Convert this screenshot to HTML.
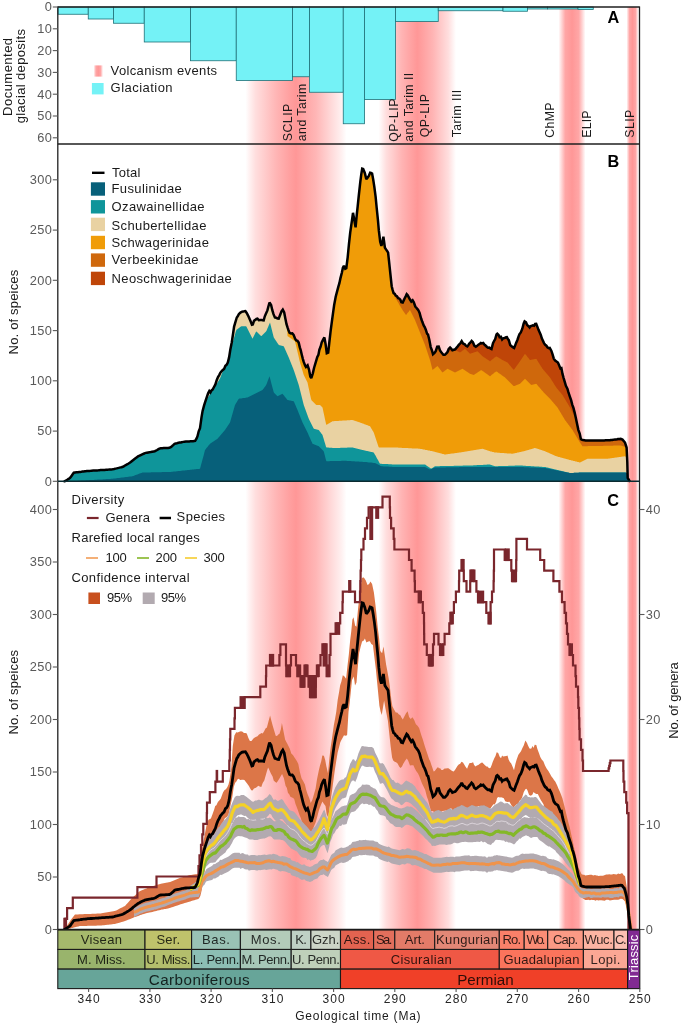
<!DOCTYPE html>
<html lang="en"><head><meta charset="utf-8"><title>Fusuline diversity, glaciation and volcanism</title>
<style>html,body{margin:0;padding:0;background:#fff}svg{display:block}</style></head>
<body>
<svg width="681" height="1024" viewBox="0 0 681 1024" font-family="'Liberation Sans', sans-serif">
<defs>
<linearGradient id="pk" x1="0" x2="1" y1="0" y2="0"><stop offset="0" stop-color="#ff9797" stop-opacity="0"/><stop offset="0.1" stop-color="#ff9797" stop-opacity="0.32"/><stop offset="0.3" stop-color="#ff9797" stop-opacity="0.72"/><stop offset="0.44" stop-color="#ff9797" stop-opacity="0.92"/><stop offset="0.5" stop-color="#ff9797" stop-opacity="1"/><stop offset="0.56" stop-color="#ff9797" stop-opacity="0.92"/><stop offset="0.7" stop-color="#ff9797" stop-opacity="0.72"/><stop offset="0.9" stop-color="#ff9797" stop-opacity="0.32"/><stop offset="1" stop-color="#ff9797" stop-opacity="0"/></linearGradient>
<linearGradient id="pk1" x1="0" x2="1" y1="0" y2="0"><stop offset="0" stop-color="#ff9797" stop-opacity="0"/><stop offset="0.03" stop-color="#ff9797" stop-opacity="0.1"/><stop offset="0.1" stop-color="#ff9797" stop-opacity="0.32"/><stop offset="0.3" stop-color="#ff9797" stop-opacity="0.7"/><stop offset="0.44" stop-color="#ff9797" stop-opacity="0.92"/><stop offset="0.5" stop-color="#ff9797" stop-opacity="1"/><stop offset="0.56" stop-color="#ff9797" stop-opacity="0.9"/><stop offset="0.7" stop-color="#ff9797" stop-opacity="0.7"/><stop offset="0.85" stop-color="#ff9797" stop-opacity="0.36"/><stop offset="0.95" stop-color="#ff9797" stop-opacity="0.14"/><stop offset="1" stop-color="#ff9797" stop-opacity="0"/></linearGradient>
<linearGradient id="pk2" x1="0" x2="1" y1="0" y2="0"><stop offset="0" stop-color="#ff9797" stop-opacity="0"/><stop offset="0.25" stop-color="#ff9797" stop-opacity="0.85"/><stop offset="0.5" stop-color="#ff9797" stop-opacity="1"/><stop offset="0.75" stop-color="#ff9797" stop-opacity="0.85"/><stop offset="1" stop-color="#ff9797" stop-opacity="0"/></linearGradient>
</defs>
<rect width="681" height="1024" fill="#fff"/>
<rect x="245.5" y="7.0" width="101.0" height="922.5" fill="url(#pk1)"/>
<rect x="378.5" y="7.0" width="77.5" height="922.5" fill="url(#pk)"/>
<rect x="558.5" y="7.0" width="27.0" height="922.5" fill="url(#pk2)"/>
<rect x="626.5" y="7.0" width="12.0" height="922.5" fill="url(#pk2)"/>
<rect x="58.00" y="7.0" width="30.25" height="7.25" fill="#74f2f6" stroke="#1f7078" stroke-width="0.8"/>
<rect x="88.25" y="7.0" width="25.25" height="12.00" fill="#74f2f6" stroke="#1f7078" stroke-width="0.8"/>
<rect x="113.50" y="7.0" width="30.75" height="16.25" fill="#74f2f6" stroke="#1f7078" stroke-width="0.8"/>
<rect x="144.25" y="7.0" width="46.25" height="35.00" fill="#74f2f6" stroke="#1f7078" stroke-width="0.8"/>
<rect x="190.50" y="7.0" width="45.75" height="53.75" fill="#74f2f6" stroke="#1f7078" stroke-width="0.8"/>
<rect x="236.25" y="7.0" width="56.25" height="73.50" fill="#74f2f6" stroke="#1f7078" stroke-width="0.8"/>
<rect x="292.50" y="7.0" width="17.00" height="69.75" fill="#74f2f6" stroke="#1f7078" stroke-width="0.8"/>
<rect x="309.50" y="7.0" width="33.75" height="85.25" fill="#74f2f6" stroke="#1f7078" stroke-width="0.8"/>
<rect x="343.25" y="7.0" width="21.25" height="116.75" fill="#74f2f6" stroke="#1f7078" stroke-width="0.8"/>
<rect x="364.50" y="7.0" width="31.00" height="92.50" fill="#74f2f6" stroke="#1f7078" stroke-width="0.8"/>
<rect x="395.50" y="7.0" width="42.75" height="14.50" fill="#74f2f6" stroke="#1f7078" stroke-width="0.8"/>
<rect x="438.25" y="7.0" width="64.75" height="3.75" fill="#74f2f6" stroke="#1f7078" stroke-width="0.8"/>
<rect x="503.00" y="7.0" width="24.50" height="4.25" fill="#74f2f6" stroke="#1f7078" stroke-width="0.8"/>
<rect x="527.50" y="7.0" width="20.00" height="2.00" fill="#74f2f6" stroke="#1f7078" stroke-width="0.8"/>
<rect x="547.50" y="7.0" width="30.50" height="2.00" fill="#74f2f6" stroke="#1f7078" stroke-width="0.8"/>
<rect x="578.00" y="7.0" width="15.25" height="2.50" fill="#74f2f6" stroke="#1f7078" stroke-width="0.8"/>
<polygon points="64.0,481.3 64.0,481.3 64.5,481.3 65.0,481.0 65.5,480.8 66.0,480.5 66.5,480.2 67.0,479.9 67.5,479.5 68.0,479.2 68.5,478.9 69.0,478.6 69.5,478.2 70.0,477.9 70.5,477.2 71.0,476.5 71.5,475.8 72.0,475.1 72.5,474.4 73.0,473.7 73.5,473.1 74.0,472.7 74.5,472.6 75.0,472.5 75.5,472.5 76.0,472.4 76.5,472.4 77.0,472.3 77.5,472.2 78.0,472.2 78.5,472.1 79.0,472.0 79.5,472.0 80.0,471.9 80.5,471.9 81.0,471.8 81.5,471.7 82.0,471.7 82.5,471.6 83.0,471.6 83.5,471.5 84.0,471.4 84.5,471.4 85.0,471.3 85.5,471.3 86.0,471.2 86.5,471.1 87.0,471.1 87.5,471.0 88.0,471.0 88.5,470.9 89.0,470.9 89.5,470.9 90.0,470.8 90.5,470.8 91.0,470.8 91.5,470.7 92.0,470.7 92.5,470.7 93.0,470.6 93.5,470.6 94.0,470.6 94.5,470.5 95.0,470.5 95.5,470.5 96.0,470.4 96.5,470.4 97.0,470.4 97.5,470.3 98.0,470.3 98.5,470.3 99.0,470.2 99.5,470.2 100.0,470.2 100.5,470.1 101.0,470.1 101.5,470.1 102.0,470.0 102.5,470.0 103.0,470.0 103.5,469.9 104.0,469.9 104.5,469.9 105.0,469.8 105.5,469.8 106.0,469.8 106.5,469.7 107.0,469.7 107.5,469.7 108.0,469.6 108.5,469.6 109.0,469.6 109.5,469.5 110.0,469.5 110.5,469.5 111.0,469.4 111.5,469.4 112.0,469.4 112.5,469.3 113.0,469.2 113.5,469.1 114.0,469.0 114.5,468.9 115.0,468.7 115.5,468.6 116.0,468.5 116.5,468.4 117.0,468.3 117.5,468.1 118.0,468.0 118.5,467.9 119.0,467.8 119.5,467.7 120.0,467.5 120.5,467.4 121.0,467.3 121.5,467.2 122.0,467.0 122.5,466.9 123.0,466.7 123.5,466.4 124.0,466.1 124.5,465.8 125.0,465.5 125.5,465.2 126.0,464.9 126.5,464.6 127.0,464.4 127.5,464.1 128.0,463.8 128.5,463.5 129.0,463.2 129.5,462.9 130.0,462.6 130.5,462.2 131.0,461.8 131.5,461.4 132.0,461.0 132.5,460.6 133.0,460.2 133.5,459.8 134.0,459.4 134.5,459.0 135.0,458.6 135.5,458.2 136.0,457.9 136.5,457.5 137.0,457.1 137.5,456.8 138.0,456.4 138.5,456.2 139.0,455.9 139.5,455.7 140.0,455.5 140.5,455.2 141.0,455.0 141.5,454.7 142.0,454.5 142.5,454.3 143.0,454.0 143.5,453.8 144.0,453.5 144.5,453.3 145.0,453.1 145.5,453.0 146.0,452.9 146.5,452.8 147.0,452.7 147.5,452.6 148.0,452.5 148.5,452.4 149.0,452.3 149.5,452.2 150.0,452.1 150.5,452.0 151.0,451.9 151.5,451.8 152.0,451.7 152.5,451.6 153.0,451.5 153.5,451.4 154.0,451.3 154.5,451.2 155.0,451.1 155.5,450.8 156.0,450.6 156.5,450.3 157.0,450.0 157.5,449.7 158.0,449.4 158.5,449.1 159.0,448.9 159.5,448.6 160.0,448.5 160.5,448.3 161.0,448.2 161.5,448.2 162.0,448.2 162.5,448.2 163.0,448.1 163.5,448.1 164.0,448.1 164.5,448.1 165.0,448.0 165.5,448.0 166.0,448.0 166.5,448.0 167.0,447.9 167.5,447.9 168.0,447.9 168.5,447.9 169.0,447.8 169.5,447.7 170.0,447.5 170.5,447.3 171.0,446.9 171.5,446.5 172.0,446.1 172.5,445.6 173.0,445.2 173.5,444.8 174.0,444.4 174.5,443.9 175.0,443.7 175.5,443.4 176.0,443.3 176.5,443.2 177.0,443.1 177.5,443.0 178.0,442.9 178.5,442.8 179.0,442.7 179.5,442.6 180.0,442.5 180.5,442.4 181.0,442.3 181.5,442.2 182.0,442.2 182.5,442.1 183.0,442.0 183.5,441.9 184.0,441.8 184.5,441.7 185.0,441.6 185.5,441.6 186.0,441.5 186.5,441.5 187.0,441.5 187.5,441.5 188.0,441.4 188.5,441.4 189.0,441.4 189.5,441.4 190.0,441.3 190.5,441.3 191.0,441.3 191.5,441.3 192.0,441.2 192.5,441.2 193.0,441.2 193.5,441.2 194.0,441.1 194.5,441.1 195.0,440.9 195.5,440.3 196.0,439.4 196.5,438.6 197.0,437.4 197.5,436.1 198.0,434.1 198.5,432.1 199.0,430.6 199.5,429.5 200.0,428.3 200.5,424.7 201.0,420.9 201.5,417.2 202.0,414.3 202.5,411.5 203.0,409.4 203.5,407.5 204.0,405.6 204.5,404.0 205.0,402.5 205.5,401.0 206.0,399.5 206.5,397.9 207.0,396.5 207.5,395.1 208.0,393.7 208.5,392.6 209.0,391.6 209.5,391.4 210.0,392.0 210.5,392.2 211.0,391.3 211.5,390.4 212.0,389.9 212.5,389.7 213.0,388.8 213.5,387.9 214.0,387.0 214.5,386.0 215.0,385.1 215.5,384.0 216.0,382.4 216.5,380.8 217.0,379.5 217.5,378.3 218.0,377.1 218.5,376.2 219.0,375.4 219.5,374.5 220.0,373.4 220.5,372.5 221.0,371.9 221.5,371.4 222.0,370.8 222.5,370.2 223.0,369.7 223.5,369.3 224.0,368.9 224.5,367.9 225.0,366.7 225.5,365.6 226.0,365.2 226.5,364.8 227.0,364.1 227.5,363.2 228.0,361.8 228.5,359.9 229.0,357.9 229.5,355.1 230.0,351.9 230.5,348.9 231.0,346.3 231.5,343.7 232.0,340.8 232.5,337.6 233.0,334.3 233.5,330.9 234.0,327.3 234.5,325.2 235.0,323.5 235.5,321.8 236.0,320.2 236.5,318.5 237.0,317.3 237.5,316.6 238.0,315.8 238.5,314.8 239.0,314.0 239.5,313.5 240.0,313.0 240.5,312.6 241.0,312.3 241.5,312.0 242.0,311.7 242.5,311.6 243.0,311.5 243.5,311.4 244.0,311.3 244.5,311.3 245.0,311.2 245.5,311.2 246.0,311.9 246.5,312.7 247.0,313.5 247.5,314.5 248.0,315.4 248.5,316.5 249.0,317.5 249.5,318.6 250.0,319.9 250.5,321.2 251.0,322.4 251.5,323.7 252.0,324.7 252.5,324.5 253.0,323.8 253.5,322.3 254.0,320.8 254.5,320.5 255.0,320.1 255.5,319.7 256.0,319.3 256.5,319.0 257.0,318.8 257.5,318.7 258.0,319.2 258.5,319.8 259.0,320.1 259.5,320.1 260.0,320.0 260.5,319.9 261.0,320.0 261.5,320.0 262.0,320.1 262.5,320.2 263.0,320.3 263.5,320.4 264.0,319.2 264.5,317.3 265.0,315.8 265.5,314.8 266.0,313.6 266.5,312.5 267.0,311.3 267.5,309.9 268.0,308.0 268.5,306.1 269.0,304.4 269.5,302.6 270.0,303.3 270.5,304.1 271.0,304.9 271.5,306.8 272.0,309.0 272.5,310.9 273.0,312.5 273.5,314.0 274.0,315.3 274.5,316.5 275.0,317.5 275.5,317.6 276.0,317.7 276.5,318.0 277.0,318.2 277.5,318.5 278.0,318.6 278.5,318.7 279.0,317.9 279.5,316.6 280.0,315.2 280.5,313.9 281.0,312.7 281.5,311.5 282.0,310.8 282.5,310.0 283.0,309.9 283.5,310.9 284.0,312.0 284.5,313.9 285.0,316.5 285.5,319.2 286.0,321.7 286.5,324.2 287.0,325.8 287.5,327.4 288.0,328.9 288.5,330.3 289.0,331.5 289.5,332.6 290.0,333.1 290.5,333.3 291.0,333.5 291.5,333.4 292.0,333.3 292.5,333.6 293.0,334.2 293.5,334.8 294.0,335.9 294.5,337.2 295.0,338.5 295.5,339.3 296.0,340.0 296.5,340.4 297.0,340.6 297.5,341.0 298.0,341.6 298.5,342.3 299.0,343.9 299.5,346.1 300.0,348.1 300.5,349.6 301.0,351.4 301.5,353.5 302.0,355.6 302.5,357.6 303.0,359.5 303.5,361.1 304.0,362.6 304.5,363.8 305.0,365.1 305.5,366.1 306.0,367.0 306.5,366.5 307.0,366.0 307.5,365.5 308.0,366.6 308.5,368.0 309.0,369.5 309.5,372.0 310.0,374.7 310.5,376.8 311.0,377.6 311.5,377.4 312.0,375.8 312.5,374.2 313.0,372.4 313.5,370.2 314.0,367.9 314.5,366.2 315.0,364.5 315.5,362.8 316.0,361.2 316.5,359.5 317.0,357.8 317.5,356.6 318.0,355.7 318.5,354.5 319.0,351.7 319.5,349.4 320.0,348.2 320.5,347.0 321.0,345.2 321.5,343.3 322.0,341.9 322.5,340.8 323.0,339.8 323.5,339.0 324.0,338.1 324.5,338.2 325.0,341.0 325.5,343.7 326.0,347.1 326.5,350.7 327.0,353.1 327.5,352.9 328.0,352.7 328.5,350.1 329.0,345.6 329.5,341.1 330.0,336.6 330.5,332.1 331.0,328.1 331.5,324.2 332.0,320.3 332.5,316.7 333.0,313.1 333.5,309.6 334.0,306.3 334.5,303.3 335.0,300.5 335.5,297.8 336.0,295.6 336.5,293.7 337.0,291.8 337.5,289.8 338.0,287.9 338.5,286.0 339.0,284.5 339.5,282.7 340.0,280.3 340.5,278.0 341.0,276.1 341.5,274.2 342.0,272.2 342.5,269.7 343.0,267.5 343.5,266.5 344.0,266.0 344.5,267.2 345.0,268.4 345.5,268.7 346.0,268.4 346.5,266.7 347.0,262.8 347.5,259.0 348.0,254.3 348.5,248.9 349.0,243.6 349.5,238.8 350.0,234.1 350.5,230.3 351.0,226.9 351.5,223.6 352.0,220.2 352.5,216.6 353.0,212.9 353.5,215.5 354.0,218.3 354.5,221.1 355.0,224.0 355.5,226.9 356.0,222.9 356.5,217.6 357.0,212.6 357.5,207.8 358.0,203.1 358.5,198.3 359.0,193.6 359.5,188.9 360.0,184.3 360.5,180.1 361.0,176.3 361.5,172.9 362.0,170.1 362.5,168.8 363.0,168.9 363.5,169.7 364.0,171.0 364.5,172.3 365.0,174.0 365.5,176.0 366.0,178.0 366.5,178.9 367.0,178.4 367.5,177.9 368.0,177.2 368.5,176.4 369.0,175.4 369.5,174.2 370.0,172.9 370.5,172.8 371.0,173.0 371.5,173.2 372.0,173.4 372.5,175.7 373.0,178.4 373.5,181.4 374.0,184.7 374.5,188.2 375.0,191.9 375.5,195.6 376.0,200.6 376.5,206.2 377.0,211.2 377.5,216.1 378.0,221.0 378.5,226.7 379.0,231.8 379.5,235.9 380.0,240.0 380.5,242.7 381.0,244.5 381.5,245.8 382.0,243.7 382.5,241.6 383.0,239.0 383.5,237.2 384.0,240.8 384.5,244.5 385.0,247.8 385.5,248.7 386.0,249.5 386.5,250.1 387.0,250.8 387.5,251.6 388.0,252.4 388.5,256.3 389.0,261.1 389.5,265.7 390.0,270.3 390.5,274.9 391.0,279.5 391.5,284.1 392.0,287.3 392.5,289.4 393.0,291.2 393.5,292.9 394.0,293.4 394.5,293.7 395.0,294.2 395.5,295.2 396.0,295.7 396.5,296.0 397.0,296.3 397.5,297.1 398.0,297.8 398.5,298.3 399.0,298.4 399.5,298.8 400.0,299.3 400.5,300.1 401.0,301.3 401.5,302.2 402.0,302.3 402.5,302.4 403.0,301.9 403.5,300.8 404.0,299.7 404.5,298.6 405.0,297.6 405.5,296.7 406.0,295.7 406.5,294.7 407.0,294.5 407.5,295.0 408.0,295.8 408.5,296.7 409.0,297.7 409.5,298.6 410.0,299.6 410.5,300.3 411.0,301.1 411.5,301.4 412.0,300.9 412.5,300.4 413.0,300.9 413.5,301.9 414.0,302.9 414.5,304.3 415.0,305.6 415.5,306.7 416.0,307.3 416.5,307.9 417.0,308.5 417.5,309.2 418.0,309.8 418.5,310.6 419.0,311.7 419.5,312.8 420.0,314.5 420.5,316.4 421.0,318.0 421.5,319.5 422.0,321.0 422.5,322.4 423.0,323.6 423.5,324.9 424.0,325.9 424.5,326.7 425.0,327.8 425.5,329.0 426.0,330.3 426.5,331.9 427.0,333.5 427.5,334.0 428.0,334.4 428.5,336.4 429.0,338.4 429.5,340.7 430.0,343.2 430.5,345.8 431.0,347.8 431.5,349.1 432.0,350.7 432.5,352.5 433.0,354.2 433.5,353.7 434.0,353.3 434.5,352.9 435.0,352.2 435.5,351.5 436.0,350.4 436.5,348.8 437.0,347.2 437.5,346.6 438.0,346.5 438.5,346.5 439.0,347.3 439.5,348.9 440.0,350.5 440.5,351.1 441.0,351.7 441.5,352.4 442.0,353.0 442.5,353.7 443.0,354.3 443.5,354.8 444.0,354.8 444.5,354.8 445.0,354.6 445.5,354.1 446.0,353.7 446.5,353.1 447.0,352.6 447.5,352.0 448.0,350.7 448.5,349.4 449.0,348.7 449.5,348.2 450.0,347.7 450.5,347.9 451.0,348.4 451.5,349.0 452.0,349.6 452.5,350.2 453.0,350.0 453.5,349.8 454.0,349.7 454.5,349.5 455.0,349.4 455.5,349.0 456.0,348.4 456.5,347.8 457.0,347.1 457.5,346.5 458.0,345.9 458.5,345.4 459.0,344.8 459.5,344.2 460.0,343.6 460.5,343.1 461.0,342.3 461.5,341.5 462.0,341.5 462.5,342.4 463.0,343.3 463.5,343.8 464.0,344.0 464.5,344.2 465.0,344.6 465.5,345.2 466.0,345.8 466.5,346.1 467.0,346.3 467.5,346.2 468.0,345.5 468.5,344.7 469.0,344.0 469.5,343.4 470.0,342.9 470.5,342.4 471.0,341.8 471.5,341.1 472.0,341.4 472.5,341.9 473.0,342.4 473.5,343.6 474.0,344.8 474.5,345.7 475.0,346.1 475.5,346.4 476.0,346.5 476.5,346.2 477.0,345.9 477.5,345.5 478.0,345.1 478.5,344.7 479.0,344.3 479.5,344.0 480.0,343.6 480.5,343.2 481.0,343.0 481.5,343.3 482.0,343.3 482.5,343.2 483.0,343.0 483.5,343.3 484.0,344.0 484.5,344.6 485.0,345.1 485.5,345.5 486.0,346.0 486.5,346.5 487.0,347.0 487.5,347.3 488.0,347.7 488.5,347.7 489.0,347.6 489.5,347.7 490.0,348.1 490.5,348.5 491.0,348.8 491.5,349.0 492.0,347.1 492.5,345.1 493.0,343.1 493.5,342.2 494.0,341.3 494.5,340.3 495.0,339.4 495.5,337.9 496.0,336.2 496.5,334.5 497.0,334.1 497.5,334.0 498.0,334.4 498.5,334.9 499.0,336.0 499.5,337.1 500.0,337.1 500.5,337.0 501.0,337.1 501.5,338.1 502.0,339.2 502.5,338.9 503.0,338.4 503.5,338.2 504.0,338.1 504.5,338.1 505.0,337.9 505.5,337.6 506.0,337.3 506.5,337.3 507.0,337.4 507.5,338.4 508.0,339.3 508.5,339.8 509.0,340.8 509.5,342.6 510.0,344.3 510.5,345.3 511.0,345.8 511.5,346.2 512.0,346.6 512.5,347.0 513.0,347.4 513.5,347.7 514.0,348.0 514.5,347.1 515.0,346.0 515.5,344.5 516.0,343.1 516.5,342.0 517.0,340.9 517.5,339.7 518.0,338.2 518.5,336.6 519.0,335.3 519.5,334.0 520.0,333.4 520.5,332.8 521.0,331.9 521.5,330.7 522.0,329.5 522.5,328.1 523.0,326.2 523.5,324.3 524.0,322.8 524.5,321.7 525.0,321.6 525.5,322.0 526.0,322.3 526.5,323.6 527.0,324.8 527.5,325.4 528.0,325.8 528.5,326.2 529.0,326.8 529.5,327.4 530.0,326.9 530.5,326.3 531.0,326.1 531.5,325.9 532.0,325.7 532.5,325.5 533.0,325.4 533.5,325.6 534.0,325.7 534.5,324.9 535.0,324.2 535.5,324.0 536.0,323.9 536.5,324.7 537.0,325.9 537.5,327.2 538.0,328.5 538.5,329.8 539.0,330.9 539.5,332.1 540.0,333.2 540.5,334.3 541.0,335.6 541.5,337.3 542.0,338.8 542.5,339.8 543.0,340.9 543.5,342.0 544.0,343.0 544.5,343.8 545.0,344.5 545.5,345.0 546.0,345.4 546.5,345.9 547.0,346.6 547.5,347.4 548.0,347.7 548.5,348.0 549.0,348.1 549.5,348.0 550.0,348.3 550.5,349.3 551.0,350.3 551.5,351.4 552.0,352.8 552.5,354.3 553.0,355.9 553.5,357.5 554.0,358.8 554.5,359.5 555.0,360.2 555.5,360.7 556.0,361.1 556.5,361.5 557.0,361.8 557.5,362.2 558.0,362.6 558.5,363.8 559.0,364.9 559.5,366.1 560.0,367.3 560.5,368.4 561.0,368.2 561.5,368.6 562.0,371.2 562.5,373.7 563.0,375.7 563.5,377.6 564.0,379.2 564.5,380.9 565.0,382.5 565.5,384.4 566.0,386.1 566.5,387.0 567.0,388.0 567.5,389.1 568.0,390.9 568.5,392.6 569.0,394.0 569.5,395.4 570.0,396.9 570.5,398.3 571.0,399.8 571.5,401.6 572.0,403.5 572.5,405.3 573.0,406.7 573.5,408.4 574.0,410.2 574.5,412.1 575.0,414.3 575.5,416.5 576.0,418.8 576.5,421.2 577.0,423.6 577.5,425.9 578.0,428.1 578.5,430.3 579.0,431.7 579.5,433.1 580.0,435.1 580.5,437.4 581.0,439.2 581.5,439.5 582.0,439.8 582.5,440.0 583.0,440.0 583.5,440.1 584.0,440.2 584.5,440.3 585.0,440.4 585.5,440.5 586.0,440.6 586.5,440.6 587.0,440.6 587.5,440.6 588.0,440.6 588.5,440.6 589.0,440.6 589.5,440.6 590.0,440.6 590.5,440.6 591.0,440.6 591.5,440.6 592.0,440.6 592.5,440.6 593.0,440.6 593.5,440.6 594.0,440.6 594.5,440.6 595.0,440.6 595.5,440.6 596.0,440.6 596.5,440.6 597.0,440.6 597.5,440.6 598.0,440.6 598.5,440.6 599.0,440.6 599.5,440.6 600.0,440.6 600.5,440.6 601.0,440.6 601.5,440.6 602.0,440.5 602.5,440.5 603.0,440.5 603.5,440.5 604.0,440.4 604.5,440.4 605.0,440.4 605.5,440.4 606.0,440.3 606.5,440.3 607.0,440.3 607.5,440.3 608.0,440.2 608.5,440.2 609.0,440.2 609.5,440.2 610.0,440.1 610.5,440.1 611.0,440.0 611.5,440.0 612.0,439.9 612.5,439.8 613.0,439.8 613.5,439.7 614.0,439.7 614.5,439.6 615.0,439.5 615.5,439.5 616.0,439.4 616.5,439.3 617.0,439.3 617.5,439.2 618.0,439.2 618.5,439.1 619.0,439.0 619.5,439.0 620.0,438.9 620.5,438.9 621.0,439.0 621.5,439.2 622.0,439.4 622.5,439.6 623.0,440.2 623.5,440.8 624.0,441.3 624.5,441.9 625.0,442.5 625.5,444.1 626.0,445.6 626.5,447.2 627.0,455.8 627.5,470.0 628.0,478.5 628.5,479.3 629.0,480.2 629.5,481.0 630.0,481.0 630.5,481.0 631.0,481.0 631.0,481.3" fill="#bf4508"/>
<polygon points="64.0,481.3 64.0,481.3 64.5,481.3 65.0,481.0 65.5,480.8 66.0,480.5 66.5,480.2 67.0,479.9 67.5,479.5 68.0,479.2 68.5,478.9 69.0,478.6 69.5,478.2 70.0,477.9 70.5,477.2 71.0,476.5 71.5,475.8 72.0,475.1 72.5,474.4 73.0,473.7 73.5,473.1 74.0,472.7 74.5,472.6 75.0,472.5 75.5,472.5 76.0,472.4 76.5,472.4 77.0,472.3 77.5,472.2 78.0,472.2 78.5,472.1 79.0,472.0 79.5,472.0 80.0,471.9 80.5,471.9 81.0,471.8 81.5,471.7 82.0,471.7 82.5,471.6 83.0,471.6 83.5,471.5 84.0,471.4 84.5,471.4 85.0,471.3 85.5,471.3 86.0,471.2 86.5,471.1 87.0,471.1 87.5,471.0 88.0,471.0 88.5,470.9 89.0,470.9 89.5,470.9 90.0,470.8 90.5,470.8 91.0,470.8 91.5,470.7 92.0,470.7 92.5,470.7 93.0,470.6 93.5,470.6 94.0,470.6 94.5,470.5 95.0,470.5 95.5,470.5 96.0,470.4 96.5,470.4 97.0,470.4 97.5,470.3 98.0,470.3 98.5,470.3 99.0,470.2 99.5,470.2 100.0,470.2 100.5,470.1 101.0,470.1 101.5,470.1 102.0,470.0 102.5,470.0 103.0,470.0 103.5,469.9 104.0,469.9 104.5,469.9 105.0,469.8 105.5,469.8 106.0,469.8 106.5,469.7 107.0,469.7 107.5,469.7 108.0,469.6 108.5,469.6 109.0,469.6 109.5,469.5 110.0,469.5 110.5,469.5 111.0,469.4 111.5,469.4 112.0,469.4 112.5,469.3 113.0,469.2 113.5,469.1 114.0,469.0 114.5,468.9 115.0,468.7 115.5,468.6 116.0,468.5 116.5,468.4 117.0,468.3 117.5,468.1 118.0,468.0 118.5,467.9 119.0,467.8 119.5,467.7 120.0,467.5 120.5,467.4 121.0,467.3 121.5,467.2 122.0,467.0 122.5,466.9 123.0,466.7 123.5,466.4 124.0,466.1 124.5,465.8 125.0,465.5 125.5,465.2 126.0,464.9 126.5,464.6 127.0,464.4 127.5,464.1 128.0,463.8 128.5,463.5 129.0,463.2 129.5,462.9 130.0,462.6 130.5,462.2 131.0,461.8 131.5,461.4 132.0,461.0 132.5,460.6 133.0,460.2 133.5,459.8 134.0,459.4 134.5,459.0 135.0,458.6 135.5,458.2 136.0,457.9 136.5,457.5 137.0,457.1 137.5,456.8 138.0,456.4 138.5,456.2 139.0,455.9 139.5,455.7 140.0,455.5 140.5,455.2 141.0,455.0 141.5,454.7 142.0,454.5 142.5,454.3 143.0,454.0 143.5,453.8 144.0,453.5 144.5,453.3 145.0,453.1 145.5,453.0 146.0,452.9 146.5,452.8 147.0,452.7 147.5,452.6 148.0,452.5 148.5,452.4 149.0,452.3 149.5,452.2 150.0,452.1 150.5,452.0 151.0,451.9 151.5,451.8 152.0,451.7 152.5,451.6 153.0,451.5 153.5,451.4 154.0,451.3 154.5,451.2 155.0,451.1 155.5,450.8 156.0,450.6 156.5,450.3 157.0,450.0 157.5,449.7 158.0,449.4 158.5,449.1 159.0,448.9 159.5,448.6 160.0,448.5 160.5,448.3 161.0,448.2 161.5,448.2 162.0,448.2 162.5,448.2 163.0,448.1 163.5,448.1 164.0,448.1 164.5,448.1 165.0,448.0 165.5,448.0 166.0,448.0 166.5,448.0 167.0,447.9 167.5,447.9 168.0,447.9 168.5,447.9 169.0,447.8 169.5,447.7 170.0,447.5 170.5,447.3 171.0,446.9 171.5,446.5 172.0,446.1 172.5,445.6 173.0,445.2 173.5,444.8 174.0,444.4 174.5,443.9 175.0,443.7 175.5,443.4 176.0,443.3 176.5,443.2 177.0,443.1 177.5,443.0 178.0,442.9 178.5,442.8 179.0,442.7 179.5,442.6 180.0,442.5 180.5,442.4 181.0,442.3 181.5,442.2 182.0,442.2 182.5,442.1 183.0,442.0 183.5,441.9 184.0,441.8 184.5,441.7 185.0,441.6 185.5,441.6 186.0,441.5 186.5,441.5 187.0,441.5 187.5,441.5 188.0,441.4 188.5,441.4 189.0,441.4 189.5,441.4 190.0,441.3 190.5,441.3 191.0,441.3 191.5,441.3 192.0,441.2 192.5,441.2 193.0,441.2 193.5,441.2 194.0,441.1 194.5,441.1 195.0,440.9 195.5,440.3 196.0,439.4 196.5,438.6 197.0,437.4 197.5,436.1 198.0,434.1 198.5,432.1 199.0,430.6 199.5,429.5 200.0,428.3 200.5,424.7 201.0,420.9 201.5,417.2 202.0,414.3 202.5,411.5 203.0,409.4 203.5,407.5 204.0,405.6 204.5,404.0 205.0,402.5 205.5,401.0 206.0,399.5 206.5,397.9 207.0,396.5 207.5,395.1 208.0,393.7 208.5,392.6 209.0,391.6 209.5,391.4 210.0,392.0 210.5,392.2 211.0,391.3 211.5,390.4 212.0,389.9 212.5,389.7 213.0,388.8 213.5,387.9 214.0,387.0 214.5,386.0 215.0,385.1 215.5,384.0 216.0,382.4 216.5,380.8 217.0,379.5 217.5,378.3 218.0,377.1 218.5,376.2 219.0,375.4 219.5,374.5 220.0,373.4 220.5,372.5 221.0,371.9 221.5,371.4 222.0,370.8 222.5,370.2 223.0,369.7 223.5,369.3 224.0,368.9 224.5,367.9 225.0,366.7 225.5,365.6 226.0,365.2 226.5,364.8 227.0,364.1 227.5,363.2 228.0,361.8 228.5,359.9 229.0,357.9 229.5,355.1 230.0,351.9 230.5,348.9 231.0,346.3 231.5,343.7 232.0,340.8 232.5,337.6 233.0,334.3 233.5,330.9 234.0,327.3 234.5,325.2 235.0,323.5 235.5,321.8 236.0,320.2 236.5,318.5 237.0,317.3 237.5,316.6 238.0,315.8 238.5,314.8 239.0,314.0 239.5,313.5 240.0,313.0 240.5,312.6 241.0,312.3 241.5,312.0 242.0,311.7 242.5,311.6 243.0,311.5 243.5,311.4 244.0,311.3 244.5,311.3 245.0,311.2 245.5,311.2 246.0,311.9 246.5,312.7 247.0,313.5 247.5,314.5 248.0,315.4 248.5,316.5 249.0,317.5 249.5,318.6 250.0,319.9 250.5,321.2 251.0,322.4 251.5,323.7 252.0,324.7 252.5,324.5 253.0,323.8 253.5,322.3 254.0,320.8 254.5,320.5 255.0,320.1 255.5,319.7 256.0,319.3 256.5,319.0 257.0,318.8 257.5,318.7 258.0,319.2 258.5,319.8 259.0,320.1 259.5,320.1 260.0,320.0 260.5,319.9 261.0,320.0 261.5,320.0 262.0,320.1 262.5,320.2 263.0,320.3 263.5,320.4 264.0,319.2 264.5,317.3 265.0,315.8 265.5,314.8 266.0,313.6 266.5,312.5 267.0,311.3 267.5,309.9 268.0,308.0 268.5,306.1 269.0,304.4 269.5,302.6 270.0,303.3 270.5,304.1 271.0,304.9 271.5,306.8 272.0,309.0 272.5,310.9 273.0,312.5 273.5,314.0 274.0,315.3 274.5,316.5 275.0,317.5 275.5,317.6 276.0,317.7 276.5,318.0 277.0,318.2 277.5,318.5 278.0,318.6 278.5,318.7 279.0,317.9 279.5,316.6 280.0,315.2 280.5,313.9 281.0,312.7 281.5,311.5 282.0,310.8 282.5,310.0 283.0,309.9 283.5,310.9 284.0,312.0 284.5,313.9 285.0,316.5 285.5,319.2 286.0,321.7 286.5,324.2 287.0,325.8 287.5,327.4 288.0,328.9 288.5,330.3 289.0,331.5 289.5,332.6 290.0,333.1 290.5,333.3 291.0,333.5 291.5,333.4 292.0,333.3 292.5,333.6 293.0,334.2 293.5,334.8 294.0,335.9 294.5,337.2 295.0,338.5 295.5,339.3 296.0,340.0 296.5,340.4 297.0,340.6 297.5,341.0 298.0,341.6 298.5,342.3 299.0,343.9 299.5,346.1 300.0,348.1 300.5,349.6 301.0,351.4 301.5,353.5 302.0,355.6 302.5,357.6 303.0,359.5 303.5,361.1 304.0,362.6 304.5,363.8 305.0,365.1 305.5,366.1 306.0,367.0 306.5,366.5 307.0,366.0 307.5,365.5 308.0,366.6 308.5,368.0 309.0,369.5 309.5,372.0 310.0,374.7 310.5,376.8 311.0,377.6 311.5,377.4 312.0,375.8 312.5,374.2 313.0,372.4 313.5,370.2 314.0,367.9 314.5,366.2 315.0,364.5 315.5,362.8 316.0,361.2 316.5,359.5 317.0,357.8 317.5,356.6 318.0,355.7 318.5,354.5 319.0,351.7 319.5,349.4 320.0,348.2 320.5,347.0 321.0,345.2 321.5,343.3 322.0,341.9 322.5,340.8 323.0,339.8 323.5,339.0 324.0,338.1 324.5,338.2 325.0,341.0 325.5,343.7 326.0,347.1 326.5,350.7 327.0,353.1 327.5,352.9 328.0,352.7 328.5,350.1 329.0,345.6 329.5,341.1 330.0,336.6 330.5,332.1 331.0,328.1 331.5,324.2 332.0,320.3 332.5,316.7 333.0,313.1 333.5,309.6 334.0,306.3 334.5,303.3 335.0,300.5 335.5,297.8 336.0,295.6 336.5,293.7 337.0,291.8 337.5,289.8 338.0,287.9 338.5,286.0 339.0,284.5 339.5,282.7 340.0,280.3 340.5,278.0 341.0,276.1 341.5,274.2 342.0,272.2 342.5,269.7 343.0,267.5 343.5,266.5 344.0,266.0 344.5,267.2 345.0,268.4 345.5,268.7 346.0,268.4 346.5,266.7 347.0,262.8 347.5,259.0 348.0,254.3 348.5,248.9 349.0,243.6 349.5,238.8 350.0,234.1 350.5,230.3 351.0,226.9 351.5,223.6 352.0,220.2 352.5,216.6 353.0,212.9 353.5,215.5 354.0,218.3 354.5,221.1 355.0,224.0 355.5,226.9 356.0,222.9 356.5,217.6 357.0,212.6 357.5,207.8 358.0,203.1 358.5,198.3 359.0,193.6 359.5,188.9 360.0,184.3 360.5,180.1 361.0,176.3 361.5,172.9 362.0,170.1 362.5,168.8 363.0,168.9 363.5,169.7 364.0,171.0 364.5,172.3 365.0,174.0 365.5,176.0 366.0,178.0 366.5,178.9 367.0,178.4 367.5,177.9 368.0,177.2 368.5,176.4 369.0,175.4 369.5,174.2 370.0,172.9 370.5,172.8 371.0,173.0 371.5,173.2 372.0,173.4 372.5,175.7 373.0,178.4 373.5,181.4 374.0,184.7 374.5,188.2 375.0,191.9 375.5,195.6 376.0,200.6 376.5,206.2 377.0,211.2 377.5,216.1 378.0,221.0 378.5,226.7 379.0,231.8 379.5,235.9 380.0,240.0 380.5,242.7 381.0,244.5 381.5,245.8 382.0,243.7 382.5,241.6 383.0,239.0 383.5,237.2 384.0,240.8 384.5,244.5 385.0,247.8 385.5,248.7 386.0,249.5 386.5,250.1 387.0,250.8 387.5,251.6 388.0,252.4 388.5,256.3 389.0,261.1 389.5,265.7 390.0,270.3 390.5,274.9 391.0,279.5 391.5,284.1 392.0,287.3 392.5,289.4 393.0,291.2 393.5,292.9 394.0,293.4 394.5,293.7 395.0,294.2 395.5,295.2 396.0,295.7 396.5,296.0 397.0,296.3 397.5,297.1 398.0,297.8 398.5,298.3 399.0,298.4 399.5,298.8 400.0,299.3 400.5,300.1 401.0,301.3 401.5,302.2 402.0,302.3 402.5,302.4 403.0,301.9 403.5,300.8 404.0,299.7 404.5,298.6 405.0,297.6 405.5,296.7 406.0,295.7 406.5,294.7 407.0,294.5 407.5,295.0 408.0,295.8 408.5,296.7 409.0,297.7 409.5,298.6 410.0,299.6 410.5,300.3 411.0,301.1 411.5,301.4 412.0,300.9 412.5,300.4 413.0,300.9 413.5,301.9 414.0,302.9 414.5,304.3 415.0,305.6 415.5,306.7 416.0,307.3 416.5,307.9 417.0,308.5 417.5,309.2 418.0,309.8 418.5,310.6 419.0,311.7 419.5,312.8 420.0,314.5 420.5,316.4 421.0,318.0 421.5,319.5 422.0,321.0 422.5,322.4 423.0,323.6 423.5,324.9 424.0,325.9 424.5,326.7 425.0,327.8 425.5,329.0 426.0,330.3 426.5,331.9 427.0,333.5 427.5,334.0 428.0,334.4 428.5,336.4 429.0,338.4 429.5,340.7 430.0,343.2 430.5,345.8 431.0,347.8 431.5,349.1 432.0,350.7 432.5,352.5 433.0,354.2 433.5,353.7 434.0,353.3 434.5,352.9 435.0,352.2 435.5,351.5 436.0,350.4 436.5,348.8 437.0,347.2 437.5,346.6 438.0,346.5 438.5,346.5 439.0,347.3 439.5,348.9 440.0,350.5 440.5,351.1 441.0,351.7 441.5,352.4 442.0,353.0 442.5,353.7 443.0,354.3 443.5,354.8 444.0,354.8 444.5,354.8 445.0,354.6 445.5,354.1 446.0,353.7 446.5,353.1 447.0,352.6 447.5,352.2 448.0,352.1 448.5,351.9 449.0,351.8 449.5,351.6 450.0,351.5 450.5,351.4 451.0,351.2 451.5,351.1 452.0,350.9 452.5,350.8 453.0,350.6 453.5,350.4 454.0,350.3 454.5,350.1 455.0,350.0 455.5,350.2 456.0,350.5 456.5,350.8 457.0,351.0 457.5,351.2 458.0,351.5 458.5,351.8 459.0,352.0 459.5,352.2 460.0,352.5 460.5,352.1 461.0,351.8 461.5,351.4 462.0,351.0 462.5,350.6 463.0,350.2 463.5,349.9 464.0,349.5 464.5,349.1 465.0,348.8 465.5,349.2 466.0,349.8 466.5,350.2 467.0,350.8 467.5,351.2 468.0,351.8 468.5,352.2 469.0,352.8 469.5,353.2 470.0,353.8 470.5,353.6 471.0,353.4 471.5,353.2 472.0,353.1 472.5,352.9 473.0,352.8 473.5,352.6 474.0,352.4 474.5,352.2 475.0,352.1 475.5,351.9 476.0,351.8 476.5,351.6 477.0,351.4 477.5,351.2 478.0,351.8 478.5,352.2 479.0,352.8 479.5,353.2 480.0,353.8 480.5,354.2 481.0,354.8 481.5,355.2 482.0,355.8 482.5,356.2 483.0,356.6 483.5,356.9 484.0,357.2 484.5,357.6 485.0,357.9 485.5,358.2 486.0,358.6 486.5,358.9 487.0,359.2 487.5,359.6 488.0,359.9 488.5,360.2 489.0,360.6 489.5,360.9 490.0,361.2 490.5,360.9 491.0,360.4 491.5,360.1 492.0,359.6 492.5,359.2 493.0,358.9 493.5,358.4 494.0,358.1 494.5,357.6 495.0,357.2 495.5,356.9 496.0,356.4 496.5,356.4 497.0,356.7 497.5,357.0 498.0,357.3 498.5,357.6 499.0,357.9 499.5,358.2 500.0,358.5 500.5,358.8 501.0,359.1 501.5,359.4 502.0,359.7 502.5,360.0 503.0,360.2 503.5,360.5 504.0,360.8 504.5,361.0 505.0,361.2 505.5,361.5 506.0,361.8 506.5,362.0 507.0,362.2 507.5,362.5 508.0,363.1 508.5,363.7 509.0,364.3 509.5,364.9 510.0,365.5 510.5,366.1 511.0,366.7 511.5,367.3 512.0,367.9 512.5,368.5 513.0,369.1 513.5,369.7 514.0,369.6 514.5,368.9 515.0,368.2 515.5,367.6 516.0,366.9 516.5,366.1 517.0,365.4 517.5,364.8 518.0,364.1 518.5,363.4 519.0,362.6 519.5,361.9 520.0,361.2 520.5,360.5 521.0,359.8 521.5,359.0 522.0,358.2 522.5,357.5 523.0,356.8 523.5,356.0 524.0,355.2 524.5,354.5 525.0,353.8 525.5,354.4 526.0,355.0 526.5,355.6 527.0,356.2 527.5,356.9 528.0,357.5 528.5,358.1 529.0,358.8 529.5,359.4 530.0,360.0 530.5,359.9 531.0,359.8 531.5,359.7 532.0,359.6 532.5,359.5 533.0,359.4 533.5,359.3 534.0,359.2 534.5,359.1 535.0,359.0 535.5,358.9 536.0,358.8 536.5,359.1 537.0,359.9 537.5,360.8 538.0,361.6 538.5,362.4 539.0,363.1 539.5,363.9 540.0,364.8 540.5,365.6 541.0,366.4 541.5,367.1 542.0,367.9 542.5,368.8 543.0,369.3 543.5,369.9 544.0,370.5 544.5,371.1 545.0,371.7 545.5,372.2 546.0,372.8 546.5,373.4 547.0,374.0 547.5,374.6 548.0,375.2 548.5,375.8 549.0,376.3 549.5,376.9 550.0,377.5 550.5,378.3 551.0,379.1 551.5,379.9 552.0,380.7 552.5,381.5 553.0,382.3 553.5,383.1 554.0,383.9 554.5,384.7 555.0,385.5 555.5,386.3 556.0,387.1 556.5,387.8 557.0,388.4 557.5,389.0 558.0,389.6 558.5,390.2 559.0,390.8 559.5,391.4 560.0,392.0 560.5,392.6 561.0,393.2 561.5,393.8 562.0,394.4 562.5,395.0 563.0,395.8 563.5,396.7 564.0,397.5 564.5,398.3 565.0,399.2 565.5,400.0 566.0,400.8 566.5,401.7 567.0,402.5 567.5,403.3 568.0,404.2 568.5,405.0 569.0,405.8 569.5,406.7 570.0,407.5 570.5,408.5 571.0,409.5 571.5,410.5 572.0,411.5 572.5,412.5 573.0,413.5 573.5,414.5 574.0,415.5 574.5,416.5 575.0,417.5 575.5,419.6 576.0,421.8 576.5,423.9 577.0,426.0 577.5,428.1 578.0,430.2 578.5,432.4 579.0,434.5 579.5,436.6 580.0,438.8 580.5,439.2 581.0,439.8 581.5,440.2 582.0,440.8 582.5,441.2 583.0,441.2 583.5,441.2 584.0,441.2 584.5,441.2 585.0,441.2 585.5,441.2 586.0,441.2 586.5,441.2 587.0,441.2 587.5,441.2 588.0,441.2 588.5,441.2 589.0,441.2 589.5,441.2 590.0,441.2 590.5,441.2 591.0,441.2 591.5,441.2 592.0,441.2 592.5,441.2 593.0,441.2 593.5,441.2 594.0,441.2 594.5,441.2 595.0,441.2 595.5,441.2 596.0,441.2 596.5,441.2 597.0,441.2 597.5,441.2 598.0,441.2 598.5,441.2 599.0,441.2 599.5,441.2 600.0,441.2 600.5,441.2 601.0,441.2 601.5,441.1 602.0,441.1 602.5,441.1 603.0,441.1 603.5,441.1 604.0,441.1 604.5,441.1 605.0,441.1 605.5,441.1 606.0,441.1 606.5,441.1 607.0,441.1 607.5,441.1 608.0,441.1 608.5,441.1 609.0,441.1 609.5,441.1 610.0,441.1 610.5,441.1 611.0,441.1 611.5,441.1 612.0,441.1 612.5,441.1 613.0,441.1 613.5,441.1 614.0,441.1 614.5,441.1 615.0,441.1 615.5,441.1 616.0,441.1 616.5,441.1 617.0,441.1 617.5,441.1 618.0,441.1 618.5,441.1 619.0,441.1 619.5,441.1 620.0,441.1 620.5,441.1 621.0,441.0 621.5,441.0 622.0,441.0 622.5,441.0 623.0,441.0 623.5,441.0 624.0,441.3 624.5,441.9 625.0,442.5 625.5,444.1 626.0,445.6 626.5,447.2 627.0,455.8 627.5,470.0 628.0,478.5 628.5,479.3 629.0,480.2 629.5,481.0 630.0,481.0 630.5,481.0 631.0,481.0 631.0,481.3" fill="#cf680c"/>
<polygon points="64.0,481.3 64.0,481.3 64.5,481.3 65.0,481.0 65.5,480.8 66.0,480.5 66.5,480.2 67.0,479.9 67.5,479.5 68.0,479.2 68.5,478.9 69.0,478.6 69.5,478.2 70.0,477.9 70.5,477.2 71.0,476.5 71.5,475.8 72.0,475.1 72.5,474.4 73.0,473.7 73.5,473.1 74.0,472.7 74.5,472.6 75.0,472.5 75.5,472.5 76.0,472.4 76.5,472.4 77.0,472.3 77.5,472.2 78.0,472.2 78.5,472.1 79.0,472.0 79.5,472.0 80.0,471.9 80.5,471.9 81.0,471.8 81.5,471.7 82.0,471.7 82.5,471.6 83.0,471.6 83.5,471.5 84.0,471.4 84.5,471.4 85.0,471.3 85.5,471.3 86.0,471.2 86.5,471.1 87.0,471.1 87.5,471.0 88.0,471.0 88.5,470.9 89.0,470.9 89.5,470.9 90.0,470.8 90.5,470.8 91.0,470.8 91.5,470.7 92.0,470.7 92.5,470.7 93.0,470.6 93.5,470.6 94.0,470.6 94.5,470.5 95.0,470.5 95.5,470.5 96.0,470.4 96.5,470.4 97.0,470.4 97.5,470.3 98.0,470.3 98.5,470.3 99.0,470.2 99.5,470.2 100.0,470.2 100.5,470.1 101.0,470.1 101.5,470.1 102.0,470.0 102.5,470.0 103.0,470.0 103.5,469.9 104.0,469.9 104.5,469.9 105.0,469.8 105.5,469.8 106.0,469.8 106.5,469.7 107.0,469.7 107.5,469.7 108.0,469.6 108.5,469.6 109.0,469.6 109.5,469.5 110.0,469.5 110.5,469.5 111.0,469.4 111.5,469.4 112.0,469.4 112.5,469.3 113.0,469.2 113.5,469.1 114.0,469.0 114.5,468.9 115.0,468.7 115.5,468.6 116.0,468.5 116.5,468.4 117.0,468.3 117.5,468.1 118.0,468.0 118.5,467.9 119.0,467.8 119.5,467.7 120.0,467.5 120.5,467.4 121.0,467.3 121.5,467.2 122.0,467.0 122.5,466.9 123.0,466.7 123.5,466.4 124.0,466.1 124.5,465.8 125.0,465.5 125.5,465.2 126.0,464.9 126.5,464.6 127.0,464.4 127.5,464.1 128.0,463.8 128.5,463.5 129.0,463.2 129.5,462.9 130.0,462.6 130.5,462.2 131.0,461.8 131.5,461.4 132.0,461.0 132.5,460.6 133.0,460.2 133.5,459.8 134.0,459.4 134.5,459.0 135.0,458.6 135.5,458.2 136.0,457.9 136.5,457.5 137.0,457.1 137.5,456.8 138.0,456.4 138.5,456.2 139.0,455.9 139.5,455.7 140.0,455.5 140.5,455.2 141.0,455.0 141.5,454.7 142.0,454.5 142.5,454.3 143.0,454.0 143.5,453.8 144.0,453.5 144.5,453.3 145.0,453.1 145.5,453.0 146.0,452.9 146.5,452.8 147.0,452.7 147.5,452.6 148.0,452.5 148.5,452.4 149.0,452.3 149.5,452.2 150.0,452.1 150.5,452.0 151.0,451.9 151.5,451.8 152.0,451.7 152.5,451.6 153.0,451.5 153.5,451.4 154.0,451.3 154.5,451.2 155.0,451.1 155.5,450.8 156.0,450.6 156.5,450.3 157.0,450.0 157.5,449.7 158.0,449.4 158.5,449.1 159.0,448.9 159.5,448.6 160.0,448.5 160.5,448.3 161.0,448.2 161.5,448.2 162.0,448.2 162.5,448.2 163.0,448.1 163.5,448.1 164.0,448.1 164.5,448.1 165.0,448.0 165.5,448.0 166.0,448.0 166.5,448.0 167.0,447.9 167.5,447.9 168.0,447.9 168.5,447.9 169.0,447.8 169.5,447.7 170.0,447.5 170.5,447.3 171.0,446.9 171.5,446.5 172.0,446.1 172.5,445.6 173.0,445.2 173.5,444.8 174.0,444.4 174.5,443.9 175.0,443.7 175.5,443.4 176.0,443.3 176.5,443.2 177.0,443.1 177.5,443.0 178.0,442.9 178.5,442.8 179.0,442.7 179.5,442.6 180.0,442.5 180.5,442.4 181.0,442.3 181.5,442.2 182.0,442.2 182.5,442.1 183.0,442.0 183.5,441.9 184.0,441.8 184.5,441.7 185.0,441.6 185.5,441.6 186.0,441.5 186.5,441.5 187.0,441.5 187.5,441.5 188.0,441.4 188.5,441.4 189.0,441.4 189.5,441.4 190.0,441.3 190.5,441.3 191.0,441.3 191.5,441.3 192.0,441.2 192.5,441.2 193.0,441.2 193.5,441.2 194.0,441.1 194.5,441.1 195.0,440.9 195.5,440.3 196.0,439.4 196.5,438.6 197.0,437.4 197.5,436.1 198.0,434.1 198.5,432.1 199.0,430.6 199.5,429.5 200.0,428.3 200.5,424.7 201.0,420.9 201.5,417.2 202.0,414.3 202.5,411.5 203.0,409.4 203.5,407.5 204.0,405.6 204.5,404.0 205.0,402.5 205.5,401.0 206.0,399.5 206.5,397.9 207.0,396.5 207.5,395.1 208.0,393.7 208.5,392.6 209.0,391.6 209.5,391.4 210.0,392.0 210.5,392.2 211.0,391.3 211.5,390.4 212.0,389.9 212.5,389.7 213.0,388.8 213.5,387.9 214.0,387.0 214.5,386.0 215.0,385.1 215.5,384.0 216.0,382.4 216.5,380.8 217.0,379.5 217.5,378.3 218.0,377.1 218.5,376.2 219.0,375.4 219.5,374.5 220.0,373.4 220.5,372.5 221.0,371.9 221.5,371.4 222.0,370.8 222.5,370.2 223.0,369.7 223.5,369.3 224.0,368.9 224.5,367.9 225.0,366.7 225.5,365.6 226.0,365.2 226.5,364.8 227.0,364.1 227.5,363.2 228.0,361.8 228.5,359.9 229.0,357.9 229.5,355.1 230.0,351.9 230.5,348.9 231.0,346.3 231.5,343.7 232.0,340.8 232.5,337.6 233.0,334.3 233.5,330.9 234.0,327.3 234.5,325.2 235.0,323.5 235.5,321.8 236.0,320.2 236.5,318.5 237.0,317.3 237.5,316.6 238.0,315.8 238.5,314.8 239.0,314.0 239.5,313.5 240.0,313.0 240.5,312.6 241.0,312.3 241.5,312.0 242.0,311.7 242.5,311.6 243.0,311.5 243.5,311.4 244.0,311.3 244.5,311.3 245.0,311.2 245.5,311.2 246.0,311.9 246.5,312.7 247.0,313.5 247.5,314.5 248.0,315.4 248.5,316.5 249.0,317.5 249.5,318.6 250.0,319.9 250.5,321.2 251.0,322.4 251.5,323.7 252.0,324.7 252.5,324.5 253.0,323.8 253.5,322.3 254.0,320.8 254.5,320.5 255.0,320.1 255.5,319.7 256.0,319.3 256.5,319.0 257.0,318.8 257.5,318.7 258.0,319.2 258.5,319.8 259.0,320.1 259.5,320.1 260.0,320.0 260.5,319.9 261.0,320.0 261.5,320.0 262.0,320.1 262.5,320.2 263.0,320.3 263.5,320.4 264.0,319.2 264.5,317.3 265.0,315.8 265.5,314.8 266.0,313.6 266.5,312.5 267.0,311.3 267.5,309.9 268.0,308.0 268.5,306.1 269.0,304.4 269.5,302.6 270.0,303.3 270.5,304.1 271.0,304.9 271.5,306.8 272.0,309.0 272.5,310.9 273.0,312.5 273.5,314.0 274.0,315.3 274.5,316.5 275.0,317.5 275.5,317.6 276.0,317.7 276.5,318.0 277.0,318.2 277.5,318.5 278.0,318.6 278.5,318.7 279.0,317.9 279.5,316.6 280.0,315.2 280.5,313.9 281.0,312.7 281.5,311.5 282.0,310.8 282.5,310.0 283.0,309.9 283.5,310.9 284.0,312.0 284.5,313.9 285.0,316.5 285.5,319.2 286.0,321.7 286.5,324.2 287.0,325.8 287.5,327.4 288.0,328.9 288.5,330.3 289.0,331.5 289.5,332.6 290.0,333.1 290.5,333.3 291.0,333.5 291.5,333.4 292.0,333.3 292.5,333.6 293.0,334.2 293.5,334.8 294.0,335.9 294.5,337.2 295.0,338.5 295.5,339.3 296.0,340.0 296.5,340.4 297.0,340.6 297.5,341.0 298.0,341.6 298.5,342.3 299.0,343.9 299.5,346.1 300.0,348.1 300.5,349.6 301.0,351.4 301.5,353.5 302.0,355.6 302.5,357.6 303.0,359.5 303.5,361.1 304.0,362.6 304.5,363.8 305.0,365.1 305.5,366.1 306.0,367.0 306.5,366.5 307.0,366.0 307.5,365.5 308.0,366.6 308.5,368.0 309.0,369.5 309.5,372.0 310.0,374.7 310.5,376.8 311.0,377.6 311.5,377.4 312.0,375.8 312.5,374.2 313.0,372.4 313.5,370.2 314.0,367.9 314.5,366.2 315.0,364.5 315.5,362.8 316.0,361.2 316.5,359.5 317.0,357.8 317.5,356.6 318.0,355.7 318.5,354.5 319.0,351.7 319.5,349.4 320.0,348.2 320.5,347.0 321.0,345.2 321.5,343.3 322.0,341.9 322.5,340.8 323.0,339.8 323.5,339.0 324.0,338.1 324.5,338.2 325.0,341.0 325.5,343.7 326.0,347.1 326.5,350.7 327.0,353.1 327.5,352.9 328.0,352.7 328.5,350.1 329.0,345.6 329.5,341.1 330.0,336.6 330.5,332.1 331.0,328.1 331.5,324.2 332.0,320.3 332.5,316.7 333.0,313.1 333.5,309.6 334.0,306.3 334.5,303.3 335.0,300.5 335.5,297.8 336.0,295.6 336.5,293.7 337.0,291.8 337.5,289.8 338.0,287.9 338.5,286.0 339.0,284.5 339.5,282.7 340.0,280.3 340.5,278.0 341.0,276.1 341.5,274.2 342.0,272.2 342.5,269.7 343.0,267.5 343.5,266.5 344.0,266.0 344.5,267.2 345.0,268.4 345.5,268.7 346.0,268.4 346.5,266.7 347.0,262.8 347.5,259.0 348.0,254.3 348.5,248.9 349.0,243.6 349.5,238.8 350.0,234.1 350.5,230.3 351.0,226.9 351.5,223.6 352.0,220.2 352.5,216.6 353.0,212.9 353.5,215.5 354.0,218.3 354.5,221.1 355.0,224.0 355.5,226.9 356.0,222.9 356.5,217.6 357.0,212.6 357.5,207.8 358.0,203.1 358.5,198.3 359.0,193.6 359.5,188.9 360.0,184.3 360.5,180.1 361.0,176.3 361.5,172.9 362.0,170.1 362.5,168.8 363.0,168.9 363.5,169.7 364.0,171.0 364.5,172.3 365.0,174.0 365.5,176.0 366.0,178.0 366.5,178.9 367.0,178.4 367.5,177.9 368.0,177.2 368.5,176.4 369.0,175.4 369.5,174.2 370.0,172.9 370.5,172.8 371.0,173.0 371.5,173.2 372.0,173.4 372.5,175.7 373.0,178.4 373.5,181.4 374.0,184.7 374.5,188.2 375.0,191.9 375.5,195.6 376.0,200.6 376.5,206.2 377.0,211.2 377.5,216.1 378.0,221.0 378.5,226.7 379.0,231.8 379.5,235.9 380.0,240.0 380.5,242.7 381.0,244.5 381.5,245.8 382.0,243.7 382.5,241.6 383.0,239.0 383.5,237.2 384.0,240.8 384.5,244.5 385.0,247.8 385.5,248.7 386.0,249.5 386.5,250.1 387.0,250.8 387.5,251.6 388.0,252.4 388.5,256.3 389.0,261.1 389.5,265.7 390.0,270.3 390.5,274.9 391.0,279.5 391.5,284.1 392.0,287.3 392.5,289.4 393.0,291.2 393.5,292.9 394.0,295.4 394.5,296.3 395.0,297.1 395.5,298.0 396.0,298.9 396.5,299.7 397.0,300.6 397.5,301.4 398.0,302.3 398.5,303.1 399.0,304.0 399.5,304.9 400.0,305.7 400.5,306.6 401.0,307.4 401.5,308.3 402.0,309.1 402.5,310.0 403.0,310.7 403.5,311.4 404.0,312.1 404.5,312.9 405.0,313.6 405.5,314.3 406.0,315.0 406.5,314.4 407.0,313.8 407.5,313.1 408.0,312.5 408.5,311.9 409.0,311.2 409.5,310.6 410.0,310.0 410.5,311.0 411.0,312.0 411.5,313.0 412.0,314.0 412.5,315.0 413.0,316.0 413.5,317.0 414.0,318.0 414.5,319.0 415.0,320.0 415.5,321.2 416.0,322.5 416.5,323.8 417.0,325.0 417.5,326.2 418.0,327.5 418.5,328.8 419.0,330.0 419.5,331.2 420.0,332.5 420.5,333.8 421.0,335.0 421.5,336.2 422.0,337.5 422.5,338.8 423.0,340.0 423.5,341.2 424.0,342.5 424.5,343.8 425.0,345.0 425.5,346.5 426.0,348.0 426.5,349.5 427.0,351.0 427.5,352.5 428.0,354.0 428.5,355.5 429.0,357.0 429.5,358.5 430.0,360.0 430.5,362.0 431.0,364.0 431.5,366.0 432.0,368.0 432.5,370.0 433.0,369.6 433.5,369.2 434.0,368.8 434.5,368.4 435.0,368.0 435.5,367.6 436.0,367.2 436.5,366.8 437.0,366.4 437.5,366.0 438.0,366.6 438.5,367.3 439.0,367.9 439.5,368.6 440.0,369.2 440.5,369.9 441.0,370.6 441.5,371.2 442.0,371.9 442.5,372.5 443.0,372.1 443.5,371.8 444.0,371.4 444.5,371.0 445.0,370.6 445.5,370.2 446.0,369.9 446.5,369.5 447.0,369.1 447.5,368.8 448.0,369.0 448.5,369.2 449.0,369.5 449.5,369.8 450.0,370.0 450.5,370.2 451.0,370.5 451.5,370.8 452.0,371.0 452.5,371.2 453.0,371.5 453.5,371.8 454.0,372.0 454.5,372.2 455.0,372.5 455.5,372.2 456.0,372.0 456.5,371.8 457.0,371.5 457.5,371.2 458.0,371.0 458.5,370.8 459.0,370.5 459.5,370.2 460.0,370.0 460.5,369.8 461.0,369.5 461.5,369.2 462.0,369.0 462.5,368.8 463.0,369.1 463.5,369.4 464.0,369.8 464.5,370.1 465.0,370.4 465.5,370.8 466.0,371.1 466.5,371.4 467.0,371.8 467.5,372.1 468.0,372.4 468.5,372.8 469.0,373.1 469.5,373.4 470.0,373.8 470.5,373.9 471.0,374.1 471.5,374.2 472.0,374.4 472.5,374.6 473.0,374.8 473.5,374.9 474.0,374.8 474.5,374.5 475.0,374.2 475.5,373.8 476.0,373.5 476.5,373.2 477.0,372.8 477.5,372.5 478.0,372.2 478.5,371.8 479.0,371.5 479.5,371.2 480.0,370.8 480.5,370.5 481.0,370.2 481.5,370.2 482.0,370.5 482.5,370.9 483.0,371.2 483.5,371.6 484.0,372.0 484.5,372.3 485.0,372.7 485.5,373.0 486.0,373.4 486.5,373.8 487.0,374.1 487.5,374.5 488.0,374.8 488.5,375.2 489.0,375.5 489.5,375.9 490.0,376.2 490.5,375.9 491.0,375.4 491.5,375.1 492.0,374.6 492.5,374.2 493.0,373.9 493.5,373.4 494.0,373.1 494.5,372.6 495.0,372.2 495.5,371.9 496.0,371.4 496.5,371.4 497.0,371.8 497.5,372.1 498.0,372.5 498.5,372.9 499.0,373.2 499.5,373.6 500.0,373.9 500.5,374.3 501.0,374.6 501.5,375.0 502.0,375.4 502.5,375.7 503.0,376.1 503.5,376.4 504.0,376.8 504.5,377.1 505.0,377.5 505.5,378.0 506.0,378.5 506.5,379.0 507.0,379.5 507.5,380.0 508.0,380.5 508.5,381.0 509.0,381.5 509.5,382.0 510.0,382.5 510.5,383.0 511.0,383.5 511.5,384.0 512.0,384.5 512.5,385.0 513.0,385.5 513.5,386.0 514.0,386.1 514.5,385.9 515.0,385.8 515.5,385.6 516.0,385.4 516.5,385.1 517.0,384.9 517.5,384.8 518.0,384.6 518.5,384.4 519.0,384.1 519.5,383.9 520.0,383.8 520.5,383.2 521.0,382.8 521.5,382.2 522.0,381.8 522.5,381.2 523.0,380.8 523.5,380.2 524.0,379.8 524.5,379.2 525.0,378.8 525.5,379.2 526.0,379.8 526.5,380.2 527.0,380.8 527.5,381.2 528.0,381.8 528.5,382.2 529.0,382.8 529.5,383.2 530.0,383.8 530.5,384.2 531.0,384.8 531.5,384.9 532.0,384.8 532.5,384.7 533.0,384.6 533.5,384.4 534.0,384.3 534.5,384.2 535.0,384.1 535.5,383.9 536.0,383.8 536.5,384.0 537.0,384.6 537.5,385.2 538.0,385.8 538.5,386.4 539.0,387.0 539.5,387.5 540.0,388.1 540.5,388.7 541.0,389.3 541.5,389.9 542.0,390.5 542.5,391.0 543.0,391.6 543.5,392.2 544.0,392.8 544.5,393.2 545.0,393.8 545.5,394.2 546.0,394.8 546.5,395.2 547.0,395.8 547.5,396.2 548.0,396.8 548.5,397.2 549.0,397.8 549.5,398.2 550.0,398.8 550.5,399.3 551.0,399.9 551.5,400.5 552.0,401.1 552.5,401.7 553.0,402.2 553.5,402.8 554.0,403.4 554.5,404.0 555.0,404.6 555.5,405.2 556.0,405.8 556.5,406.3 557.0,406.9 557.5,407.5 558.0,408.3 558.5,409.2 559.0,410.0 559.5,410.8 560.0,411.7 560.5,412.5 561.0,413.3 561.5,414.2 562.0,415.0 562.5,415.8 563.0,416.7 563.5,417.5 564.0,418.3 564.5,419.2 565.0,420.0 565.5,420.7 566.0,421.3 566.5,422.0 567.0,422.7 567.5,423.3 568.0,424.0 568.5,424.7 569.0,425.3 569.5,426.0 570.0,426.7 570.5,427.3 571.0,428.0 571.5,428.7 572.0,429.3 572.5,430.0 573.0,430.8 573.5,431.7 574.0,432.5 574.5,433.3 575.0,434.2 575.5,435.0 576.0,435.8 576.5,436.7 577.0,437.5 577.5,438.3 578.0,439.2 578.5,440.0 579.0,440.8 579.5,441.7 580.0,442.5 580.5,443.2 581.0,444.0 581.5,444.8 582.0,445.5 582.5,446.2 583.0,446.2 583.5,446.2 584.0,446.2 584.5,446.2 585.0,446.2 585.5,446.2 586.0,446.2 586.5,446.2 587.0,446.2 587.5,446.2 588.0,446.1 588.5,446.1 589.0,446.1 589.5,446.1 590.0,446.1 590.5,446.1 591.0,446.1 591.5,446.1 592.0,446.1 592.5,446.1 593.0,446.0 593.5,446.0 594.0,446.0 594.5,446.0 595.0,446.0 595.5,446.0 596.0,446.0 596.5,446.0 597.0,446.0 597.5,446.0 598.0,445.9 598.5,445.9 599.0,445.9 599.5,445.9 600.0,445.9 600.5,445.9 601.0,445.9 601.5,445.9 602.0,445.9 602.5,445.9 603.0,445.9 603.5,445.8 604.0,445.8 604.5,445.8 605.0,445.8 605.5,445.8 606.0,445.8 606.5,445.8 607.0,445.8 607.5,445.8 608.0,445.8 608.5,445.7 609.0,445.7 609.5,445.7 610.0,445.7 610.5,445.7 611.0,445.7 611.5,445.7 612.0,445.7 612.5,445.7 613.0,445.7 613.5,445.6 614.0,445.6 614.5,445.6 615.0,445.6 615.5,445.6 616.0,445.6 616.5,445.6 617.0,445.6 617.5,445.6 618.0,445.6 618.5,445.5 619.0,445.5 619.5,445.5 620.0,445.5 620.5,445.5 621.0,445.5 621.5,445.7 622.0,445.9 622.5,446.1 623.0,446.2 623.5,446.4 624.0,446.6 624.5,446.8 625.0,447.0 625.5,447.7 626.0,448.3 626.5,449.0 627.0,455.8 627.5,470.0 628.0,481.0 628.5,481.0 629.0,481.0 629.5,481.0 630.0,481.0 630.5,481.0 631.0,481.0 631.0,481.3" fill="#f09c08"/>
<polygon points="64.0,481.3 64.0,481.3 64.5,481.3 65.0,481.0 65.5,480.8 66.0,480.5 66.5,480.2 67.0,479.9 67.5,479.5 68.0,479.2 68.5,478.9 69.0,478.6 69.5,478.2 70.0,477.9 70.5,477.2 71.0,476.5 71.5,475.8 72.0,475.1 72.5,474.4 73.0,473.7 73.5,473.1 74.0,472.7 74.5,472.6 75.0,472.5 75.5,472.5 76.0,472.4 76.5,472.4 77.0,472.3 77.5,472.2 78.0,472.2 78.5,472.1 79.0,472.0 79.5,472.0 80.0,471.9 80.5,471.9 81.0,471.8 81.5,471.7 82.0,471.7 82.5,471.6 83.0,471.6 83.5,471.5 84.0,471.4 84.5,471.4 85.0,471.3 85.5,471.3 86.0,471.2 86.5,471.1 87.0,471.1 87.5,471.0 88.0,471.0 88.5,470.9 89.0,470.9 89.5,470.9 90.0,470.8 90.5,470.8 91.0,470.8 91.5,470.7 92.0,470.7 92.5,470.7 93.0,470.6 93.5,470.6 94.0,470.6 94.5,470.5 95.0,470.5 95.5,470.5 96.0,470.4 96.5,470.4 97.0,470.4 97.5,470.3 98.0,470.3 98.5,470.3 99.0,470.2 99.5,470.2 100.0,470.2 100.5,470.1 101.0,470.1 101.5,470.1 102.0,470.0 102.5,470.0 103.0,470.0 103.5,469.9 104.0,469.9 104.5,469.9 105.0,469.8 105.5,469.8 106.0,469.8 106.5,469.7 107.0,469.7 107.5,469.7 108.0,469.6 108.5,469.6 109.0,469.6 109.5,469.5 110.0,469.5 110.5,469.5 111.0,469.4 111.5,469.4 112.0,469.4 112.5,469.3 113.0,469.2 113.5,469.1 114.0,469.0 114.5,468.9 115.0,468.7 115.5,468.6 116.0,468.5 116.5,468.4 117.0,468.3 117.5,468.1 118.0,468.0 118.5,467.9 119.0,467.8 119.5,467.7 120.0,467.5 120.5,467.4 121.0,467.3 121.5,467.2 122.0,467.0 122.5,466.9 123.0,466.7 123.5,466.4 124.0,466.1 124.5,465.8 125.0,465.5 125.5,465.2 126.0,464.9 126.5,464.6 127.0,464.4 127.5,464.1 128.0,463.8 128.5,463.5 129.0,463.2 129.5,462.9 130.0,462.6 130.5,462.2 131.0,461.8 131.5,461.4 132.0,461.0 132.5,460.6 133.0,460.2 133.5,459.8 134.0,459.4 134.5,459.0 135.0,458.6 135.5,458.2 136.0,457.9 136.5,457.5 137.0,457.1 137.5,456.8 138.0,456.4 138.5,456.2 139.0,455.9 139.5,455.7 140.0,455.5 140.5,455.2 141.0,455.0 141.5,454.7 142.0,454.5 142.5,454.3 143.0,454.0 143.5,453.8 144.0,453.5 144.5,453.3 145.0,453.1 145.5,453.0 146.0,452.9 146.5,452.8 147.0,452.7 147.5,452.6 148.0,452.5 148.5,452.4 149.0,452.3 149.5,452.2 150.0,452.1 150.5,452.0 151.0,451.9 151.5,451.8 152.0,451.7 152.5,451.6 153.0,451.5 153.5,451.4 154.0,451.3 154.5,451.2 155.0,451.1 155.5,450.8 156.0,450.6 156.5,450.3 157.0,450.0 157.5,449.7 158.0,449.4 158.5,449.1 159.0,448.9 159.5,448.6 160.0,448.5 160.5,448.3 161.0,448.2 161.5,448.2 162.0,448.2 162.5,448.2 163.0,448.1 163.5,448.1 164.0,448.1 164.5,448.1 165.0,448.0 165.5,448.0 166.0,448.0 166.5,448.0 167.0,447.9 167.5,447.9 168.0,447.9 168.5,447.9 169.0,447.8 169.5,447.7 170.0,447.5 170.5,447.3 171.0,446.9 171.5,446.5 172.0,446.1 172.5,445.6 173.0,445.2 173.5,444.8 174.0,444.4 174.5,443.9 175.0,443.7 175.5,443.4 176.0,443.3 176.5,443.2 177.0,443.1 177.5,443.0 178.0,442.9 178.5,442.8 179.0,442.7 179.5,442.6 180.0,442.5 180.5,442.4 181.0,442.3 181.5,442.2 182.0,442.2 182.5,442.1 183.0,442.0 183.5,441.9 184.0,441.8 184.5,441.7 185.0,441.6 185.5,441.6 186.0,441.5 186.5,441.5 187.0,441.5 187.5,441.5 188.0,441.4 188.5,441.4 189.0,441.4 189.5,441.4 190.0,441.3 190.5,441.3 191.0,441.3 191.5,441.3 192.0,441.2 192.5,441.2 193.0,441.2 193.5,441.2 194.0,441.1 194.5,441.1 195.0,440.9 195.5,440.3 196.0,439.4 196.5,438.6 197.0,437.4 197.5,436.1 198.0,434.1 198.5,432.1 199.0,430.6 199.5,429.5 200.0,428.3 200.5,424.7 201.0,420.9 201.5,417.2 202.0,414.3 202.5,411.5 203.0,409.4 203.5,407.5 204.0,405.6 204.5,404.0 205.0,402.5 205.5,401.0 206.0,399.5 206.5,397.9 207.0,396.5 207.5,395.1 208.0,393.7 208.5,392.6 209.0,391.6 209.5,391.4 210.0,392.0 210.5,392.2 211.0,391.3 211.5,390.4 212.0,389.9 212.5,389.7 213.0,388.8 213.5,387.9 214.0,387.0 214.5,386.0 215.0,385.1 215.5,384.0 216.0,382.4 216.5,380.8 217.0,379.5 217.5,378.3 218.0,377.1 218.5,376.2 219.0,375.4 219.5,374.5 220.0,373.4 220.5,372.5 221.0,371.9 221.5,371.4 222.0,370.8 222.5,370.2 223.0,369.7 223.5,369.3 224.0,368.9 224.5,367.9 225.0,366.7 225.5,365.6 226.0,365.2 226.5,364.8 227.0,364.1 227.5,363.2 228.0,361.8 228.5,359.9 229.0,357.9 229.5,355.1 230.0,351.9 230.5,348.9 231.0,346.3 231.5,343.7 232.0,340.8 232.5,337.6 233.0,334.3 233.5,330.9 234.0,327.3 234.5,325.2 235.0,323.5 235.5,321.8 236.0,320.2 236.5,318.5 237.0,317.3 237.5,316.6 238.0,315.8 238.5,314.8 239.0,314.0 239.5,313.5 240.0,313.0 240.5,312.6 241.0,312.3 241.5,312.0 242.0,311.7 242.5,311.6 243.0,311.5 243.5,311.4 244.0,311.3 244.5,311.3 245.0,311.2 245.5,311.2 246.0,311.9 246.5,312.7 247.0,313.5 247.5,314.5 248.0,315.4 248.5,316.5 249.0,317.5 249.5,318.6 250.0,319.9 250.5,321.2 251.0,322.4 251.5,323.7 252.0,324.7 252.5,324.5 253.0,323.8 253.5,322.3 254.0,320.8 254.5,320.5 255.0,320.1 255.5,319.7 256.0,319.3 256.5,319.0 257.0,318.8 257.5,318.7 258.0,319.2 258.5,319.8 259.0,320.1 259.5,320.1 260.0,320.0 260.5,319.9 261.0,320.0 261.5,320.0 262.0,320.1 262.5,320.2 263.0,320.3 263.5,320.4 264.0,319.2 264.5,317.3 265.0,315.8 265.5,314.8 266.0,313.6 266.5,312.5 267.0,311.3 267.5,309.9 268.0,308.0 268.5,306.1 269.0,304.4 269.5,302.6 270.0,303.3 270.5,304.1 271.0,304.9 271.5,306.8 272.0,309.0 272.5,310.9 273.0,312.5 273.5,314.0 274.0,315.3 274.5,316.5 275.0,317.5 275.5,317.6 276.0,317.7 276.5,318.0 277.0,318.2 277.5,318.5 278.0,318.6 278.5,318.7 279.0,317.9 279.5,316.6 280.0,315.2 280.5,313.9 281.0,312.7 281.5,311.5 282.0,310.8 282.5,310.0 283.0,309.9 283.5,310.9 284.0,312.0 284.5,313.9 285.0,316.5 285.5,319.2 286.0,321.7 286.5,324.2 287.0,325.8 287.5,336.0 288.0,336.4 288.5,336.7 289.0,337.1 289.5,337.4 290.0,337.8 290.5,338.1 291.0,338.4 291.5,338.8 292.0,339.1 292.5,339.5 293.0,339.9 293.5,340.2 294.0,340.6 294.5,340.9 295.0,341.2 295.5,343.4 296.0,345.5 296.5,347.6 297.0,349.8 297.5,351.9 298.0,354.0 298.5,356.1 299.0,358.2 299.5,360.4 300.0,362.5 300.5,364.2 301.0,365.8 301.5,367.5 302.0,369.2 302.5,370.8 303.0,372.5 303.5,374.2 304.0,375.5 304.5,376.5 305.0,377.5 305.5,378.5 306.0,379.5 306.5,380.5 307.0,381.5 307.5,382.5 308.0,384.8 308.5,387.2 309.0,389.5 309.5,391.8 310.0,394.2 310.5,396.5 311.0,398.8 311.5,400.2 312.0,400.8 312.5,401.2 313.0,401.8 313.5,402.2 314.0,402.8 314.5,403.2 315.0,403.8 315.5,404.2 316.0,404.8 316.5,405.0 317.0,405.0 317.5,405.0 318.0,405.0 318.5,405.0 319.0,405.0 319.5,405.0 320.0,405.0 320.5,405.5 321.0,406.0 321.5,406.5 322.0,407.0 322.5,407.5 323.0,409.8 323.5,412.2 324.0,414.5 324.5,416.8 325.0,419.2 325.5,421.5 326.0,423.8 326.5,424.9 327.0,424.6 327.5,424.2 328.0,423.9 328.5,423.6 329.0,423.4 329.5,423.1 330.0,422.8 330.5,422.4 331.0,422.1 331.5,421.9 332.0,421.6 332.5,421.2 333.0,421.2 333.5,421.2 334.0,421.2 334.5,421.1 335.0,421.1 335.5,421.1 336.0,421.0 336.5,421.0 337.0,421.0 337.5,420.9 338.0,420.9 338.5,420.9 339.0,420.8 339.5,420.8 340.0,420.8 340.5,420.8 341.0,420.7 341.5,420.7 342.0,420.7 342.5,420.6 343.0,420.6 343.5,420.6 344.0,420.5 344.5,420.5 345.0,420.5 345.5,420.4 346.0,420.4 346.5,420.4 347.0,420.3 347.5,420.3 348.0,420.3 348.5,420.2 349.0,420.2 349.5,420.2 350.0,420.2 350.5,420.1 351.0,420.1 351.5,420.1 352.0,420.0 352.5,420.0 353.0,420.2 353.5,420.3 354.0,420.5 354.5,420.7 355.0,420.8 355.5,421.0 356.0,421.2 356.5,421.3 357.0,421.5 357.5,421.7 358.0,421.8 358.5,422.0 359.0,422.2 359.5,422.3 360.0,422.5 360.5,422.7 361.0,422.9 361.5,423.1 362.0,423.2 362.5,423.4 363.0,423.6 363.5,423.8 364.0,424.0 364.5,424.2 365.0,424.4 365.5,424.6 366.0,424.8 366.5,424.9 367.0,425.1 367.5,425.3 368.0,425.5 368.5,425.7 369.0,425.9 369.5,426.1 370.0,426.2 370.5,427.1 371.0,427.9 371.5,428.8 372.0,429.6 372.5,430.4 373.0,431.2 373.5,432.1 374.0,433.2 374.5,434.8 375.0,436.2 375.5,437.8 376.0,439.2 376.5,440.8 377.0,442.2 377.5,443.8 378.0,445.2 378.5,446.8 379.0,447.5 379.5,447.5 380.0,447.5 380.5,447.5 381.0,447.5 381.5,447.5 382.0,447.5 382.5,447.5 383.0,447.5 383.5,447.5 384.0,447.5 384.5,447.5 385.0,447.5 385.5,447.5 386.0,447.5 386.5,447.5 387.0,447.5 387.5,447.5 388.0,447.5 388.5,447.5 389.0,447.5 389.5,447.5 390.0,447.5 390.5,447.5 391.0,447.5 391.5,447.5 392.0,447.5 392.5,447.5 393.0,447.5 393.5,447.5 394.0,447.5 394.5,447.5 395.0,447.5 395.5,447.5 396.0,447.6 396.5,447.6 397.0,447.6 397.5,447.6 398.0,447.6 398.5,447.7 399.0,447.7 399.5,447.7 400.0,447.8 400.5,447.8 401.0,447.8 401.5,447.8 402.0,447.9 402.5,447.9 403.0,447.9 403.5,447.9 404.0,447.9 404.5,448.0 405.0,448.0 405.5,448.0 406.0,448.1 406.5,448.1 407.0,448.1 407.5,448.1 408.0,448.1 408.5,448.2 409.0,448.2 409.5,448.2 410.0,448.2 410.5,448.3 411.0,448.3 411.5,448.3 412.0,448.4 412.5,448.4 413.0,448.4 413.5,448.4 414.0,448.4 414.5,448.5 415.0,448.5 415.5,448.5 416.0,448.6 416.5,448.6 417.0,448.6 417.5,448.6 418.0,448.6 418.5,448.7 419.0,448.7 419.5,448.7 420.0,448.8 420.5,448.9 421.0,448.9 421.5,449.1 422.0,449.1 422.5,449.2 423.0,449.4 423.5,449.4 424.0,449.6 424.5,449.6 425.0,449.8 425.5,449.9 426.0,449.9 426.5,450.1 427.0,450.1 427.5,450.2 428.0,450.4 428.5,450.4 429.0,450.6 429.5,450.6 430.0,450.8 430.5,450.9 431.0,450.9 431.5,451.1 432.0,451.1 432.5,451.2 433.0,451.4 433.5,451.5 434.0,451.6 434.5,451.8 435.0,451.9 435.5,452.0 436.0,452.2 436.5,452.3 437.0,452.4 437.5,452.6 438.0,452.7 438.5,452.8 439.0,452.9 439.5,453.1 440.0,453.2 440.5,453.3 441.0,453.5 441.5,453.6 442.0,453.7 442.5,453.9 443.0,454.0 443.5,454.1 444.0,454.2 444.5,454.4 445.0,454.5 445.5,454.4 446.0,454.4 446.5,454.3 447.0,454.2 447.5,454.2 448.0,454.1 448.5,454.0 449.0,454.0 449.5,453.9 450.0,453.8 450.5,453.8 451.0,453.7 451.5,453.6 452.0,453.6 452.5,453.5 453.0,453.4 453.5,453.4 454.0,453.3 454.5,453.2 455.0,453.2 455.5,453.1 456.0,453.0 456.5,453.0 457.0,452.9 457.5,452.8 458.0,452.8 458.5,452.7 459.0,452.6 459.5,452.6 460.0,452.5 460.5,452.4 461.0,452.3 461.5,452.2 462.0,452.2 462.5,452.1 463.0,452.0 463.5,451.9 464.0,451.8 464.5,451.8 465.0,451.7 465.5,451.6 466.0,451.5 466.5,451.4 467.0,451.3 467.5,451.2 468.0,451.2 468.5,451.1 469.0,451.0 469.5,450.9 470.0,450.8 470.5,450.8 471.0,450.7 471.5,450.6 472.0,450.5 472.5,450.4 473.0,450.3 473.5,450.2 474.0,450.2 474.5,450.1 475.0,450.0 475.5,449.9 476.0,449.8 476.5,449.8 477.0,449.7 477.5,449.6 478.0,449.5 478.5,449.4 479.0,449.3 479.5,449.2 480.0,449.2 480.5,449.1 481.0,449.0 481.5,448.9 482.0,448.8 482.5,448.8 483.0,448.9 483.5,449.1 484.0,449.2 484.5,449.4 485.0,449.6 485.5,449.8 486.0,449.9 486.5,450.1 487.0,450.2 487.5,450.4 488.0,450.6 488.5,450.8 489.0,450.9 489.5,451.1 490.0,451.2 490.5,451.4 491.0,451.5 491.5,451.6 492.0,451.8 492.5,451.9 493.0,452.0 493.5,452.1 494.0,452.2 494.5,452.4 495.0,452.5 495.5,452.5 496.0,452.6 496.5,452.6 497.0,452.6 497.5,452.7 498.0,452.7 498.5,452.8 499.0,452.8 499.5,452.8 500.0,452.9 500.5,452.9 501.0,452.9 501.5,453.0 502.0,453.0 502.5,453.0 503.0,453.1 503.5,453.1 504.0,453.1 504.5,453.2 505.0,453.2 505.5,453.2 506.0,453.3 506.5,453.3 507.0,453.4 507.5,453.4 508.0,453.4 508.5,453.5 509.0,453.5 509.5,453.5 510.0,453.6 510.5,453.6 511.0,453.6 511.5,453.7 512.0,453.7 512.5,453.8 513.0,453.6 513.5,453.5 514.0,453.4 514.5,453.3 515.0,453.2 515.5,453.1 516.0,453.0 516.5,452.9 517.0,452.8 517.5,452.6 518.0,452.5 518.5,452.4 519.0,452.3 519.5,452.2 520.0,452.1 520.5,452.0 521.0,451.9 521.5,451.8 522.0,451.6 522.5,451.5 523.0,451.4 523.5,451.3 524.0,451.2 524.5,451.0 525.0,450.9 525.5,450.7 526.0,450.6 526.5,450.5 527.0,450.3 527.5,450.2 528.0,450.0 528.5,449.9 529.0,449.7 529.5,449.6 530.0,449.4 530.5,449.3 531.0,449.2 531.5,449.0 532.0,448.9 532.5,448.7 533.0,448.6 533.5,448.4 534.0,448.3 534.5,448.1 535.0,448.0 535.5,448.2 536.0,448.3 536.5,448.5 537.0,448.6 537.5,448.8 538.0,449.0 538.5,449.1 539.0,449.3 539.5,449.5 540.0,449.6 540.5,449.8 541.0,449.9 541.5,450.1 542.0,450.3 542.5,450.4 543.0,450.6 543.5,450.8 544.0,450.9 544.5,451.1 545.0,451.2 545.5,451.5 546.0,451.7 546.5,451.9 547.0,452.1 547.5,452.4 548.0,452.6 548.5,452.8 549.0,453.0 549.5,453.2 550.0,453.5 550.5,453.7 551.0,453.9 551.5,454.1 552.0,454.4 552.5,454.6 553.0,454.8 553.5,455.0 554.0,455.2 554.5,455.5 555.0,455.7 555.5,455.9 556.0,456.1 556.5,456.3 557.0,456.5 557.5,456.6 558.0,456.7 558.5,456.9 559.0,457.0 559.5,457.1 560.0,457.3 560.5,457.4 561.0,457.5 561.5,457.7 562.0,457.8 562.5,458.0 563.0,458.1 563.5,458.2 564.0,458.4 564.5,458.5 565.0,458.6 565.5,458.8 566.0,458.9 566.5,459.0 567.0,459.2 567.5,459.3 568.0,459.5 568.5,459.6 569.0,459.7 569.5,459.9 570.0,460.0 570.5,460.1 571.0,460.2 571.5,460.4 572.0,460.5 572.5,460.6 573.0,460.8 573.5,460.9 574.0,461.0 574.5,461.1 575.0,461.2 575.5,461.4 576.0,461.5 576.5,461.6 577.0,461.8 577.5,461.9 578.0,462.0 578.5,462.1 579.0,462.2 579.5,462.4 580.0,462.5 580.5,462.2 581.0,462.0 581.5,461.8 582.0,461.5 582.5,461.2 583.0,461.0 583.5,460.8 584.0,460.5 584.5,460.2 585.0,460.0 585.5,459.8 586.0,459.5 586.5,459.2 587.0,459.0 587.5,458.8 588.0,458.8 588.5,458.8 589.0,458.8 589.5,458.8 590.0,458.8 590.5,458.8 591.0,458.8 591.5,458.8 592.0,458.8 592.5,458.8 593.0,458.8 593.5,458.8 594.0,458.8 594.5,458.8 595.0,458.8 595.5,458.8 596.0,458.8 596.5,458.8 597.0,458.8 597.5,458.8 598.0,458.8 598.5,458.8 599.0,458.8 599.5,458.8 600.0,458.8 600.5,458.8 601.0,458.8 601.5,458.8 602.0,458.8 602.5,458.8 603.0,458.8 603.5,458.8 604.0,458.8 604.5,458.8 605.0,458.8 605.5,458.8 606.0,458.8 606.5,458.8 607.0,458.8 607.5,458.8 608.0,458.7 608.5,458.6 609.0,458.5 609.5,458.5 610.0,458.4 610.5,458.3 611.0,458.2 611.5,458.2 612.0,458.1 612.5,458.0 613.0,458.0 613.5,457.9 614.0,457.8 614.5,457.8 615.0,457.7 615.5,457.6 616.0,457.5 616.5,457.5 617.0,457.4 617.5,457.3 618.0,457.2 618.5,457.2 619.0,457.1 619.5,457.0 620.0,457.0 620.5,456.9 621.0,456.8 621.5,456.8 622.0,456.7 622.5,456.6 623.0,456.5 623.5,456.5 624.0,456.4 624.5,456.3 625.0,456.2 625.5,456.6 626.0,457.0 626.5,457.4 627.0,457.8 627.5,470.0 628.0,481.0 628.5,481.0 629.0,481.0 629.5,481.0 630.0,481.0 630.5,481.0 631.0,481.0 631.0,481.3" fill="#e9d2a2"/>
<polygon points="64.0,481.3 64.0,481.3 64.5,481.3 65.0,481.0 65.5,480.8 66.0,480.5 66.5,480.2 67.0,479.9 67.5,479.5 68.0,479.2 68.5,478.9 69.0,478.6 69.5,478.2 70.0,477.9 70.5,477.2 71.0,476.5 71.5,475.8 72.0,475.1 72.5,474.4 73.0,473.7 73.5,473.1 74.0,472.7 74.5,472.6 75.0,472.5 75.5,472.5 76.0,472.4 76.5,472.4 77.0,472.3 77.5,472.2 78.0,472.2 78.5,472.1 79.0,472.0 79.5,472.0 80.0,471.9 80.5,471.9 81.0,471.8 81.5,471.7 82.0,471.7 82.5,471.6 83.0,471.6 83.5,471.5 84.0,471.4 84.5,471.4 85.0,471.3 85.5,471.3 86.0,471.2 86.5,471.1 87.0,471.1 87.5,471.0 88.0,471.0 88.5,470.9 89.0,470.9 89.5,470.9 90.0,470.8 90.5,470.8 91.0,470.8 91.5,470.7 92.0,470.7 92.5,470.7 93.0,470.6 93.5,470.6 94.0,470.6 94.5,470.5 95.0,470.5 95.5,470.5 96.0,470.4 96.5,470.4 97.0,470.4 97.5,470.3 98.0,470.3 98.5,470.3 99.0,470.2 99.5,470.2 100.0,470.2 100.5,470.1 101.0,470.1 101.5,470.1 102.0,470.0 102.5,470.0 103.0,470.0 103.5,469.9 104.0,469.9 104.5,469.9 105.0,469.8 105.5,469.8 106.0,469.8 106.5,469.7 107.0,469.7 107.5,469.7 108.0,469.6 108.5,469.6 109.0,469.6 109.5,469.5 110.0,469.5 110.5,469.5 111.0,469.4 111.5,469.4 112.0,469.4 112.5,469.3 113.0,469.2 113.5,469.1 114.0,469.0 114.5,468.9 115.0,468.7 115.5,468.6 116.0,468.5 116.5,468.4 117.0,468.3 117.5,468.1 118.0,468.0 118.5,467.9 119.0,467.8 119.5,467.7 120.0,467.5 120.5,467.4 121.0,467.3 121.5,467.2 122.0,467.0 122.5,466.9 123.0,466.7 123.5,466.4 124.0,466.1 124.5,465.8 125.0,465.5 125.5,465.2 126.0,464.9 126.5,464.6 127.0,464.4 127.5,464.1 128.0,463.8 128.5,463.5 129.0,463.2 129.5,462.9 130.0,462.6 130.5,462.2 131.0,461.8 131.5,461.4 132.0,461.0 132.5,460.6 133.0,460.2 133.5,459.8 134.0,459.4 134.5,459.0 135.0,458.6 135.5,458.2 136.0,457.9 136.5,457.5 137.0,457.1 137.5,456.8 138.0,456.4 138.5,456.2 139.0,455.9 139.5,455.7 140.0,455.5 140.5,455.2 141.0,455.0 141.5,454.7 142.0,454.5 142.5,454.3 143.0,454.0 143.5,453.8 144.0,453.5 144.5,453.3 145.0,453.1 145.5,453.0 146.0,452.9 146.5,452.8 147.0,452.7 147.5,452.6 148.0,452.5 148.5,452.4 149.0,452.3 149.5,452.2 150.0,452.1 150.5,452.0 151.0,451.9 151.5,451.8 152.0,451.7 152.5,451.6 153.0,451.5 153.5,451.4 154.0,451.3 154.5,451.2 155.0,451.1 155.5,450.8 156.0,450.6 156.5,450.3 157.0,450.0 157.5,449.7 158.0,449.4 158.5,449.1 159.0,448.9 159.5,448.6 160.0,448.5 160.5,448.3 161.0,448.2 161.5,448.2 162.0,448.2 162.5,448.2 163.0,448.1 163.5,448.1 164.0,448.1 164.5,448.1 165.0,448.0 165.5,448.0 166.0,448.0 166.5,448.0 167.0,447.9 167.5,447.9 168.0,447.9 168.5,447.9 169.0,447.8 169.5,447.7 170.0,447.5 170.5,447.3 171.0,446.9 171.5,446.5 172.0,446.1 172.5,445.6 173.0,445.2 173.5,444.8 174.0,444.4 174.5,443.9 175.0,443.7 175.5,443.4 176.0,443.3 176.5,443.2 177.0,443.1 177.5,443.0 178.0,442.9 178.5,442.8 179.0,442.7 179.5,442.6 180.0,442.5 180.5,442.4 181.0,442.3 181.5,442.2 182.0,442.2 182.5,442.1 183.0,442.0 183.5,441.9 184.0,441.8 184.5,441.7 185.0,441.6 185.5,441.6 186.0,441.5 186.5,441.5 187.0,441.5 187.5,441.5 188.0,441.4 188.5,441.4 189.0,441.4 189.5,441.4 190.0,441.3 190.5,441.3 191.0,441.3 191.5,441.3 192.0,441.2 192.5,441.2 193.0,441.2 193.5,441.2 194.0,441.1 194.5,441.1 195.0,440.9 195.5,440.3 196.0,439.4 196.5,438.6 197.0,437.4 197.5,436.1 198.0,434.1 198.5,432.1 199.0,430.6 199.5,429.5 200.0,428.3 200.5,424.7 201.0,420.9 201.5,417.2 202.0,414.3 202.5,411.5 203.0,409.4 203.5,407.5 204.0,405.6 204.5,404.0 205.0,402.5 205.5,401.2 206.0,400.4 206.5,399.6 207.0,398.9 207.5,398.1 208.0,397.3 208.5,396.5 209.0,395.7 209.5,394.9 210.0,394.2 210.5,393.4 211.0,392.6 211.5,391.8 212.0,391.0 212.5,390.2 213.0,389.5 213.5,388.7 214.0,387.9 214.5,387.1 215.0,386.3 215.5,385.6 216.0,384.8 216.5,384.0 217.0,383.2 217.5,382.4 218.0,381.6 218.5,380.9 219.0,380.1 219.5,379.3 220.0,378.5 220.5,377.2 221.0,375.9 221.5,374.5 222.0,373.2 222.5,371.9 223.0,370.6 223.5,369.3 224.0,368.9 224.5,367.9 225.0,366.7 225.5,365.6 226.0,365.2 226.5,364.8 227.0,364.1 227.5,363.2 228.0,361.8 228.5,359.9 229.0,357.9 229.5,355.1 230.0,352.0 230.5,350.2 231.0,348.5 231.5,346.7 232.0,345.0 232.5,343.2 233.0,341.4 233.5,339.7 234.0,337.9 234.5,336.2 235.0,334.4 235.5,332.6 236.0,330.9 236.5,329.8 237.0,329.4 237.5,329.1 238.0,328.7 238.5,328.3 239.0,327.9 239.5,327.6 240.0,327.2 240.5,326.8 241.0,326.4 241.5,326.2 242.0,326.2 242.5,326.2 243.0,326.2 243.5,326.2 244.0,326.2 244.5,326.2 245.0,326.2 245.5,326.2 246.0,326.2 246.5,326.8 247.0,327.8 247.5,328.8 248.0,329.8 248.5,330.8 249.0,331.8 249.5,332.8 250.0,333.8 250.5,334.8 251.0,335.8 251.5,336.8 252.0,337.8 252.5,338.8 253.0,337.8 253.5,336.8 254.0,335.8 254.5,334.8 255.0,333.8 255.5,332.8 256.0,331.8 256.5,331.5 257.0,332.0 257.5,332.5 258.0,333.0 258.5,333.5 259.0,334.0 259.5,334.5 260.0,335.0 260.5,335.5 261.0,336.0 261.5,336.0 262.0,335.5 262.5,335.0 263.0,334.5 263.5,334.0 264.0,333.5 264.5,333.0 265.0,332.5 265.5,332.0 266.0,331.5 266.5,330.7 267.0,329.5 267.5,328.3 268.0,327.2 268.5,326.0 269.0,324.8 269.5,323.7 270.0,322.5 270.5,324.5 271.0,326.5 271.5,328.5 272.0,330.5 272.5,332.5 273.0,334.5 273.5,336.5 274.0,337.9 274.5,338.6 275.0,339.4 275.5,340.1 276.0,340.9 276.5,341.6 277.0,342.4 277.5,343.1 278.0,343.9 278.5,344.6 279.0,345.1 279.5,345.2 280.0,345.3 280.5,345.4 281.0,345.6 281.5,345.7 282.0,345.8 282.5,345.9 283.0,346.1 283.5,346.2 284.0,346.8 284.5,347.9 285.0,349.1 285.5,350.2 286.0,351.3 286.5,352.4 287.0,353.6 287.5,354.7 288.0,355.8 288.5,356.9 289.0,358.1 289.5,359.4 290.0,360.6 290.5,361.9 291.0,363.1 291.5,364.4 292.0,365.6 292.5,366.9 293.0,368.1 293.5,369.4 294.0,370.8 294.5,372.2 295.0,373.8 295.5,375.2 296.0,376.8 296.5,378.2 297.0,379.8 297.5,381.2 298.0,382.8 298.5,384.2 299.0,386.0 299.5,388.0 300.0,390.0 300.5,392.0 301.0,394.0 301.5,396.0 302.0,398.0 302.5,400.0 303.0,402.0 303.5,404.0 304.0,405.7 304.5,407.1 305.0,408.4 305.5,409.8 306.0,411.2 306.5,412.6 307.0,413.9 307.5,415.3 308.0,416.7 308.5,418.1 309.0,419.2 309.5,420.2 310.0,421.2 310.5,422.2 311.0,423.2 311.5,424.2 312.0,425.2 312.5,426.2 313.0,427.2 313.5,428.2 314.0,428.8 314.5,428.9 315.0,429.1 315.5,429.2 316.0,429.3 316.5,429.4 317.0,429.6 317.5,429.7 318.0,429.8 318.5,429.9 319.0,430.3 319.5,431.0 320.0,431.7 320.5,432.3 321.0,433.0 321.5,433.7 322.0,434.3 322.5,435.0 323.0,436.7 323.5,438.3 324.0,440.0 324.5,441.7 325.0,443.3 325.5,445.0 326.0,446.7 326.5,447.5 327.0,447.5 327.5,447.6 328.0,447.6 328.5,447.6 329.0,447.7 329.5,447.7 330.0,447.7 330.5,447.7 331.0,447.8 331.5,447.8 332.0,447.8 332.5,447.9 333.0,447.9 333.5,447.9 334.0,447.9 334.5,448.0 335.0,448.0 335.5,448.0 336.0,448.0 336.5,448.0 337.0,447.9 337.5,447.9 338.0,447.9 338.5,447.9 339.0,447.9 339.5,447.9 340.0,447.9 340.5,447.8 341.0,447.8 341.5,447.8 342.0,447.8 342.5,447.8 343.0,447.8 343.5,447.8 344.0,447.7 344.5,447.7 345.0,447.7 345.5,447.7 346.0,447.7 346.5,447.7 347.0,447.7 347.5,447.6 348.0,447.6 348.5,447.6 349.0,447.6 349.5,447.6 350.0,447.6 350.5,447.6 351.0,447.5 351.5,447.5 352.0,447.5 352.5,447.5 353.0,447.6 353.5,447.8 354.0,447.9 354.5,448.0 355.0,448.1 355.5,448.2 356.0,448.4 356.5,448.5 357.0,448.6 357.5,448.8 358.0,448.9 358.5,449.0 359.0,449.1 359.5,449.2 360.0,449.4 360.5,449.5 361.0,449.6 361.5,449.8 362.0,449.9 362.5,450.0 363.0,450.1 363.5,450.2 364.0,450.3 364.5,450.4 365.0,450.6 365.5,450.7 366.0,450.8 366.5,450.9 367.0,451.0 367.5,451.1 368.0,451.2 368.5,451.3 369.0,451.4 369.5,451.6 370.0,451.7 370.5,451.8 371.0,451.9 371.5,452.0 372.0,452.1 372.5,452.2 373.0,452.3 373.5,452.4 374.0,452.9 374.5,453.9 375.0,454.8 375.5,455.6 376.0,456.6 376.5,457.4 377.0,458.4 377.5,459.2 378.0,460.1 378.5,461.1 379.0,461.9 379.5,462.9 380.0,463.8 380.5,463.8 381.0,463.8 381.5,463.8 382.0,463.9 382.5,463.9 383.0,463.9 383.5,463.9 384.0,463.9 384.5,464.0 385.0,464.0 385.5,464.0 386.0,464.1 386.5,464.1 387.0,464.1 387.5,464.1 388.0,464.1 388.5,464.2 389.0,464.2 389.5,464.2 390.0,464.2 390.5,464.3 391.0,464.3 391.5,464.3 392.0,464.4 392.5,464.4 393.0,464.4 393.5,464.4 394.0,464.4 394.5,464.5 395.0,464.5 395.5,464.5 396.0,464.5 396.5,464.5 397.0,464.5 397.5,464.5 398.0,464.5 398.5,464.5 399.0,464.5 399.5,464.5 400.0,464.5 400.5,464.5 401.0,464.5 401.5,464.5 402.0,464.5 402.5,464.5 403.0,464.5 403.5,464.5 404.0,464.5 404.5,464.5 405.0,464.5 405.5,464.5 406.0,464.5 406.5,464.5 407.0,464.5 407.5,464.5 408.0,464.5 408.5,464.5 409.0,464.5 409.5,464.5 410.0,464.5 410.5,464.5 411.0,464.5 411.5,464.5 412.0,464.5 412.5,464.5 413.0,464.5 413.5,464.5 414.0,464.5 414.5,464.5 415.0,464.5 415.5,464.5 416.0,464.5 416.5,464.5 417.0,464.5 417.5,464.5 418.0,464.5 418.5,464.5 419.0,464.5 419.5,464.5 420.0,464.5 420.5,464.5 421.0,464.5 421.5,464.5 422.0,464.5 422.5,464.5 423.0,464.5 423.5,464.5 424.0,464.5 424.5,464.5 425.0,464.5 425.5,464.8 426.0,465.2 426.5,465.5 427.0,465.9 427.5,466.2 428.0,466.5 428.5,466.9 429.0,467.2 429.5,467.6 430.0,467.9 430.5,468.2 431.0,468.6 431.5,468.6 432.0,468.2 432.5,467.9 433.0,467.6 433.5,467.2 434.0,466.9 434.5,466.6 435.0,466.2 435.5,466.2 436.0,466.2 436.5,466.2 437.0,466.2 437.5,466.2 438.0,466.2 438.5,466.2 439.0,466.2 439.5,466.2 440.0,466.1 440.5,466.1 441.0,466.1 441.5,466.1 442.0,466.1 442.5,466.1 443.0,466.1 443.5,466.1 444.0,466.1 444.5,466.0 445.0,466.0 445.5,466.0 446.0,466.0 446.5,466.0 447.0,466.0 447.5,466.0 448.0,466.0 448.5,466.0 449.0,465.9 449.5,465.9 450.0,465.9 450.5,465.9 451.0,465.9 451.5,465.9 452.0,465.9 452.5,465.9 453.0,465.9 453.5,465.9 454.0,465.8 454.5,465.8 455.0,465.8 455.5,465.8 456.0,465.8 456.5,465.8 457.0,465.8 457.5,465.8 458.0,465.8 458.5,465.7 459.0,465.7 459.5,465.7 460.0,465.7 460.5,465.7 461.0,465.7 461.5,465.7 462.0,465.7 462.5,465.7 463.0,465.6 463.5,465.6 464.0,465.6 464.5,465.6 465.0,465.6 465.5,465.6 466.0,465.6 466.5,465.6 467.0,465.6 467.5,465.6 468.0,465.5 468.5,465.5 469.0,465.5 469.5,465.5 470.0,465.5 470.5,465.5 471.0,465.4 471.5,465.4 472.0,465.4 472.5,465.4 473.0,465.4 473.5,465.3 474.0,465.3 474.5,465.3 475.0,465.2 475.5,465.2 476.0,465.2 476.5,465.2 477.0,465.1 477.5,465.1 478.0,465.1 478.5,465.1 479.0,465.1 479.5,465.0 480.0,465.0 480.5,465.0 481.0,464.9 481.5,464.9 482.0,464.9 482.5,464.9 483.0,464.9 483.5,464.8 484.0,464.8 484.5,464.8 485.0,464.8 485.5,464.7 486.0,464.7 486.5,464.7 487.0,464.6 487.5,464.6 488.0,464.6 488.5,464.6 489.0,464.6 489.5,464.5 490.0,464.5 490.5,464.7 491.0,464.9 491.5,465.0 492.0,465.2 492.5,465.4 493.0,465.6 493.5,465.7 494.0,465.9 494.5,466.1 495.0,466.2 495.5,466.2 496.0,466.2 496.5,466.2 497.0,466.2 497.5,466.2 498.0,466.2 498.5,466.1 499.0,466.1 499.5,466.1 500.0,466.1 500.5,466.1 501.0,466.1 501.5,466.1 502.0,466.0 502.5,466.0 503.0,466.0 503.5,466.0 504.0,466.0 504.5,466.0 505.0,465.9 505.5,465.9 506.0,465.9 506.5,465.9 507.0,465.9 507.5,465.9 508.0,465.9 508.5,465.8 509.0,465.8 509.5,465.8 510.0,465.8 510.5,465.8 511.0,465.8 511.5,465.8 512.0,465.7 512.5,465.7 513.0,465.7 513.5,465.7 514.0,465.7 514.5,465.7 515.0,465.6 515.5,465.6 516.0,465.6 516.5,465.6 517.0,465.6 517.5,465.6 518.0,465.6 518.5,465.5 519.0,465.5 519.5,465.5 520.0,465.5 520.5,465.5 521.0,465.6 521.5,465.6 522.0,465.6 522.5,465.6 523.0,465.7 523.5,465.7 524.0,465.7 524.5,465.8 525.0,465.8 525.5,465.8 526.0,465.9 526.5,465.9 527.0,465.9 527.5,465.9 528.0,466.0 528.5,466.0 529.0,466.0 529.5,466.1 530.0,466.1 530.5,466.1 531.0,466.2 531.5,466.2 532.0,466.2 532.5,466.2 533.0,466.3 533.5,466.3 534.0,466.3 534.5,466.4 535.0,466.4 535.5,466.4 536.0,466.5 536.5,466.5 537.0,466.5 537.5,466.6 538.0,466.6 538.5,466.6 539.0,466.6 539.5,466.7 540.0,466.7 540.5,466.7 541.0,466.8 541.5,466.8 542.0,466.8 542.5,466.9 543.0,466.9 543.5,466.9 544.0,466.9 544.5,467.0 545.0,467.0 545.5,467.1 546.0,467.2 546.5,467.4 547.0,467.5 547.5,467.6 548.0,467.7 548.5,467.8 549.0,468.0 549.5,468.1 550.0,468.2 550.5,468.3 551.0,468.4 551.5,468.6 552.0,468.7 552.5,468.8 553.0,468.9 553.5,469.0 554.0,469.2 554.5,469.3 555.0,469.4 555.5,469.5 556.0,469.6 556.5,469.8 557.0,469.9 557.5,470.0 558.0,470.1 558.5,470.2 559.0,470.4 559.5,470.5 560.0,470.6 560.5,470.7 561.0,470.8 561.5,471.0 562.0,471.1 562.5,471.2 563.0,471.3 563.5,471.4 564.0,471.6 564.5,471.7 565.0,471.8 565.5,471.9 566.0,472.0 566.5,472.2 567.0,472.3 567.5,472.4 568.0,472.5 568.5,472.6 569.0,472.8 569.5,472.9 570.0,473.0 570.5,473.0 571.0,473.0 571.5,472.9 572.0,472.9 572.5,472.9 573.0,472.9 573.5,472.9 574.0,472.8 574.5,472.8 575.0,472.8 575.5,472.8 576.0,472.8 576.5,472.7 577.0,472.7 577.5,472.7 578.0,472.7 578.5,472.7 579.0,472.6 579.5,472.6 580.0,472.6 580.5,472.6 581.0,472.6 581.5,472.5 582.0,472.5 582.5,472.5 583.0,472.5 583.5,472.5 584.0,472.5 584.5,472.5 585.0,472.5 585.5,472.5 586.0,472.5 586.5,472.5 587.0,472.5 587.5,472.5 588.0,472.5 588.5,472.5 589.0,472.5 589.5,472.5 590.0,472.5 590.5,472.5 591.0,472.5 591.5,472.5 592.0,472.5 592.5,472.5 593.0,472.5 593.5,472.5 594.0,472.5 594.5,472.5 595.0,472.5 595.5,472.5 596.0,472.5 596.5,472.5 597.0,472.5 597.5,472.5 598.0,472.5 598.5,472.5 599.0,472.5 599.5,472.5 600.0,472.5 600.5,472.5 601.0,472.5 601.5,472.5 602.0,472.5 602.5,472.5 603.0,472.5 603.5,472.5 604.0,472.5 604.5,472.5 605.0,472.5 605.5,472.5 606.0,472.5 606.5,472.5 607.0,472.5 607.5,472.5 608.0,472.5 608.5,472.5 609.0,472.5 609.5,472.5 610.0,472.5 610.5,472.5 611.0,472.5 611.5,472.5 612.0,472.5 612.5,472.5 613.0,472.5 613.5,472.5 614.0,472.5 614.5,472.5 615.0,472.5 615.5,472.5 616.0,472.5 616.5,472.5 617.0,472.5 617.5,472.5 618.0,472.5 618.5,472.5 619.0,472.5 619.5,472.5 620.0,472.5 620.5,472.5 621.0,472.5 621.5,472.5 622.0,472.5 622.5,472.5 623.0,472.5 623.5,472.5 624.0,472.5 624.5,472.5 625.0,472.5 625.5,472.6 626.0,472.7 626.5,472.8 627.0,473.0 627.5,477.0 628.0,481.0 628.5,481.0 629.0,481.0 629.5,481.0 630.0,481.0 630.5,481.0 631.0,481.0 631.0,481.3" fill="#0f959a"/>
<polygon points="64.0,481.3 64.0,481.3 64.5,481.3 65.0,481.3 65.5,481.3 66.0,481.3 66.5,481.3 67.0,481.3 67.5,481.3 68.0,481.3 68.5,481.3 69.0,481.3 69.5,481.3 70.0,481.3 70.5,481.3 71.0,481.3 71.5,481.3 72.0,481.3 72.5,481.3 73.0,481.3 73.5,481.3 74.0,481.3 74.5,481.3 75.0,481.0 75.5,481.0 76.0,480.9 76.5,480.9 77.0,480.9 77.5,480.9 78.0,480.8 78.5,480.8 79.0,480.8 79.5,480.7 80.0,480.7 80.5,480.7 81.0,480.6 81.5,480.6 82.0,480.6 82.5,480.6 83.0,480.5 83.5,480.5 84.0,480.5 84.5,480.4 85.0,480.4 85.5,480.4 86.0,480.3 86.5,480.3 87.0,480.3 87.5,480.2 88.0,480.2 88.5,480.2 89.0,480.2 89.5,480.1 90.0,480.1 90.5,480.1 91.0,480.0 91.5,480.0 92.0,480.0 92.5,479.9 93.0,479.9 93.5,479.9 94.0,479.9 94.5,479.8 95.0,479.8 95.5,479.8 96.0,479.7 96.5,479.7 97.0,479.7 97.5,479.6 98.0,479.6 98.5,479.6 99.0,479.6 99.5,479.5 100.0,479.5 100.5,479.5 101.0,479.4 101.5,479.4 102.0,479.4 102.5,479.4 103.0,479.3 103.5,479.3 104.0,479.3 104.5,479.2 105.0,479.2 105.5,479.2 106.0,479.1 106.5,479.1 107.0,479.1 107.5,479.1 108.0,479.0 108.5,479.0 109.0,479.0 109.5,478.9 110.0,478.9 110.5,478.9 111.0,478.8 111.5,478.8 112.0,478.8 112.5,478.8 113.0,478.7 113.5,478.6 114.0,478.6 114.5,478.5 115.0,478.4 115.5,478.4 116.0,478.3 116.5,478.2 117.0,478.2 117.5,478.1 118.0,478.1 118.5,478.0 119.0,477.9 119.5,477.9 120.0,477.8 120.5,477.8 121.0,477.7 121.5,477.6 122.0,477.6 122.5,477.5 123.0,477.4 123.5,477.4 124.0,477.3 124.5,477.2 125.0,477.2 125.5,477.1 126.0,477.1 126.5,477.0 127.0,476.9 127.5,476.9 128.0,476.8 128.5,476.8 129.0,476.7 129.5,476.6 130.0,476.6 130.5,476.5 131.0,476.4 131.5,476.4 132.0,476.3 132.5,476.2 133.0,476.1 133.5,475.9 134.0,475.7 134.5,475.5 135.0,475.3 135.5,475.1 136.0,474.9 136.5,474.8 137.0,474.6 137.5,474.4 138.0,474.2 138.5,474.0 139.0,473.8 139.5,473.6 140.0,473.4 140.5,473.2 141.0,473.1 141.5,472.9 142.0,472.7 142.5,472.5 143.0,472.5 143.5,472.5 144.0,472.5 144.5,472.5 145.0,472.5 145.5,472.4 146.0,472.4 146.5,472.4 147.0,472.4 147.5,472.4 148.0,472.4 148.5,472.4 149.0,472.4 149.5,472.4 150.0,472.4 150.5,472.4 151.0,472.3 151.5,472.3 152.0,472.3 152.5,472.3 153.0,472.3 153.5,472.3 154.0,472.3 154.5,472.3 155.0,472.3 155.5,472.3 156.0,472.3 156.5,472.2 157.0,472.2 157.5,472.2 158.0,472.2 158.5,472.2 159.0,472.2 159.5,472.2 160.0,472.2 160.5,472.2 161.0,472.2 161.5,472.2 162.0,472.1 162.5,472.1 163.0,472.1 163.5,472.1 164.0,472.1 164.5,472.1 165.0,472.1 165.5,472.1 166.0,472.1 166.5,472.1 167.0,472.1 167.5,472.0 168.0,472.0 168.5,472.0 169.0,472.0 169.5,472.0 170.0,472.0 170.5,471.9 171.0,471.9 171.5,471.8 172.0,471.8 172.5,471.7 173.0,471.7 173.5,471.6 174.0,471.6 174.5,471.5 175.0,471.5 175.5,471.4 176.0,471.4 176.5,471.3 177.0,471.2 177.5,471.2 178.0,471.1 178.5,471.1 179.0,471.0 179.5,471.0 180.0,470.9 180.5,470.9 181.0,470.8 181.5,470.8 182.0,470.7 182.5,470.6 183.0,470.6 183.5,470.5 184.0,470.5 184.5,470.4 185.0,470.4 185.5,470.3 186.0,470.3 186.5,470.2 187.0,470.2 187.5,470.1 188.0,470.1 188.5,470.0 189.0,469.9 189.5,469.9 190.0,469.8 190.5,469.8 191.0,469.7 191.5,469.7 192.0,469.6 192.5,469.6 193.0,469.5 193.5,469.5 194.0,469.4 194.5,469.3 195.0,469.3 195.5,469.2 196.0,469.2 196.5,469.1 197.0,469.1 197.5,469.0 198.0,469.0 198.5,468.9 199.0,468.9 199.5,468.8 200.0,468.8 200.5,466.9 201.0,465.1 201.5,463.2 202.0,461.4 202.5,459.6 203.0,457.8 203.5,455.9 204.0,454.0 204.5,452.0 205.0,450.0 205.5,449.4 206.0,448.8 206.5,448.1 207.0,447.5 207.5,446.9 208.0,446.2 208.5,445.6 209.0,445.0 209.5,444.4 210.0,443.8 210.5,443.4 211.0,443.1 211.5,442.8 212.0,442.4 212.5,442.1 213.0,441.8 213.5,441.4 214.0,441.1 214.5,440.8 215.0,440.4 215.5,440.1 216.0,439.8 216.5,439.4 217.0,439.1 217.5,438.8 218.0,438.2 218.5,437.6 219.0,437.0 219.5,436.4 220.0,435.8 220.5,435.2 221.0,434.7 221.5,434.1 222.0,433.5 222.5,432.9 223.0,432.3 223.5,431.8 224.0,431.2 224.5,430.6 225.0,430.0 225.5,429.2 226.0,428.5 226.5,427.8 227.0,427.0 227.5,426.2 228.0,425.5 228.5,424.8 229.0,424.0 229.5,423.2 230.0,422.5 230.5,420.8 231.0,419.0 231.5,417.2 232.0,415.5 232.5,413.8 233.0,412.0 233.5,410.2 234.0,408.5 234.5,406.8 235.0,405.0 235.5,404.2 236.0,403.3 236.5,402.5 237.0,401.7 237.5,400.8 238.0,400.0 238.5,399.2 239.0,398.7 239.5,398.6 240.0,398.6 240.5,398.5 241.0,398.4 241.5,398.4 242.0,398.3 242.5,398.2 243.0,398.1 243.5,398.1 244.0,398.0 244.5,397.9 245.0,397.9 245.5,397.8 246.0,397.7 246.5,397.6 247.0,397.6 247.5,397.5 248.0,397.2 248.5,397.0 249.0,396.8 249.5,396.5 250.0,396.2 250.5,396.0 251.0,395.8 251.5,395.5 252.0,395.2 252.5,395.0 253.0,394.8 253.5,394.5 254.0,394.2 254.5,394.0 255.0,393.8 255.5,393.5 256.0,393.2 256.5,393.0 257.0,392.8 257.5,392.5 258.0,392.2 258.5,392.0 259.0,391.8 259.5,391.5 260.0,391.2 260.5,391.0 261.0,390.8 261.5,390.5 262.0,390.2 262.5,390.0 263.0,389.3 263.5,388.7 264.0,388.0 264.5,387.3 265.0,386.7 265.5,386.0 266.0,385.3 266.5,384.3 267.0,383.0 267.5,381.6 268.0,380.3 268.5,378.9 269.0,377.6 269.5,376.2 270.0,378.2 270.5,380.1 271.0,382.0 271.5,383.9 272.0,385.8 272.5,387.7 273.0,389.6 273.5,391.5 274.0,392.8 274.5,393.2 275.0,393.8 275.5,394.2 276.0,394.8 276.5,395.2 277.0,395.8 277.5,396.2 278.0,396.0 278.5,395.8 279.0,395.5 279.5,395.2 280.0,395.0 280.5,394.8 281.0,394.5 281.5,394.2 282.0,394.0 282.5,393.8 283.0,394.4 283.5,395.0 284.0,395.6 284.5,396.2 285.0,396.9 285.5,397.5 286.0,398.1 286.5,398.8 287.0,399.4 287.5,400.0 288.0,400.1 288.5,400.2 289.0,400.3 289.5,400.4 290.0,400.5 290.5,400.6 291.0,400.7 291.5,400.8 292.0,400.9 292.5,401.0 293.0,401.1 293.5,401.2 294.0,401.8 294.5,403.0 295.0,404.2 295.5,405.3 296.0,406.5 296.5,407.7 297.0,408.8 297.5,410.0 298.0,411.2 298.5,412.5 299.0,413.8 299.5,415.0 300.0,416.2 300.5,417.5 301.0,418.8 301.5,420.0 302.0,421.2 302.5,422.5 303.0,423.5 303.5,424.5 304.0,425.5 304.5,426.5 305.0,427.5 305.5,428.5 306.0,429.5 306.5,430.5 307.0,431.5 307.5,432.5 308.0,433.6 308.5,434.8 309.0,435.9 309.5,437.0 310.0,438.1 310.5,439.2 311.0,440.4 311.5,441.5 312.0,442.6 312.5,443.8 313.0,443.9 313.5,444.1 314.0,444.4 314.5,444.6 315.0,444.8 315.5,444.9 316.0,445.1 316.5,445.4 317.0,445.6 317.5,445.8 318.0,445.9 318.5,446.1 319.0,446.5 319.5,447.0 320.0,447.5 320.5,448.0 321.0,448.5 321.5,449.0 322.0,449.5 322.5,450.0 323.0,450.5 323.5,451.0 324.0,452.2 324.5,454.2 325.0,456.2 325.5,458.2 326.0,460.2 326.5,461.2 327.0,461.2 327.5,461.2 328.0,461.2 328.5,461.2 329.0,461.2 329.5,461.2 330.0,461.1 330.5,461.1 331.0,461.1 331.5,461.1 332.0,461.1 332.5,461.1 333.0,461.1 333.5,461.1 334.0,461.0 334.5,461.0 335.0,461.0 335.5,461.0 336.0,461.0 336.5,461.0 337.0,461.0 337.5,460.9 338.0,460.9 338.5,460.9 339.0,460.9 339.5,460.9 340.0,460.9 340.5,460.9 341.0,460.9 341.5,460.8 342.0,460.8 342.5,460.8 343.0,460.8 343.5,460.8 344.0,460.8 344.5,460.8 345.0,460.8 345.5,460.8 346.0,460.8 346.5,460.8 347.0,460.9 347.5,460.9 348.0,460.9 348.5,461.0 349.0,461.0 349.5,461.0 350.0,461.1 350.5,461.1 351.0,461.1 351.5,461.2 352.0,461.2 352.5,461.2 353.0,461.2 353.5,461.3 354.0,461.3 354.5,461.3 355.0,461.4 355.5,461.4 356.0,461.4 356.5,461.5 357.0,461.5 357.5,461.5 358.0,461.6 358.5,461.6 359.0,461.6 359.5,461.7 360.0,461.7 360.5,461.7 361.0,461.8 361.5,461.8 362.0,461.8 362.5,461.8 363.0,461.9 363.5,461.9 364.0,461.9 364.5,462.0 365.0,462.0 365.5,462.1 366.0,462.1 366.5,462.1 367.0,462.2 367.5,462.2 368.0,462.3 368.5,462.4 369.0,462.4 369.5,462.4 370.0,462.5 370.5,462.6 371.0,462.6 371.5,462.6 372.0,462.7 372.5,462.8 373.0,462.8 373.5,462.9 374.0,462.9 374.5,462.9 375.0,463.0 375.5,463.3 376.0,463.5 376.5,463.8 377.0,464.0 377.5,464.3 378.0,464.6 378.5,464.8 379.0,465.1 379.5,465.3 380.0,465.6 380.5,465.9 381.0,466.1 381.5,466.3 382.0,466.3 382.5,466.3 383.0,466.3 383.5,466.4 384.0,466.4 384.5,466.4 385.0,466.5 385.5,466.5 386.0,466.5 386.5,466.5 387.0,466.6 387.5,466.6 388.0,466.6 388.5,466.6 389.0,466.7 389.5,466.7 390.0,466.7 390.5,466.8 391.0,466.8 391.5,466.8 392.0,466.8 392.5,466.9 393.0,466.9 393.5,466.9 394.0,466.9 394.5,467.0 395.0,467.0 395.5,467.0 396.0,467.0 396.5,467.0 397.0,467.0 397.5,467.0 398.0,467.0 398.5,467.0 399.0,467.0 399.5,467.0 400.0,467.0 400.5,467.0 401.0,467.0 401.5,467.0 402.0,467.0 402.5,467.0 403.0,467.0 403.5,467.0 404.0,467.0 404.5,467.0 405.0,467.0 405.5,467.0 406.0,467.0 406.5,467.0 407.0,467.0 407.5,467.0 408.0,467.0 408.5,467.0 409.0,467.0 409.5,467.0 410.0,467.0 410.5,467.0 411.0,467.0 411.5,467.0 412.0,467.0 412.5,467.0 413.0,467.0 413.5,467.0 414.0,467.0 414.5,467.0 415.0,467.0 415.5,467.0 416.0,467.0 416.5,467.0 417.0,467.0 417.5,467.0 418.0,467.0 418.5,467.0 419.0,467.0 419.5,467.0 420.0,467.0 420.5,467.0 421.0,467.0 421.5,467.0 422.0,467.0 422.5,467.0 423.0,467.0 423.5,467.0 424.0,467.0 424.5,467.0 425.0,467.0 425.5,467.2 426.0,467.5 426.5,467.8 427.0,468.0 427.5,468.2 428.0,468.5 428.5,468.8 429.0,469.0 429.5,469.2 430.0,469.5 430.5,469.3 431.0,469.1 431.5,468.9 432.0,468.7 432.5,468.5 433.0,468.3 433.5,468.1 434.0,467.9 434.5,467.7 435.0,467.5 435.5,467.5 436.0,467.5 436.5,467.5 437.0,467.5 437.5,467.5 438.0,467.5 438.5,467.4 439.0,467.4 439.5,467.4 440.0,467.4 440.5,467.4 441.0,467.4 441.5,467.4 442.0,467.4 442.5,467.4 443.0,467.4 443.5,467.4 444.0,467.4 444.5,467.4 445.0,467.4 445.5,467.4 446.0,467.3 446.5,467.3 447.0,467.3 447.5,467.3 448.0,467.3 448.5,467.3 449.0,467.3 449.5,467.3 450.0,467.3 450.5,467.3 451.0,467.3 451.5,467.3 452.0,467.3 452.5,467.2 453.0,467.2 453.5,467.2 454.0,467.2 454.5,467.2 455.0,467.2 455.5,467.2 456.0,467.2 456.5,467.2 457.0,467.2 457.5,467.2 458.0,467.2 458.5,467.2 459.0,467.2 459.5,467.1 460.0,467.1 460.5,467.1 461.0,467.1 461.5,467.1 462.0,467.1 462.5,467.1 463.0,467.1 463.5,467.1 464.0,467.1 464.5,467.1 465.0,467.1 465.5,467.1 466.0,467.1 466.5,467.1 467.0,467.0 467.5,467.0 468.0,467.0 468.5,467.0 469.0,467.0 469.5,467.0 470.0,467.0 470.5,467.0 471.0,467.0 471.5,467.0 472.0,467.0 472.5,467.0 473.0,467.0 473.5,467.0 474.0,467.0 474.5,467.0 475.0,467.0 475.5,467.0 476.0,467.0 476.5,467.0 477.0,467.0 477.5,467.0 478.0,467.0 478.5,467.0 479.0,467.0 479.5,467.0 480.0,467.0 480.5,467.0 481.0,467.0 481.5,467.0 482.0,467.0 482.5,467.0 483.0,467.0 483.5,467.0 484.0,467.0 484.5,467.0 485.0,467.0 485.5,467.0 486.0,467.0 486.5,467.0 487.0,467.0 487.5,467.0 488.0,467.0 488.5,467.0 489.0,467.0 489.5,467.0 490.0,467.0 490.5,467.0 491.0,467.0 491.5,467.0 492.0,467.0 492.5,467.0 493.0,467.0 493.5,467.0 494.0,467.0 494.5,467.0 495.0,467.0 495.5,467.0 496.0,467.0 496.5,467.0 497.0,467.0 497.5,467.0 498.0,467.0 498.5,467.0 499.0,467.0 499.5,467.0 500.0,467.0 500.5,467.0 501.0,467.0 501.5,467.0 502.0,467.0 502.5,467.0 503.0,467.0 503.5,467.0 504.0,467.0 504.5,467.0 505.0,467.0 505.5,467.0 506.0,467.0 506.5,467.0 507.0,467.0 507.5,467.0 508.0,467.0 508.5,467.0 509.0,467.0 509.5,467.0 510.0,467.0 510.5,467.0 511.0,467.0 511.5,467.0 512.0,467.0 512.5,467.0 513.0,467.0 513.5,467.0 514.0,467.0 514.5,467.0 515.0,467.0 515.5,467.0 516.0,467.0 516.5,467.0 517.0,467.0 517.5,467.0 518.0,467.0 518.5,467.0 519.0,467.0 519.5,467.0 520.0,467.0 520.5,467.0 521.0,467.0 521.5,467.1 522.0,467.1 522.5,467.1 523.0,467.1 523.5,467.1 524.0,467.2 524.5,467.2 525.0,467.2 525.5,467.2 526.0,467.2 526.5,467.3 527.0,467.3 527.5,467.3 528.0,467.3 528.5,467.3 529.0,467.4 529.5,467.4 530.0,467.4 530.5,467.4 531.0,467.4 531.5,467.5 532.0,467.5 532.5,467.5 533.0,467.5 533.5,467.5 534.0,467.6 534.5,467.6 535.0,467.6 535.5,467.6 536.0,467.6 536.5,467.7 537.0,467.7 537.5,467.7 538.0,467.7 538.5,467.7 539.0,467.8 539.5,467.8 540.0,467.8 540.5,467.8 541.0,467.8 541.5,467.9 542.0,467.9 542.5,467.9 543.0,467.9 543.5,467.9 544.0,468.0 544.5,468.0 545.0,468.0 545.5,468.1 546.0,468.2 546.5,468.3 547.0,468.4 547.5,468.5 548.0,468.6 548.5,468.7 549.0,468.8 549.5,468.9 550.0,469.0 550.5,469.1 551.0,469.2 551.5,469.3 552.0,469.4 552.5,469.5 553.0,469.6 553.5,469.7 554.0,469.8 554.5,469.9 555.0,470.0 555.5,470.1 556.0,470.2 556.5,470.3 557.0,470.4 557.5,470.5 558.0,470.6 558.5,470.7 559.0,470.8 559.5,470.9 560.0,471.0 560.5,471.1 561.0,471.2 561.5,471.3 562.0,471.4 562.5,471.5 563.0,471.6 563.5,471.7 564.0,471.8 564.5,471.9 565.0,472.0 565.5,472.1 566.0,472.2 566.5,472.3 567.0,472.4 567.5,472.5 568.0,472.6 568.5,472.7 569.0,472.8 569.5,472.9 570.0,473.0 570.5,473.0 571.0,473.0 571.5,472.9 572.0,472.9 572.5,472.9 573.0,472.9 573.5,472.9 574.0,472.8 574.5,472.8 575.0,472.8 575.5,472.8 576.0,472.8 576.5,472.7 577.0,472.7 577.5,472.7 578.0,472.7 578.5,472.7 579.0,472.6 579.5,472.6 580.0,472.6 580.5,472.6 581.0,472.6 581.5,472.5 582.0,472.5 582.5,472.5 583.0,472.5 583.5,472.5 584.0,472.5 584.5,472.5 585.0,472.5 585.5,472.5 586.0,472.5 586.5,472.5 587.0,472.5 587.5,472.5 588.0,472.5 588.5,472.5 589.0,472.5 589.5,472.5 590.0,472.5 590.5,472.5 591.0,472.5 591.5,472.5 592.0,472.5 592.5,472.5 593.0,472.5 593.5,472.5 594.0,472.5 594.5,472.5 595.0,472.5 595.5,472.5 596.0,472.5 596.5,472.5 597.0,472.5 597.5,472.5 598.0,472.5 598.5,472.5 599.0,472.5 599.5,472.5 600.0,472.5 600.5,472.5 601.0,472.5 601.5,472.5 602.0,472.5 602.5,472.5 603.0,472.5 603.5,472.5 604.0,472.5 604.5,472.5 605.0,472.5 605.5,472.5 606.0,472.5 606.5,472.5 607.0,472.5 607.5,472.5 608.0,472.5 608.5,472.5 609.0,472.5 609.5,472.5 610.0,472.5 610.5,472.5 611.0,472.5 611.5,472.5 612.0,472.5 612.5,472.5 613.0,472.5 613.5,472.5 614.0,472.5 614.5,472.5 615.0,472.5 615.5,472.5 616.0,472.5 616.5,472.5 617.0,472.5 617.5,472.5 618.0,472.5 618.5,472.5 619.0,472.5 619.5,472.5 620.0,472.5 620.5,472.5 621.0,472.5 621.5,472.5 622.0,472.5 622.5,472.5 623.0,472.5 623.5,472.5 624.0,472.5 624.5,472.5 625.0,472.5 625.5,472.6 626.0,472.7 626.5,472.8 627.0,473.0 627.5,477.0 628.0,481.0 628.5,481.0 629.0,481.0 629.5,481.0 630.0,481.0 630.5,481.0 631.0,481.0 631.0,481.3" fill="#07607a"/>
<path d="M64.5 481.3 L65.8 480.6 L67.2 479.8 L68.6 478.9 L70.1 477.8 L71.5 475.9 L73.0 473.8 L73.8 472.7 L75.0 472.5 L76.5 472.3 L77.8 472.2 L79.3 472.0 L80.2 471.9 L81.4 471.8 L82.4 471.6 L83.7 471.5 L84.9 471.3 L85.8 471.2 L86.8 471.1 L87.8 471.0 L89.3 470.9 L90.7 470.8 L91.7 470.7 L93.1 470.6 L94.0 470.6 L95.3 470.5 L96.2 470.4 L97.1 470.4 L98.5 470.3 L99.5 470.2 L100.5 470.1 L102.1 470.0 L103.5 469.9 L104.6 469.9 L106.1 469.8 L107.3 469.7 L108.7 469.6 L109.7 469.5 L111.2 469.4 L112.5 469.3 L114.1 469.0 L115.5 468.6 L116.6 468.4 L117.7 468.1 L118.6 467.9 L119.6 467.6 L120.5 467.4 L121.5 467.2 L122.8 466.8 L123.7 466.3 L125.0 465.5 L126.1 464.9 L127.1 464.3 L128.6 463.5 L129.7 462.8 L130.8 462.0 L132.0 461.0 L133.3 460.0 L134.2 459.3 L135.8 458.0 L136.6 457.4 L138.0 456.4 L139.5 455.7 L140.3 455.3 L141.7 454.6 L142.8 454.1 L144.1 453.5 L144.9 453.1 L145.8 452.9 L146.8 452.7 L148.3 452.4 L149.3 452.2 L150.7 452.0 L152.2 451.7 L153.7 451.4 L154.8 451.2 L155.9 450.7 L157.1 450.0 L158.5 449.1 L159.4 448.6 L160.8 448.2 L162.2 448.2 L163.7 448.1 L164.5 448.1 L166.0 448.0 L166.9 447.9 L168.0 447.9 L169.3 447.8 L170.8 447.1 L171.9 446.2 L173.4 444.9 L174.6 443.8 L175.7 443.4 L176.8 443.2 L177.7 443.0 L178.6 442.8 L179.6 442.6 L180.9 442.4 L182.5 442.1 L183.4 441.9 L184.3 441.7 L185.9 441.5 L187.1 441.5 L188.2 441.4 L189.2 441.4 L190.5 441.3 L191.9 441.2 L193.1 441.2 L194.2 441.1 L195.1 440.9 L196.6 438.4 L197.5 436.2 L198.7 431.3 L200.0 428.2 L201.5 417.4 L202.6 410.9 L204.1 405.4 L205.2 401.9 L206.8 397.1 L208.1 393.3 L209.3 391.1 L210.4 392.5 L211.7 390.1 L212.6 389.6 L214.0 387.0 L215.4 384.4 L216.7 380.2 L218.0 377.0 L219.2 375.1 L220.3 372.8 L221.5 371.3 L222.8 369.9 L224.1 368.9 L225.4 365.7 L226.7 364.6 L227.8 362.6 L229.1 357.4 L230.3 349.7 L231.8 342.2 L233.1 333.5 L234.1 326.6 L235.4 322.1 L236.8 317.5 L237.7 316.4 L238.8 314.2 L240.2 312.8 L241.3 312.1 L242.2 311.6 L243.3 311.4 L244.3 311.3 L245.4 311.1 L246.7 313.0 L248.2 315.8 L249.3 318.2 L250.5 321.1 L251.9 324.7 L252.8 324.4 L254.0 320.8 L255.3 319.9 L256.4 319.0 L257.5 318.7 L258.8 320.2 L260.3 319.9 L261.8 320.0 L262.7 320.2 L263.7 320.4 L264.8 316.3 L265.8 314.1 L267.4 310.4 L268.4 306.5 L269.5 302.5 L271.1 305.0 L272.3 310.2 L273.5 314.2 L274.9 317.5 L276.2 317.8 L277.7 318.6 L278.7 318.7 L280.3 314.5 L281.5 311.4 L282.8 309.6 L284.2 312.4 L285.4 318.8 L286.5 324.2 L287.6 327.7 L288.5 330.2 L289.6 332.9 L290.9 333.5 L292.3 333.3 L293.6 334.9 L295.1 338.7 L296.2 340.4 L297.3 340.7 L298.7 342.6 L299.8 347.4 L300.7 350.2 L301.9 355.2 L302.9 359.1 L303.7 361.9 L305.2 365.6 L306.0 367.0 L307.6 365.4 L309.0 369.6 L310.3 376.5 L311.3 378.1 L312.8 373.3 L314.1 367.7 L315.4 363.3 L316.3 360.3 L317.2 357.3 L318.4 354.9 L319.4 349.7 L320.6 346.7 L321.7 342.4 L323.1 339.7 L324.4 337.5 L325.6 344.3 L326.8 353.2 L328.2 352.6 L329.2 343.5 L330.6 331.1 L332.0 320.6 L333.3 311.1 L334.2 304.8 L335.7 296.8 L337.1 291.4 L338.5 286.2 L339.4 283.2 L340.4 278.4 L341.9 272.5 L342.9 267.7 L343.9 265.8 L345.2 268.8 L346.3 268.2 L347.7 257.1 L348.9 244.7 L350.2 232.6 L351.3 225.0 L352.1 219.3 L353.0 212.8 L354.4 220.5 L355.6 227.4 L356.7 215.3 L357.7 206.2 L358.8 195.5 L360.3 181.9 L361.3 174.1 L362.2 168.7 L363.2 169.0 L364.8 173.0 L366.3 179.1 L367.4 178.0 L368.8 176.0 L370.1 172.7 L371.1 173.0 L372.1 173.5 L373.2 179.5 L374.3 186.6 L375.6 196.7 L376.7 208.0 L378.0 220.6 L378.8 230.2 L380.2 241.7 L381.4 246.0 L382.5 241.4 L383.4 236.7 L384.9 247.7 L386.0 249.4 L387.1 250.9 L388.1 252.6 L389.0 260.9 L390.5 275.2 L391.7 286.2 L392.6 289.9 L393.6 293.1 L394.8 293.9 L395.7 295.5 L396.9 296.2 L398.2 298.2 L399.3 298.5 L400.3 299.6 L401.3 302.2 L402.7 302.5 L403.7 300.4 L404.7 298.2 L405.8 296.1 L406.7 294.2 L407.7 295.2 L408.8 297.3 L410.0 299.5 L411.3 301.6 L412.6 300.3 L413.8 302.4 L415.3 306.5 L416.4 307.7 L417.3 308.9 L418.3 310.1 L419.6 313.0 L420.5 316.3 L421.3 319.0 L422.3 321.8 L423.7 325.4 L424.7 327.1 L425.8 329.7 L427.1 333.8 L428.0 334.4 L429.3 339.8 L430.7 347.1 L431.8 350.0 L433.0 354.2 L434.5 352.9 L435.7 351.2 L437.2 346.6 L438.7 346.5 L440.0 350.4 L441.1 351.9 L442.1 353.2 L443.4 354.8 L444.8 354.8 L445.9 353.8 L447.4 352.2 L448.7 349.0 L450.1 347.5 L451.1 348.5 L452.4 350.2 L453.9 349.7 L455.2 349.3 L456.6 347.6 L457.5 346.6 L458.4 345.4 L459.5 344.2 L460.6 343.0 L461.7 341.1 L463.3 343.8 L464.6 344.2 L466.0 345.8 L467.3 346.4 L468.4 344.9 L469.3 343.6 L470.5 342.4 L471.6 341.0 L472.9 342.3 L474.3 345.6 L475.8 346.7 L477.2 345.8 L478.4 344.7 L479.9 343.7 L480.8 342.9 L481.7 343.4 L483.2 342.9 L484.2 344.3 L485.5 345.5 L487.0 347.0 L488.0 347.7 L489.3 347.5 L490.6 348.6 L491.5 349.0 L493.0 343.1 L494.1 341.0 L495.2 339.0 L496.5 334.5 L497.3 333.8 L498.6 335.0 L499.6 337.2 L500.9 336.8 L502.1 339.4 L503.1 338.3 L504.7 338.0 L506.0 337.3 L506.9 337.2 L507.9 339.1 L508.8 340.2 L510.2 345.0 L511.6 346.3 L513.1 347.5 L514.1 348.0 L514.9 346.1 L516.1 342.9 L517.4 340.0 L518.6 336.4 L519.5 334.1 L520.8 332.4 L522.3 328.7 L523.7 323.4 L524.6 321.4 L526.0 322.4 L527.1 325.0 L528.5 326.2 L529.6 327.5 L530.4 326.3 L531.8 325.8 L532.8 325.4 L534.0 325.8 L535.1 324.0 L536.2 323.9 L537.6 327.4 L538.4 329.6 L539.6 332.3 L540.8 335.0 L541.8 338.4 L543.0 340.9 L544.0 343.1 L545.2 344.8 L546.4 345.7 L547.6 347.5 L548.9 348.2 L549.8 347.9 L551.3 350.7 L552.4 353.8 L553.8 358.6 L555.2 360.6 L556.8 361.7 L557.9 362.5 L559.1 365.2 L560.4 368.4 L561.4 368.1 L562.5 373.9 L563.5 377.6 L564.9 382.3 L565.9 385.9 L567.4 388.7 L568.4 392.2 L569.7 396.1 L571.1 400.1 L572.3 404.9 L573.3 407.5 L574.6 412.3 L575.7 417.2 L577.2 424.6 L578.4 430.1 L579.7 433.6 L580.9 439.2 L582.2 439.9 L583.1 440.1 L584.5 440.3 L585.6 440.5 L586.8 440.6 L588.1 440.6 L589.5 440.6 L590.4 440.6 L591.6 440.6 L592.4 440.6 L593.6 440.6 L594.6 440.6 L595.5 440.6 L596.6 440.6 L597.7 440.6 L599.0 440.6 L600.5 440.6 L601.6 440.5 L602.9 440.5 L604.2 440.4 L605.7 440.3 L607.3 440.3 L608.8 440.2 L609.9 440.2 L610.8 440.0 L612.3 439.9 L613.2 439.7 L614.4 439.6 L615.8 439.4 L617.0 439.3 L618.1 439.1 L619.6 439.0 L620.7 438.8 L622.5 439.6 L625.0 442.5 L626.6 447.5 L627.3 462.0 L627.7 478.0 L629.5 481.0" fill="none" stroke="#000" stroke-width="2.5" stroke-linejoin="miter" stroke-miterlimit="2" stroke-linecap="round"/>
<polygon points="65.0,929.0 66.4,926.8 67.8,924.5 69.6,921.7 70.9,919.8 72.3,918.0 73.8,916.0 75.0,914.6 76.4,914.4 77.9,914.4 79.5,914.3 80.6,914.3 81.8,914.2 82.9,914.2 84.5,914.1 86.1,914.1 87.1,914.0 88.9,913.9 90.7,913.9 92.2,913.8 93.7,913.8 94.8,913.7 95.8,913.7 97.3,913.6 98.3,913.6 99.4,913.5 100.6,913.4 101.6,913.2 103.0,913.0 104.3,912.8 106.0,912.5 107.4,912.3 109.0,912.0 110.4,911.8 111.9,911.5 113.3,911.3 114.5,911.1 116.3,910.4 118.1,909.4 119.8,908.6 121.4,907.8 122.6,907.2 123.8,906.6 125.0,906.0 126.0,904.8 127.7,903.0 129.0,901.4 130.7,899.5 132.0,898.0 133.8,896.5 135.5,895.0 136.4,894.1 137.6,893.1 139.3,891.6 140.7,890.7 142.5,890.0 143.8,889.5 144.9,889.1 146.4,888.4 148.0,887.8 149.2,887.3 150.3,886.9 151.5,886.5 153.3,886.0 154.9,885.5 156.0,885.2 157.2,884.8 158.3,884.5 159.3,884.2 161.0,883.8 162.1,883.6 163.5,883.3 164.9,883.0 166.0,882.8 167.6,882.5 168.7,882.3 170.2,881.9 171.3,881.5 172.6,880.9 173.8,880.5 175.0,880.0 176.8,879.3 178.5,878.6 179.7,878.1 181.4,877.6 182.6,877.2 183.9,876.8 185.6,876.3 187.1,875.9 188.2,875.6 190.0,875.0 191.1,874.9 192.3,874.7 194.0,874.5 195.2,874.3 196.4,874.2 197.5,874.1 198.5,872.8 200.0,858.0 201.4,852.3 202.9,844.0 204.0,838.7 205.2,832.3 206.8,824.0 208.5,819.8 209.9,819.0 210.9,818.6 212.5,814.3 214.1,809.7 215.2,805.9 216.4,805.2 217.9,802.1 219.7,800.1 220.7,798.7 222.0,795.2 223.1,792.3 224.6,790.1 225.9,789.3 227.4,787.1 228.5,784.5 229.5,780.4 231.3,767.5 232.8,746.0 234.4,735.6 236.2,732.3 237.7,732.5 239.3,731.7 241.0,731.2 242.6,731.8 243.9,733.1 245.4,733.0 246.8,733.5 248.4,737.9 249.9,741.1 251.5,741.1 253.2,738.8 254.8,737.4 256.3,736.7 257.5,736.2 259.0,734.6 260.0,733.9 261.5,732.9 262.7,733.4 264.0,731.4 265.5,728.4 266.9,727.6 268.6,720.9 270.1,715.6 271.2,720.0 272.8,726.1 274.6,732.1 275.7,735.8 277.0,736.0 278.3,734.5 279.5,733.8 280.9,729.2 281.9,722.9 283.5,731.3 285.1,739.6 286.2,741.8 287.2,743.6 288.3,745.8 289.8,748.8 291.3,753.6 293.1,755.2 294.5,757.4 295.5,759.0 297.1,761.5 298.3,764.1 299.8,771.7 301.5,778.2 303.1,780.9 304.9,784.5 306.2,790.0 307.5,794.1 309.2,798.0 310.7,802.9 312.3,800.0 313.9,794.4 315.6,788.5 317.0,779.3 318.8,770.6 319.8,766.2 321.3,760.9 322.3,755.5 323.9,755.7 325.2,760.1 326.3,765.9 328.0,773.3 329.4,758.3 330.5,748.5 332.1,737.5 333.8,725.4 335.1,718.5 336.3,711.4 337.7,699.8 339.1,692.0 340.1,685.6 341.4,681.4 342.8,675.2 344.3,676.3 346.1,678.8 347.4,666.4 348.8,654.8 350.2,640.1 351.3,631.0 352.4,619.4 353.5,617.3 355.1,625.6 356.4,626.8 358.0,609.2 359.4,596.5 360.5,588.0 361.8,578.3 363.2,577.2 364.4,578.2 365.8,580.5 367.5,585.0 369.1,584.0 370.4,581.6 372.1,583.9 373.9,592.4 375.1,602.1 376.2,611.5 377.8,627.9 379.1,638.3 380.3,651.1 382.1,653.2 383.5,646.5 385.0,656.8 386.1,664.4 387.1,669.8 388.5,677.6 389.7,685.5 391.4,700.3 392.4,706.2 394.2,709.8 395.8,712.4 397.2,712.4 398.7,714.2 400.3,715.3 401.6,717.8 402.8,719.4 404.2,716.8 405.9,713.4 407.6,711.3 409.1,717.1 410.7,719.1 412.5,717.2 414.2,720.0 415.9,724.3 417.5,725.7 419.1,728.0 420.4,732.2 421.4,735.5 422.9,739.7 424.6,745.4 426.2,750.5 427.5,754.2 429.1,759.2 430.1,760.9 431.2,764.5 432.3,767.6 433.6,771.5 434.8,771.0 436.2,769.0 438.0,767.0 439.0,768.4 440.0,768.0 441.4,770.0 442.8,769.9 444.6,768.5 446.0,768.4 447.2,768.3 448.4,768.3 449.4,769.0 450.5,769.7 452.1,770.9 453.8,771.4 455.6,768.9 457.4,766.1 458.7,764.4 460.2,763.7 461.5,761.8 463.0,762.6 464.5,765.0 465.7,766.9 467.1,768.8 468.4,765.3 469.6,763.1 471.3,762.9 473.1,762.2 474.1,765.0 475.6,766.6 476.8,765.5 478.3,764.9 479.5,763.9 481.3,762.8 482.3,762.5 483.5,763.7 485.0,765.2 486.4,766.6 487.5,766.6 489.0,768.2 490.4,768.0 491.6,765.2 492.7,762.0 494.3,758.2 495.5,755.9 496.7,752.2 498.2,753.0 499.7,756.7 501.0,758.3 502.1,755.5 503.1,756.6 504.7,756.3 506.3,756.1 507.5,755.5 508.7,759.8 509.9,762.0 511.2,763.4 512.3,766.0 514.0,770.2 515.4,763.9 516.6,759.8 518.4,754.7 519.7,753.0 521.0,751.3 522.3,748.2 523.7,745.6 525.4,740.4 527.0,742.9 528.0,745.5 529.5,748.5 531.1,748.7 532.6,746.0 533.6,747.9 534.7,744.7 536.3,744.9 537.4,749.0 539.1,753.5 540.3,757.1 541.7,759.6 543.3,761.2 545.0,765.4 546.6,768.5 548.4,770.9 550.0,773.7 551.3,776.2 552.9,778.3 554.0,779.9 555.4,781.7 557.2,785.5 558.4,788.6 559.9,791.8 561.0,794.4 562.4,798.3 563.5,802.6 564.7,807.2 566.3,814.1 567.4,818.5 568.5,822.9 570.0,828.6 571.2,834.3 572.4,839.6 573.8,846.5 574.8,851.1 576.1,856.7 577.3,863.2 578.5,867.7 579.9,870.8 581.6,874.2 583.0,874.7 584.2,874.8 585.4,875.4 586.8,875.2 588.6,874.9 590.0,874.8 591.6,874.7 593.3,875.6 595.0,874.9 596.2,875.6 597.2,875.4 598.6,875.9 600.1,875.8 601.3,875.7 602.7,875.7 603.7,875.5 604.9,875.1 606.3,874.6 608.0,874.6 609.2,874.3 610.4,874.6 612.0,874.4 613.6,873.9 614.9,874.2 616.7,874.4 618.2,873.4 619.5,874.0 620.7,873.7 622.1,873.1 623.9,875.4 625.0,876.1 626.5,885.6 627.7,893.4 629.0,907.0 630.5,923.2 631.0,929.0 631.0,929.5 630.4,926.4 629.1,918.5 628.1,912.5 626.6,906.8 625.3,902.0 624.2,900.5 622.5,898.9 620.7,898.8 619.6,899.3 618.2,899.7 616.6,899.7 615.6,899.8 614.1,899.7 612.6,899.9 611.1,900.3 609.9,900.4 608.2,899.8 606.4,899.8 604.6,900.7 603.1,900.4 601.2,900.3 599.7,900.2 598.3,900.4 596.9,900.1 595.5,900.7 594.1,900.0 592.6,899.9 591.5,899.8 589.9,900.2 588.5,899.8 586.9,899.9 585.3,900.1 583.8,899.0 582.5,898.3 581.0,895.4 579.6,891.4 578.0,887.5 577.0,883.7 575.2,873.9 574.1,872.1 572.8,867.1 571.0,860.5 569.4,854.6 568.0,850.5 567.0,847.3 565.9,844.0 564.5,840.0 563.4,836.6 562.0,832.4 560.4,829.8 559.3,828.1 558.2,824.6 556.5,823.9 555.0,821.3 553.9,818.1 552.2,817.9 550.5,816.0 549.4,815.0 548.1,813.7 546.8,812.4 545.5,810.8 544.6,809.2 543.5,804.3 542.4,802.5 540.8,799.9 539.5,797.5 537.8,794.1 536.5,793.9 534.9,793.3 533.5,792.1 532.5,794.4 530.9,795.7 529.1,794.9 527.4,790.3 526.4,788.8 525.4,789.3 523.8,792.1 522.2,797.2 521.2,799.3 519.4,801.0 518.0,805.2 516.5,804.3 515.0,805.9 513.4,807.5 511.7,805.8 510.7,804.1 509.4,801.7 507.7,802.0 506.6,801.7 505.2,801.2 503.8,798.2 502.6,797.8 501.0,797.3 500.0,797.4 498.3,796.9 497.1,798.1 496.1,802.0 494.6,804.4 493.4,804.2 492.3,805.7 490.6,808.3 489.4,808.7 487.7,808.0 485.9,807.3 484.3,808.2 483.2,807.4 481.5,807.0 480.3,806.2 479.1,806.3 477.6,806.6 476.1,809.3 475.0,808.2 473.6,808.4 471.8,808.1 470.7,809.2 469.5,809.1 468.2,808.6 467.1,808.2 465.4,808.8 463.7,806.6 462.3,807.5 460.9,807.6 459.9,807.9 458.8,808.3 457.2,808.8 456.2,809.5 454.5,810.1 452.8,810.7 451.2,808.2 450.0,808.6 448.9,811.0 447.4,811.6 446.1,810.6 444.4,810.8 442.6,811.0 440.8,812.0 439.4,811.4 438.1,811.6 437.0,811.8 435.5,812.1 434.4,812.3 432.8,811.1 431.1,810.9 429.6,806.0 428.1,799.9 426.9,796.8 425.2,790.1 423.5,786.5 422.0,783.5 420.2,778.7 419.1,775.8 417.9,773.3 416.2,770.9 414.7,768.3 413.4,765.2 411.6,765.3 410.0,765.5 408.2,760.8 406.8,758.5 405.1,760.7 403.3,763.8 402.0,766.4 400.6,768.1 399.3,766.7 397.6,763.4 396.1,762.3 394.7,761.7 393.2,760.5 392.1,757.6 390.7,746.7 389.0,731.0 387.9,720.8 386.5,713.5 385.4,708.0 384.1,700.6 383.1,706.8 381.8,715.1 380.6,711.4 379.4,705.7 378.1,692.3 377.1,682.0 375.9,669.5 374.3,656.6 372.9,645.0 371.3,643.9 369.9,641.3 368.2,641.5 366.4,642.6 364.9,638.5 363.8,640.4 362.1,641.5 360.7,646.6 359.2,652.8 358.0,664.6 356.5,682.5 355.0,685.4 353.8,676.4 352.0,680.1 350.7,693.0 349.6,703.5 348.5,711.9 347.1,735.2 345.2,735.7 344.0,735.3 342.5,737.9 341.4,740.0 340.3,742.2 339.1,747.1 337.7,752.3 336.4,760.1 335.1,768.3 334.0,776.1 332.3,788.9 331.0,798.0 329.4,809.1 328.2,817.6 326.7,814.5 325.5,806.1 323.8,803.8 322.4,801.4 321.2,804.3 319.7,807.9 318.6,811.4 317.4,816.3 315.6,822.6 313.8,826.7 312.8,829.3 311.8,831.2 310.7,832.5 309.7,831.3 308.0,829.2 306.7,828.3 305.1,826.6 303.4,823.4 302.2,822.9 300.9,818.3 299.5,815.0 297.9,810.2 296.5,806.4 295.5,804.0 294.2,799.0 293.1,798.0 291.5,797.2 290.4,796.7 289.1,793.9 288.0,793.0 286.9,788.0 285.6,785.8 283.9,778.3 282.1,774.1 281.0,775.8 279.3,778.8 278.0,780.7 276.7,782.7 275.2,782.1 273.7,780.5 272.6,776.6 270.9,773.4 269.1,769.6 268.1,767.4 266.9,771.2 265.7,775.6 264.3,780.5 262.7,783.1 261.3,786.9 259.7,786.6 258.3,785.7 256.6,787.2 255.4,787.9 254.0,788.5 252.5,790.4 251.3,790.3 250.1,788.3 248.9,786.0 247.1,783.4 245.9,781.9 244.4,780.0 243.0,779.7 242.0,779.8 240.2,780.1 238.7,778.7 237.6,779.3 236.4,781.5 235.2,782.8 233.8,786.7 232.3,797.1 231.1,802.7 230.0,808.0 228.6,814.4 226.9,817.0 225.9,817.5 224.7,818.6 223.0,822.6 221.7,823.9 219.9,827.6 218.1,830.4 216.9,832.7 215.2,834.6 213.7,838.2 212.4,839.8 210.9,842.9 209.1,845.1 207.9,850.8 206.1,862.6 204.6,872.3 203.2,881.1 201.7,890.2 200.4,895.8 199.0,898.6 197.5,899.2 196.5,899.5 195.5,899.8 194.3,900.2 193.0,900.5 191.4,901.1 190.2,901.4 189.2,901.7 187.5,902.3 185.9,902.7 184.7,903.1 183.4,903.5 181.7,904.0 180.6,904.3 178.8,904.9 177.4,905.4 175.6,906.0 174.2,906.5 173.0,906.9 171.9,907.3 170.5,907.8 169.5,908.1 168.0,908.4 166.7,908.7 165.5,908.9 164.5,909.1 162.9,909.4 161.8,909.6 160.3,909.9 159.3,910.2 157.6,910.6 156.3,910.9 155.0,911.3 153.8,911.5 152.4,911.9 151.1,912.2 149.4,912.6 148.4,912.8 147.0,913.1 145.3,913.4 143.9,913.9 142.6,914.3 141.5,914.7 140.4,915.1 138.8,915.7 137.3,916.2 136.0,916.7 134.7,917.1 133.2,917.7 131.4,918.4 129.6,919.2 128.0,919.8 127.0,920.2 125.7,920.7 124.3,921.2 122.8,921.7 121.5,922.1 120.2,922.4 118.5,922.9 117.4,923.3 116.4,923.6 114.8,924.0 113.7,924.1 112.2,924.3 110.9,924.4 109.8,924.5 108.5,924.7 107.4,924.8 105.7,925.0 103.9,925.2 102.8,925.3 101.4,925.5 99.6,925.6 98.6,925.6 97.6,925.6 95.9,925.7 94.6,925.7 93.3,925.7 91.8,925.8 90.7,925.8 89.1,925.8 88.0,925.8 86.3,925.9 85.2,925.9 83.8,925.9 82.7,925.9 81.2,926.0 79.8,926.1 78.3,926.4 76.7,926.8 75.0,927.2 73.8,927.5 72.5,927.9 71.6,928.1 70.5,928.4 68.9,928.8 67.4,929.2 66.0,929.5" fill="#dc7648"/>
<polygon points="134.0,908.0 135.3,907.3 136.4,906.8 138.1,905.9 139.7,905.1 140.9,904.6 142.0,904.2 143.4,903.6 145.1,903.0 146.9,902.5 148.3,902.2 149.6,901.9 150.7,901.6 151.7,901.3 153.3,900.9 154.4,900.6 155.5,900.4 157.1,899.9 158.3,899.5 160.0,899.0 161.3,898.6 163.0,898.1 164.4,897.7 166.2,897.0 167.1,896.6 168.4,896.1 169.7,895.6 171.4,894.9 173.0,894.3 174.4,893.7 176.0,893.2 177.4,892.8 178.4,892.5 179.5,892.2 181.2,891.6 182.6,891.2 184.1,890.8 185.3,890.4 186.7,889.8 188.3,889.2 189.5,888.7 190.5,888.4 191.7,888.2 193.4,887.9 194.6,887.8 196.2,887.5 197.7,887.2 198.7,887.1 200.4,882.0 201.6,877.8 203.2,874.5 204.3,873.4 206.1,869.4 207.7,868.3 209.5,867.2 211.0,866.5 212.4,865.6 213.4,864.2 215.2,864.1 216.4,863.1 217.8,862.2 219.0,861.4 220.1,859.8 221.3,860.1 222.5,859.5 224.3,858.6 225.5,858.0 227.1,857.2 228.5,856.5 230.2,855.2 231.7,853.9 232.9,853.3 234.6,852.8 235.9,852.8 237.7,852.8 239.5,852.8 240.5,854.1 242.1,852.9 243.4,853.2 244.8,854.2 246.4,854.4 247.9,854.6 248.9,855.8 250.2,855.2 251.7,854.9 253.3,854.9 254.7,854.9 256.4,855.6 257.6,855.6 258.9,855.0 260.1,855.3 261.3,855.1 263.1,854.7 264.6,854.4 266.3,854.9 267.4,854.7 268.5,854.5 270.2,854.3 271.7,854.6 273.0,853.7 274.5,854.1 276.0,854.5 277.3,854.8 278.9,855.9 280.6,856.4 282.2,856.1 283.6,856.3 285.4,856.6 287.2,857.2 288.8,858.0 290.2,858.1 291.2,859.9 292.7,860.7 294.0,861.1 295.6,861.4 296.6,862.5 297.7,862.0 299.1,863.3 300.3,864.1 302.0,864.9 303.4,864.5 304.7,864.4 305.8,865.7 307.4,866.2 308.6,866.4 309.9,866.9 311.2,866.4 312.5,866.0 313.9,864.7 315.6,864.1 317.4,863.4 319.0,861.3 320.8,860.0 322.1,860.1 323.6,859.3 325.2,860.5 326.2,861.0 327.9,862.0 329.6,858.4 331.2,855.1 332.9,853.6 334.1,852.9 335.5,850.6 337.2,849.6 338.2,848.9 339.9,847.9 341.5,847.5 343.0,848.0 344.1,847.8 345.3,847.6 346.8,846.7 348.2,846.2 349.4,845.0 350.8,844.4 352.4,842.0 353.7,841.7 355.5,841.5 357.0,841.1 358.4,840.8 359.4,840.1 360.8,840.2 361.9,840.2 363.3,840.1 364.5,840.0 365.7,839.7 366.8,840.3 368.0,840.2 369.6,840.4 370.6,840.5 371.9,840.6 373.3,840.6 375.0,841.6 376.5,841.7 377.6,841.9 379.0,843.7 380.5,844.5 381.6,845.0 382.9,845.5 384.2,845.9 386.0,846.5 387.5,847.1 388.6,846.5 390.4,847.8 391.8,848.5 392.9,848.8 393.9,849.0 395.2,849.2 396.3,849.5 397.5,849.7 398.7,850.0 399.7,850.2 401.2,849.6 402.8,848.9 404.3,849.6 405.5,849.2 407.0,848.3 408.8,848.4 410.2,848.8 411.4,850.1 412.8,850.5 414.3,849.9 416.0,850.3 417.0,850.7 418.1,851.0 419.9,851.9 421.0,852.3 422.8,853.0 424.5,854.0 426.2,854.0 427.8,854.9 429.4,855.7 431.0,856.5 432.0,856.9 433.6,857.7 435.1,857.7 436.8,857.7 438.1,857.7 439.9,857.7 441.2,857.8 442.4,857.6 444.2,857.2 445.3,857.1 446.9,856.8 448.0,856.9 449.0,856.9 450.2,856.7 451.8,856.7 453.3,856.7 454.5,857.2 455.8,856.6 456.8,856.4 458.3,856.6 459.5,856.4 460.8,856.2 461.9,856.0 463.5,855.8 464.7,855.4 466.3,855.5 467.7,855.6 469.0,855.3 470.7,856.3 472.1,855.9 473.5,856.0 474.8,855.7 476.5,855.8 477.8,855.9 479.5,856.2 481.3,856.3 482.6,856.4 484.0,856.4 485.1,856.3 486.2,857.4 487.6,857.4 488.6,856.6 490.1,856.7 491.5,856.6 492.5,856.4 494.2,855.6 495.5,855.4 496.9,855.1 498.5,855.5 499.5,855.6 500.7,855.8 502.3,856.0 504.0,856.3 505.1,856.4 506.2,856.4 507.8,857.1 509.0,857.3 510.8,857.6 512.0,857.7 513.5,857.2 515.2,856.3 516.8,855.7 518.3,855.7 519.7,855.1 521.0,853.9 522.8,853.6 524.0,854.1 525.4,853.8 526.6,853.7 527.7,853.7 528.7,853.7 530.3,853.6 532.0,853.6 533.6,853.6 534.8,854.0 536.5,854.2 538.0,854.7 539.4,855.2 541.2,855.9 543.0,855.7 544.8,856.3 546.0,856.6 547.5,858.2 549.2,858.9 551.0,858.9 552.2,859.4 553.2,859.3 554.6,859.8 556.0,860.3 557.2,860.8 558.5,861.2 560.0,862.2 561.1,863.0 562.6,864.0 564.3,865.4 565.9,867.2 566.9,868.3 567.9,869.5 569.1,870.5 570.3,871.9 572.0,873.2 573.5,875.8 574.8,879.2 576.2,881.7 577.9,883.4 579.0,885.6 580.5,887.3 581.8,888.2 583.2,888.4 585.0,888.8 586.2,888.5 587.8,888.3 588.9,887.8 590.6,889.0 591.9,889.1 593.5,888.4 594.6,888.4 596.0,888.5 597.2,888.5 598.9,888.6 600.3,888.8 601.7,888.7 602.8,888.1 604.2,888.4 605.3,888.4 606.5,888.4 608.2,888.3 610.0,889.1 611.7,889.0 612.8,888.9 614.3,888.3 615.3,888.2 616.9,888.1 618.6,888.6 619.7,887.3 621.1,887.2 622.8,887.6 624.2,888.6 625.7,892.2 627.4,900.5 628.5,907.2 629.8,915.8 630.8,923.8 631.0,925.0 631.0,934.0 630.8,932.8 629.8,924.8 628.5,916.2 627.4,909.5 625.7,901.2 624.2,897.6 622.8,896.6 621.1,896.2 619.7,896.3 618.6,897.6 616.9,897.1 615.3,897.2 614.3,897.3 612.8,897.9 611.7,898.0 610.0,898.1 608.2,897.3 606.5,897.4 605.3,897.4 604.2,897.4 602.8,897.1 601.7,897.7 600.3,897.8 598.9,897.6 597.2,897.5 596.0,897.5 594.6,897.4 593.5,897.4 591.9,898.1 590.6,898.0 588.9,896.8 587.8,897.3 586.2,897.5 585.0,898.0 583.2,898.0 581.8,897.9 580.5,897.5 579.0,896.2 577.9,894.3 576.2,893.1 574.8,891.2 573.5,888.1 572.0,886.0 570.3,885.2 569.1,884.2 567.9,883.6 566.9,882.7 565.9,881.9 564.3,880.2 562.6,878.9 561.1,878.0 560.0,877.2 558.5,876.2 557.2,875.8 556.0,875.3 554.6,874.8 553.2,874.3 552.2,874.4 551.0,873.9 549.2,873.9 547.5,873.2 546.0,871.6 544.8,871.3 543.0,870.7 541.2,870.9 539.4,870.2 538.0,869.7 536.5,869.2 534.8,869.0 533.6,868.6 532.0,868.6 530.3,868.6 528.7,868.7 527.7,868.7 526.6,868.7 525.4,868.8 524.0,869.1 522.8,868.6 521.0,868.9 519.7,870.1 518.3,870.7 516.8,870.7 515.2,871.3 513.5,872.2 512.0,872.7 510.8,872.6 509.0,872.3 507.8,872.1 506.2,871.4 505.1,871.4 504.0,871.3 502.3,871.0 500.7,870.8 499.5,870.6 498.5,870.5 496.9,870.1 495.5,870.4 494.2,870.6 492.5,871.4 491.5,871.6 490.1,871.7 488.6,871.6 487.6,872.4 486.2,872.4 485.1,871.3 484.0,871.4 482.6,871.4 481.3,871.3 479.5,871.2 477.8,870.9 476.5,870.8 474.8,870.7 473.5,871.0 472.1,870.9 470.7,871.3 469.0,870.3 467.7,870.6 466.3,870.5 464.7,870.4 463.5,870.8 461.9,871.0 460.8,871.2 459.5,871.4 458.3,871.6 456.8,871.4 455.8,871.6 454.5,872.2 453.3,871.7 451.8,871.7 450.2,871.7 449.0,871.9 448.0,871.9 446.9,871.8 445.3,872.1 444.2,872.2 442.4,872.6 441.2,872.8 439.9,872.7 438.1,872.7 436.8,872.7 435.1,872.7 433.6,872.7 432.0,871.9 431.0,871.5 429.4,870.7 427.8,869.9 426.2,869.0 424.5,869.0 422.8,868.0 421.0,867.3 419.9,866.9 418.1,866.0 417.0,865.7 416.0,865.3 414.3,864.9 412.8,865.5 411.4,865.1 410.2,863.8 408.8,863.4 407.0,863.3 405.5,864.2 404.3,864.6 402.8,863.9 401.2,864.6 399.7,865.2 398.7,865.0 397.5,864.7 396.3,864.5 395.2,864.2 393.9,864.0 392.9,863.8 391.8,863.5 390.4,862.8 388.6,861.5 387.5,862.1 386.0,861.5 384.2,860.9 382.9,860.5 381.6,860.0 380.5,859.5 379.0,858.7 377.6,856.9 376.5,856.7 375.0,856.6 373.3,855.6 371.9,855.6 370.6,855.5 369.6,855.4 368.0,855.2 366.8,855.3 365.7,854.7 364.5,855.0 363.3,855.1 361.9,855.2 360.8,855.2 359.4,855.1 358.4,855.8 357.0,856.1 355.5,856.5 353.7,856.7 352.4,857.0 350.8,859.4 349.4,860.0 348.2,861.2 346.8,861.7 345.3,862.6 344.1,862.8 343.0,863.0 341.5,862.5 339.9,862.9 338.2,863.9 337.2,864.6 335.5,865.6 334.1,867.9 332.9,868.6 331.2,870.1 329.6,873.4 327.9,877.0 326.2,876.0 325.2,875.5 323.6,874.3 322.1,875.1 320.8,875.0 319.0,876.3 317.4,878.4 315.6,879.1 313.9,879.7 312.5,881.0 311.2,881.4 309.9,881.9 308.6,881.4 307.4,881.2 305.8,880.7 304.7,879.4 303.4,879.5 302.0,879.9 300.3,879.1 299.1,878.3 297.7,877.0 296.6,877.5 295.6,876.4 294.0,876.1 292.7,875.7 291.2,874.9 290.2,873.1 288.8,873.0 287.2,872.2 285.4,871.6 283.6,871.3 282.2,871.1 280.6,871.4 278.9,870.9 277.3,869.8 276.0,869.5 274.5,869.1 273.0,868.7 271.7,869.6 270.2,869.3 268.5,869.5 267.4,869.7 266.3,869.9 264.6,869.4 263.1,869.7 261.3,870.1 260.1,870.3 258.9,870.0 257.6,870.6 256.4,870.6 254.7,869.9 253.3,869.9 251.7,869.9 250.2,870.2 248.9,870.8 247.9,869.6 246.4,869.4 244.8,869.2 243.4,868.2 242.1,867.9 240.5,869.1 239.5,867.8 237.7,867.8 235.9,867.8 234.6,867.8 232.9,868.3 231.7,868.9 230.2,870.2 228.5,871.5 227.1,872.2 225.5,873.0 224.3,873.6 222.5,874.5 221.3,875.1 220.1,874.8 219.0,876.3 217.8,876.9 216.4,877.7 215.2,878.5 213.4,878.4 212.4,879.7 211.0,880.3 209.5,880.4 207.7,881.0 206.1,881.6 204.3,885.0 203.2,885.8 201.6,888.6 200.4,892.4 198.7,897.0 197.7,897.1 196.2,897.1 194.6,897.2 193.4,897.3 191.7,897.4 190.5,897.5 189.5,897.7 188.3,898.2 186.7,898.8 185.3,899.4 184.1,899.8 182.6,900.2 181.2,900.6 179.5,901.2 178.4,901.5 177.4,901.8 176.0,902.2 174.4,902.7 173.0,903.3 171.4,903.9 169.7,904.6 168.4,905.1 167.1,905.6 166.2,906.0 164.4,906.7 163.0,907.1 161.3,907.6 160.0,908.0 158.3,908.5 157.1,908.9 155.5,909.4 154.4,909.6 153.3,909.9 151.7,910.3 150.7,910.6 149.6,910.9 148.3,911.2 146.9,911.5 145.1,912.0 143.4,912.6 142.0,913.2 140.9,913.6 139.7,914.1 138.1,914.9 136.4,915.8 135.3,916.3 134.0,917.0" fill="#b2aab0"/>
<polygon points="190.0,886.5 191.3,885.7 193.0,884.6 194.6,883.7 195.9,882.9 197.6,881.8 199.3,879.9 200.3,876.2 201.9,870.0 203.2,864.1 205.0,856.5 206.0,854.6 207.3,852.1 209.0,848.6 210.1,847.5 211.2,846.4 212.9,845.0 214.3,844.2 215.4,843.2 217.0,841.3 218.4,839.7 219.4,838.6 220.5,837.5 221.9,836.3 223.1,835.4 224.6,833.1 226.3,831.5 227.4,830.4 229.0,828.8 230.5,827.6 231.6,825.0 232.8,822.7 234.2,819.8 235.6,817.8 237.3,817.4 238.7,816.2 239.9,817.0 241.1,816.9 242.3,817.0 243.9,817.1 245.4,817.8 247.0,819.6 248.2,818.8 249.2,819.4 250.2,819.7 251.6,821.1 253.4,820.4 254.8,820.4 255.8,820.4 257.0,820.0 258.0,820.0 259.6,819.5 260.9,819.2 262.4,819.9 263.8,818.7 265.4,818.0 266.5,817.4 267.9,818.3 269.6,817.5 271.0,818.2 272.5,819.7 274.1,821.3 275.5,821.3 277.0,820.1 278.7,819.9 279.8,819.9 280.9,820.4 282.6,821.3 283.7,822.4 285.0,823.5 286.2,824.8 287.5,826.0 289.0,828.0 290.6,829.4 292.1,829.9 293.8,830.8 294.9,831.3 296.3,831.1 297.9,832.9 299.0,835.7 300.8,837.8 302.6,839.2 304.3,839.7 305.4,840.1 307.0,840.6 308.4,840.1 309.5,841.5 310.7,842.3 311.9,841.8 313.5,840.6 314.6,839.7 315.6,838.9 317.2,835.9 318.7,832.4 320.1,829.3 321.9,827.6 323.3,826.9 325.1,828.9 326.2,830.4 327.8,834.4 329.3,827.5 331.0,820.5 332.6,817.4 333.9,814.9 335.5,811.2 337.2,810.1 338.8,808.8 340.0,807.8 341.6,806.6 343.4,805.9 345.0,805.6 346.1,805.4 347.0,805.0 348.7,799.6 349.8,795.8 351.6,794.5 352.7,794.1 353.7,793.7 355.3,792.8 356.4,791.5 358.1,788.8 359.4,787.8 361.1,786.5 362.3,784.6 363.9,784.8 364.9,784.8 366.7,784.5 368.0,784.7 369.4,784.9 370.9,786.7 372.5,787.6 373.6,788.3 375.3,788.8 376.7,790.5 377.9,793.1 379.3,795.3 381.0,797.0 382.5,797.2 384.0,797.5 385.4,798.7 386.8,800.6 388.1,802.5 389.5,803.5 391.3,804.9 392.9,805.4 394.1,806.0 395.6,806.8 396.9,807.1 398.6,808.0 399.8,808.2 401.2,808.4 402.9,808.0 404.7,807.5 406.3,806.5 407.9,806.3 409.2,806.8 410.7,806.4 412.0,806.9 413.6,808.3 414.6,809.1 416.3,810.4 417.3,811.3 418.6,812.5 420.3,814.6 421.6,816.1 423.3,817.9 424.6,818.9 426.2,820.5 427.3,822.1 428.8,823.7 430.3,824.8 431.5,825.6 432.6,827.0 433.7,827.4 435.1,827.0 436.5,826.9 438.2,826.1 439.3,824.9 441.0,826.2 442.2,826.2 443.6,826.2 445.1,825.4 446.8,825.3 448.2,825.0 449.9,824.8 451.6,824.1 452.6,824.1 454.0,825.2 455.0,824.6 456.7,823.7 458.4,823.3 459.5,822.9 460.6,822.3 462.4,822.7 463.7,822.8 465.0,822.8 466.7,823.0 468.1,823.2 469.4,824.0 471.0,824.0 472.3,823.9 474.0,823.7 475.5,823.5 476.7,822.7 478.3,823.4 479.5,823.1 481.1,822.2 482.4,822.2 483.9,822.7 485.4,823.5 487.2,823.5 488.6,824.0 489.7,824.3 491.2,824.6 492.4,823.7 493.7,823.3 495.2,822.1 497.0,821.6 498.6,822.3 500.5,822.5 501.8,821.8 503.3,822.0 504.3,822.1 505.4,822.4 507.2,823.6 508.7,824.4 510.4,825.1 511.5,825.6 512.8,825.8 514.2,824.9 515.9,823.5 517.1,821.3 518.6,820.0 519.7,820.7 521.2,818.6 522.7,818.0 524.3,816.9 526.1,817.6 527.1,817.5 528.8,818.1 530.1,818.0 531.3,817.8 533.0,817.5 534.4,817.4 535.9,817.2 537.5,818.4 539.1,819.5 540.6,820.7 542.3,821.9 543.5,822.8 544.6,823.6 545.7,825.3 547.1,825.3 548.3,826.2 549.5,827.0 551.0,829.1 552.5,828.8 553.7,829.6 554.7,831.1 556.2,832.5 557.4,833.7 558.5,834.8 559.7,836.0 561.0,837.0 562.3,838.5 563.5,840.0 564.7,841.5 566.4,844.5 567.7,847.0 568.8,849.2 570.5,853.1 572.0,856.3 573.7,860.7 575.0,864.6 576.5,869.4 577.8,873.5 579.3,878.1 580.0,880.6 580.0,889.4 579.0,887.5 577.7,883.7 576.0,880.3 574.3,874.6 572.9,871.8 571.5,869.5 570.3,868.0 569.3,867.4 568.3,866.2 566.8,864.3 565.4,862.6 564.2,860.7 562.5,858.2 561.1,856.9 559.9,856.1 558.6,854.6 557.6,853.6 556.3,852.3 555.3,850.4 553.9,849.5 552.5,848.5 551.0,847.5 549.8,846.4 548.4,846.5 547.3,845.7 546.1,844.9 544.3,843.6 543.1,842.6 541.7,841.6 540.1,840.4 538.9,839.4 537.3,836.9 535.8,836.9 534.0,837.0 532.7,837.2 531.2,837.9 530.1,837.6 528.6,836.3 527.5,835.9 526.0,835.3 524.6,836.0 523.4,836.5 522.3,836.9 520.5,838.8 519.4,838.5 517.9,840.6 516.6,841.5 515.1,843.5 514.0,844.4 512.3,843.5 511.3,843.1 509.9,842.5 508.3,842.4 506.8,841.6 505.4,841.9 503.9,840.5 502.5,840.4 501.2,840.2 499.9,840.1 498.1,839.9 496.8,839.8 495.5,840.1 493.7,842.6 492.5,843.0 490.9,845.1 489.4,844.6 487.6,844.0 486.5,843.0 485.5,842.3 484.4,841.8 483.1,842.6 481.3,840.9 479.8,841.9 478.0,841.7 476.8,841.8 475.5,841.9 474.0,842.1 472.4,842.2 470.6,842.3 469.2,842.3 468.1,842.2 466.9,842.0 465.1,841.8 463.6,841.9 462.6,842.0 461.1,842.2 459.6,842.7 458.2,843.2 456.7,843.2 455.0,842.8 453.9,842.8 452.4,843.7 451.1,844.2 449.7,844.5 448.6,844.5 447.5,844.7 446.1,844.9 444.9,844.4 443.5,844.4 442.4,844.4 441.0,844.4 439.5,844.6 438.0,845.0 436.2,845.5 435.2,846.1 433.7,845.7 431.9,846.0 430.9,844.0 429.9,843.0 428.6,841.7 427.1,840.1 425.8,838.9 424.8,837.9 423.6,836.5 421.8,834.8 420.7,833.7 419.2,832.6 417.6,831.0 416.2,829.8 415.0,828.8 413.9,827.7 412.2,826.3 411.2,826.0 409.4,825.3 407.8,824.7 406.4,824.7 404.8,825.6 403.3,826.9 401.7,827.9 400.3,827.1 398.6,827.1 397.2,826.9 396.0,827.1 394.2,826.1 393.2,824.7 391.5,823.8 390.3,823.2 389.3,822.0 387.8,820.0 386.6,819.5 385.5,816.5 384.5,816.1 383.2,815.5 381.7,815.2 380.3,815.0 378.8,813.8 377.7,811.0 376.1,809.2 374.6,806.7 373.5,806.7 371.8,805.4 370.5,804.6 368.9,805.0 367.6,803.9 365.9,803.7 364.9,804.0 363.9,804.2 362.3,803.3 360.6,804.4 359.6,805.4 358.3,807.7 356.7,809.3 355.3,811.1 353.6,811.7 351.9,812.0 350.7,812.7 349.2,816.2 347.9,819.6 346.6,824.1 345.0,824.4 343.4,824.7 342.4,824.3 341.1,825.9 339.5,825.8 337.8,828.5 336.2,829.8 334.5,832.9 333.1,834.6 331.6,838.8 330.2,842.1 329.2,847.1 327.6,853.3 326.1,849.8 324.6,845.3 323.2,845.0 321.6,846.1 320.0,847.7 318.3,851.6 317.1,855.6 315.8,857.9 314.8,858.7 313.4,859.7 312.0,860.1 310.3,860.8 308.8,859.2 307.4,860.0 306.4,858.2 304.8,857.7 303.2,857.8 301.6,856.9 299.8,855.2 298.4,853.6 296.9,851.4 295.9,851.1 294.5,850.2 292.7,849.3 291.1,848.6 289.7,846.9 288.3,845.5 287.1,844.3 285.8,842.5 284.0,840.8 282.4,839.9 281.1,840.1 280.0,839.6 278.7,839.6 277.1,839.6 275.6,839.6 274.2,839.6 273.1,838.8 271.8,837.0 270.4,836.2 268.6,836.6 266.9,837.4 265.6,838.1 264.7,838.6 263.3,838.6 261.8,838.8 260.1,838.9 258.6,839.5 257.5,840.0 255.9,839.9 254.1,839.9 252.9,839.6 251.2,839.6 249.6,839.5 248.5,839.0 247.0,837.9 245.1,837.6 243.8,837.0 242.6,836.4 241.5,836.3 240.4,836.2 238.7,836.0 237.5,836.3 236.2,837.1 234.9,838.0 233.4,839.9 231.9,843.3 230.8,845.0 229.6,847.2 228.3,848.6 226.8,850.0 225.4,852.4 223.7,853.8 222.5,854.7 221.5,855.5 220.1,856.5 219.1,857.7 217.9,858.9 216.8,860.2 215.3,862.2 214.0,862.6 212.5,862.7 210.8,862.7 209.3,863.6 208.1,864.8 206.9,866.1 205.4,867.6 204.2,871.1 203.1,874.9 201.9,879.5 200.6,883.3 199.4,887.6 198.4,889.3 197.2,889.7 195.8,890.2 194.4,890.8 193.1,891.3 191.7,891.9 190.0,892.5" fill="#b2aab0"/>
<polygon points="190.0,886.0 191.5,885.0 193.1,883.9 194.6,882.9 195.7,882.1 197.3,881.0 199.1,879.1 200.5,870.4 201.8,861.8 202.9,856.6 204.3,850.5 205.4,846.9 207.0,843.5 208.5,841.0 210.2,838.8 211.3,836.3 212.4,835.2 213.7,834.4 214.7,833.0 216.5,830.1 218.2,827.5 219.5,826.7 221.3,823.8 222.4,822.2 223.7,820.7 225.1,819.6 226.7,817.6 228.0,815.7 229.0,812.1 230.7,807.1 232.3,802.8 233.6,799.8 234.6,797.4 236.0,796.1 237.7,795.8 239.4,796.0 241.2,794.9 242.2,794.9 243.8,794.9 245.2,795.9 246.7,797.0 248.2,798.2 249.2,799.1 250.7,800.2 252.1,801.4 253.5,801.8 255.1,800.5 256.7,800.4 258.2,799.8 259.3,799.8 260.6,800.2 262.2,800.4 263.8,799.4 265.2,798.2 267.0,797.3 268.2,795.7 269.6,793.9 271.3,795.5 272.3,797.5 273.8,800.0 275.2,799.2 277.0,800.6 278.0,800.9 279.0,800.4 280.2,799.8 281.8,799.0 283.3,800.5 284.5,802.8 285.7,804.4 286.8,805.9 288.0,807.7 289.2,809.4 290.3,810.6 292.1,811.0 293.5,811.4 294.7,812.4 296.2,814.3 297.9,816.4 299.3,818.4 300.3,819.5 301.8,821.2 302.8,822.3 303.8,823.4 304.8,824.4 306.1,825.7 307.7,827.5 309.5,829.8 310.5,830.9 311.9,830.5 313.0,828.3 314.2,827.6 315.5,825.9 316.9,823.5 318.7,820.3 320.2,817.3 322.0,813.8 323.2,811.0 324.4,809.5 325.9,814.2 327.3,819.0 328.8,813.2 330.1,805.6 331.6,798.0 332.6,795.0 333.9,791.1 335.1,787.7 336.8,784.7 337.8,783.0 339.2,780.9 340.7,780.1 342.1,779.6 343.4,779.5 345.0,777.6 346.0,777.2 347.6,772.5 348.6,768.9 350.3,763.5 351.5,761.6 352.5,759.4 354.0,759.3 355.3,761.5 356.7,759.2 358.4,753.6 360.2,749.2 361.6,746.2 362.8,746.1 364.5,746.4 365.7,746.6 367.2,746.7 368.6,746.9 370.2,746.9 371.9,746.9 373.6,748.3 375.2,752.7 376.9,755.9 378.2,758.8 379.7,763.0 381.0,763.5 382.3,763.1 383.9,764.3 385.1,766.4 386.5,768.9 388.0,772.0 389.0,774.3 390.6,777.7 392.3,779.9 393.4,780.0 395.1,782.2 396.2,782.9 397.5,782.5 399.3,783.4 400.9,784.8 402.1,784.4 403.6,782.9 405.0,781.5 406.2,780.6 407.6,781.3 409.3,782.1 410.5,783.0 412.0,783.6 413.8,785.3 415.1,786.5 416.8,789.4 418.2,790.9 419.6,792.8 421.2,794.9 422.7,796.9 424.0,798.4 425.3,800.2 426.8,801.9 428.1,804.0 429.2,806.8 430.4,809.5 432.1,812.7 433.5,812.2 435.2,810.9 436.7,810.4 438.4,810.1 440.2,810.7 441.4,811.4 442.7,811.9 444.5,811.1 446.0,810.4 447.6,809.6 449.1,808.8 450.6,808.3 451.6,809.4 453.2,809.4 454.5,808.3 455.7,807.9 457.5,806.8 459.0,806.6 460.0,805.9 461.4,805.1 463.2,805.5 464.5,806.3 465.8,807.1 467.4,807.6 468.4,807.0 470.1,805.9 471.9,804.9 473.4,805.4 474.9,806.0 476.0,806.4 477.3,806.1 478.3,807.0 479.4,805.9 480.9,805.5 482.6,805.5 484.2,805.3 485.3,805.9 486.6,806.6 488.4,807.5 489.9,808.6 491.6,808.3 493.1,806.6 494.7,805.0 496.5,803.9 497.5,803.4 498.9,802.6 500.4,801.5 502.0,801.7 503.3,802.8 504.3,803.5 505.9,803.2 507.5,803.1 508.8,804.1 510.4,805.3 511.5,806.0 513.3,807.0 514.8,806.2 516.5,804.6 517.7,803.3 519.0,801.9 520.5,800.3 522.2,798.0 523.8,796.6 525.5,794.5 526.9,795.3 527.9,797.0 529.3,797.0 530.5,797.5 532.0,797.2 533.3,797.4 534.7,797.1 535.9,796.9 537.0,798.1 538.6,800.2 540.0,801.9 541.2,803.8 542.8,805.4 544.5,806.3 546.0,807.7 547.3,808.6 548.4,809.4 549.9,810.4 551.3,811.3 552.4,811.7 553.5,813.7 554.6,814.8 555.9,816.2 556.9,817.2 558.1,818.9 559.2,820.6 560.2,821.3 561.8,823.9 563.3,827.0 564.9,830.7 566.0,833.0 567.5,836.3 568.6,838.1 569.7,840.7 570.9,843.5 572.0,846.1 573.1,851.9 574.1,856.4 575.1,860.7 576.4,866.3 578.0,872.6 579.0,875.6 580.0,879.5 580.0,888.5 578.5,884.1 576.8,878.5 575.6,874.0 573.9,867.6 572.5,863.5 571.3,860.6 569.7,858.0 568.1,855.4 566.9,852.6 565.2,849.7 563.8,847.1 562.2,844.6 561.2,843.7 559.9,841.6 558.6,839.6 557.4,837.7 555.8,836.1 554.6,834.7 553.5,833.7 551.9,831.8 550.9,831.1 549.5,830.2 548.0,829.2 546.8,828.4 545.3,827.2 544.1,826.0 542.7,824.3 541.4,823.9 540.2,822.8 538.4,820.6 537.0,818.3 535.2,817.2 534.0,817.4 533.0,817.9 531.7,817.8 530.5,818.0 528.7,816.9 527.5,816.1 525.8,814.9 523.9,816.1 522.2,817.6 520.5,819.6 518.7,821.9 517.2,823.6 515.5,825.2 514.0,826.7 512.5,827.5 511.2,826.4 509.6,825.1 508.3,824.0 507.0,823.2 505.3,823.0 504.1,822.1 502.5,823.1 501.0,822.9 499.8,822.8 498.3,823.1 496.7,822.5 495.0,823.4 493.8,825.4 492.5,827.4 491.5,828.6 489.7,828.3 488.7,827.8 487.2,827.1 486.2,826.6 484.6,825.8 483.6,825.4 482.1,825.8 480.4,826.3 478.8,825.9 477.7,826.3 476.3,827.2 474.7,826.6 473.2,825.3 472.0,824.8 470.2,825.9 469.1,826.5 467.5,827.5 466.0,827.1 464.7,826.4 463.4,825.3 461.7,825.3 460.4,826.0 459.2,826.2 457.9,827.6 456.9,827.4 455.7,828.3 454.4,828.7 453.0,829.8 451.4,828.6 449.7,829.5 448.0,830.4 447.0,831.0 445.2,831.9 444.1,831.5 442.4,831.0 440.7,830.4 439.1,829.9 437.8,829.4 436.4,829.8 434.9,831.4 433.8,831.8 432.7,832.2 431.3,831.0 430.1,828.7 429.0,826.3 427.5,823.1 425.8,820.4 424.6,819.7 423.2,817.3 421.5,815.3 420.4,813.7 418.9,811.7 417.4,810.0 416.4,808.6 414.7,806.9 413.1,805.8 412.1,804.8 411.1,803.7 409.4,802.8 408.4,802.3 406.6,801.7 405.1,802.2 403.4,804.0 401.8,805.2 400.7,804.7 399.1,802.9 397.7,802.2 395.9,802.1 394.8,801.5 393.2,799.7 391.5,798.5 390.1,796.3 388.3,792.4 386.8,789.5 385.2,786.8 384.0,784.6 382.9,782.9 381.2,783.5 380.0,783.8 378.4,779.8 376.8,775.6 375.0,772.0 373.2,767.0 371.8,767.2 370.2,766.8 369.1,766.7 368.0,767.1 366.3,766.9 364.4,766.6 362.8,765.5 361.7,766.0 359.9,769.6 358.9,771.8 357.1,777.7 355.3,782.0 353.7,780.4 352.0,780.8 350.8,782.8 349.3,786.4 347.8,791.0 346.1,797.2 344.9,797.8 343.7,798.2 342.2,798.6 340.4,800.5 338.7,802.8 337.5,804.8 336.1,807.0 334.7,809.8 333.1,814.5 331.8,818.5 330.7,822.7 329.2,830.7 328.1,836.5 326.4,835.4 325.4,833.0 324.1,828.6 322.9,831.6 321.6,835.4 320.3,838.2 318.6,841.4 317.1,842.9 315.5,846.1 314.2,848.1 313.0,849.4 311.5,850.0 309.9,850.2 308.8,849.0 307.0,846.5 305.8,845.5 304.4,844.1 303.1,842.3 301.3,840.2 299.6,837.7 298.1,835.4 296.4,834.3 294.9,832.4 293.5,830.5 292.3,831.1 291.0,830.8 289.9,830.0 288.1,827.3 286.9,825.0 285.8,823.3 284.5,821.7 282.8,819.6 281.2,818.9 279.8,819.6 278.1,821.5 276.8,821.0 275.2,820.4 273.6,818.4 272.4,817.0 271.2,814.5 269.7,813.8 268.1,815.9 266.8,817.0 265.4,819.1 264.2,820.3 262.9,819.5 261.2,820.0 260.0,820.0 258.9,820.0 257.9,820.0 256.9,820.5 255.5,820.7 254.2,821.4 253.0,821.8 251.6,820.9 250.1,819.6 248.9,818.7 247.3,817.5 245.7,815.8 244.6,816.1 243.2,815.6 241.4,814.4 240.3,814.4 238.9,814.9 237.2,815.6 235.9,817.3 234.4,819.1 233.2,821.8 232.0,824.7 230.5,827.9 229.0,832.4 227.9,835.4 226.3,837.5 224.9,840.3 223.7,841.8 222.4,842.1 220.7,844.7 219.1,845.9 217.3,848.1 215.6,850.6 214.2,852.5 212.9,853.1 211.4,853.4 209.8,853.8 208.7,856.0 207.5,857.6 206.4,859.1 205.0,860.8 203.3,867.1 201.6,874.1 200.2,881.4 198.6,888.5 197.5,888.8 195.7,889.5 194.5,890.0 193.0,890.7 191.5,891.4 190.0,892.0" fill="#b2aab0"/>
<path d="M205.0 857.8 L206.2 855.9 L207.8 853.3 L209.0 851.7 L210.7 850.1 L212.4 848.9 L213.9 848.2 L215.4 846.6 L216.4 845.4 L217.7 843.8 L219.0 841.9 L220.3 840.7 L222.2 838.6 L223.4 837.9 L224.5 836.7 L226.1 834.9 L227.9 832.2 L229.5 829.1 L230.6 826.6 L232.0 823.0 L232.0 823.2" fill="none" stroke="#ebe5eb" stroke-width="0.9" stroke-opacity="0.8"/>
<path d="M251.5 819.8 L252.7 820.3 L254.3 820.2 L255.5 819.9 L256.0 819.8" fill="none" stroke="#ebe5eb" stroke-width="0.9" stroke-opacity="0.8"/>
<path d="M260.5 819.1 L261.7 819.1 L263.3 819.0 L264.5 818.4 L265.0 818.2" fill="none" stroke="#ebe5eb" stroke-width="0.9" stroke-opacity="0.8"/>
<path d="M287.5 825.3 L288.7 826.8 L290.3 828.5 L291.5 829.0 L293.2 829.6 L294.9 830.5 L296.4 832.0 L297.9 833.7 L298.9 835.3 L300.2 837.0 L301.5 838.6 L302.8 840.1 L304.7 841.3 L305.9 842.6 L307.0 843.3 L308.6 844.5 L310.4 845.2 L312.0 845.0 L313.1 844.0 L314.5 842.8 L316.1 841.4 L318.0 837.4 L319.4 834.8 L321.0 831.8 L322.1 830.0 L324.0 828.0 L325.1 829.5 L327.0 834.1 L328.2 833.8 L329.5 827.0" fill="none" stroke="#ebe5eb" stroke-width="0.9" stroke-opacity="0.8"/>
<path d="M425.5 819.4 L426.7 820.9 L428.3 823.1 L429.5 824.7 L431.2 827.4 L432.9 828.5 L434.4 828.1 L435.9 827.7 L436.9 827.6 L438.2 827.3 L439.5 827.2 L440.8 827.6 L442.7 827.8 L443.9 828.4 L445.0 828.1 L446.6 827.7 L448.4 826.5 L450.0 826.0 L451.1 825.9 L452.5 825.8 L454.1 826.4 L456.0 825.9 L457.4 825.4 L459.0 824.5 L460.1 824.0 L462.0 823.4 L463.1 823.6 L465.0 824.5 L466.2 824.9 L468.0 825.0 L469.8 823.8 L470.9 823.5 L472.1 823.1 L473.8 823.7 L475.3 823.8 L476.7 824.3 L477.8 824.2 L478.9 824.0 L480.9 823.2 L482.6 823.1 L483.7 823.4 L485.0 823.9 L486.1 824.3 L487.9 825.1 L489.5 825.8 L490.7 825.9 L491.9 825.4 L493.6 824.1 L495.0 822.7 L496.5 821.6 L497.7 821.3 L499.4 821.5 L501.1 821.0 L502.9 821.2 L504.3 821.4 L505.7 821.6 L507.2 822.4 L508.4 823.2 L510.2 824.4 L511.8 825.0 L513.1 825.3 L514.5 824.5 L515.7 823.4 L517.1 822.1 L518.8 820.4 L520.0 819.4" fill="none" stroke="#ebe5eb" stroke-width="0.9" stroke-opacity="0.8"/>
<path d="M538.0 818.5 L539.2 819.7 L540.8 821.3 L542.0 822.3 L543.7 823.8 L545.4 825.0 L546.9 826.1 L548.4 827.1 L549.4 828.0 L550.7 828.9 L552.0 829.7 L553.3 831.0 L555.2 832.6 L556.4 834.3 L557.5 835.3 L559.1 837.3 L560.9 839.2 L562.5 841.5 L563.6 843.2 L565.0 845.4 L566.6 848.9 L568.5 852.3 L569.5 853.8" fill="none" stroke="#ebe5eb" stroke-width="0.9" stroke-opacity="0.8"/>
<path d="M134.0 912.5 L135.2 911.9 L136.9 911.1 L138.5 910.3 L140.0 909.5 L141.2 909.0 L143.0 908.3 L144.8 907.6 L146.3 907.2 L147.8 906.8 L149.0 906.5 L150.1 906.2 L151.5 905.9 L153.0 905.5 L154.2 905.2 L155.9 904.7 L157.2 904.3 L158.4 904.0 L159.5 903.6 L161.5 903.1 L163.2 902.5 L165.0 902.0 L166.6 901.3 L167.7 900.9 L169.1 900.4 L170.6 899.8 L171.7 899.3 L173.6 898.6 L175.0 898.0 L176.2 897.6 L178.0 897.1 L179.1 896.8 L181.0 896.2 L182.5 895.8 L184.0 895.3 L185.4 894.8 L186.9 894.2 L188.1 893.8 L189.2 893.3 L191.0 892.9 L192.3 892.7 L194.0 892.6 L195.3 892.4 L197.2 892.2 L199.0 892.1 L200.6 886.3 L202.1 881.6 L204.0 879.0 L205.3 876.9 L206.7 875.5 L207.8 875.0 L209.5 874.2 L211.0 873.7 L212.3 872.9 L213.9 871.9 L215.1 871.1 L217.0 870.0 L218.5 869.0 L219.7 868.3 L221.5 867.1 L223.1 866.8 L225.0 865.9 L227.0 864.6 L228.8 863.7 L230.2 863.0 L232.1 862.1 L233.2 861.7 L234.7 860.6 L235.9 860.6 L237.4 860.6 L238.5 860.6 L240.3 861.2 L241.8 861.2 L243.7 861.7 L244.8 861.9 L246.6 862.5 L248.2 862.9 L249.8 862.8 L251.3 862.8 L253.0 862.8 L254.7 862.5 L256.3 863.4 L257.9 863.4 L259.3 863.4 L260.5 863.3 L261.6 863.1 L263.0 862.8 L264.9 861.7 L266.4 861.3 L267.9 861.0 L269.1 860.8 L270.5 861.2 L271.6 861.8 L273.3 861.3 L274.8 861.7 L276.5 862.1 L278.2 862.5 L279.9 862.7 L281.0 862.9 L282.3 863.3 L283.8 864.2 L285.0 863.9 L286.7 864.1 L288.4 865.2 L289.5 866.2 L290.8 866.9 L292.8 867.9 L293.9 868.4 L295.7 868.8 L297.3 869.6 L298.9 870.4 L300.4 871.2 L301.8 871.9 L302.9 872.2 L304.2 872.9 L305.9 873.3 L307.2 873.6 L308.7 874.1 L309.8 874.4 L311.3 873.9 L313.0 873.1 L314.7 872.4 L316.3 871.8 L318.2 870.9 L319.8 868.7 L321.8 867.6 L323.1 866.9 L324.5 867.0 L326.0 868.7 L327.4 870.0 L328.8 867.7 L330.7 863.3 L332.1 861.1 L333.4 860.0 L334.7 859.0 L336.3 858.0 L337.9 857.0 L339.3 856.4 L340.7 855.6 L342.0 855.3 L343.2 855.0 L345.2 854.5 L346.9 854.5 L348.0 853.5 L349.6 852.1 L350.7 850.9 L352.0 849.6 L353.8 849.1 L355.0 849.6 L356.5 849.2 L357.8 848.9 L359.3 848.5 L361.1 848.4 L362.9 848.3 L364.5 848.2 L366.4 847.9 L367.6 847.9 L369.4 848.0 L370.8 847.9 L372.1 848.2 L373.4 848.9 L374.6 849.1 L376.1 848.7 L377.4 849.4 L378.4 849.9 L380.1 850.7 L381.3 851.7 L382.7 852.5 L384.2 853.1 L386.0 853.7 L387.1 854.1 L388.6 854.2 L390.3 854.7 L391.5 855.6 L393.4 855.4 L395.1 856.1 L397.0 856.3 L398.9 857.1 L399.9 857.3 L401.5 857.1 L403.2 856.9 L405.1 856.8 L406.3 856.3 L408.0 856.4 L409.4 856.7 L410.8 857.1 L412.4 857.0 L413.5 857.2 L415.0 857.3 L416.6 857.8 L417.8 858.7 L419.6 859.0 L420.9 859.5 L422.5 860.7 L424.1 861.3 L425.6 862.0 L427.1 862.8 L428.6 863.6 L429.7 863.9 L431.5 865.0 L433.4 865.2 L434.8 865.2 L436.5 865.1 L438.4 865.1 L439.7 865.3 L441.1 865.2 L442.5 864.7 L444.0 864.5 L445.6 864.5 L447.4 863.9 L448.7 864.3 L450.6 864.3 L452.4 863.6 L453.7 863.6 L455.5 863.6 L457.2 863.4 L458.4 863.2 L459.9 863.1 L461.6 862.8 L463.2 862.8 L464.5 862.8 L465.6 863.1 L466.7 863.4 L467.8 863.4 L469.2 863.8 L470.6 863.6 L472.0 863.6 L473.7 863.5 L475.3 863.6 L477.0 863.7 L478.6 863.8 L479.9 864.0 L481.0 864.0 L482.2 863.8 L483.6 863.9 L484.7 864.0 L485.8 864.5 L487.1 864.6 L488.6 864.7 L490.0 864.1 L491.7 863.7 L493.0 863.5 L494.2 864.0 L495.7 862.9 L497.1 862.7 L498.9 862.6 L500.7 862.9 L502.2 863.9 L503.8 864.1 L505.6 864.4 L507.6 864.6 L509.1 864.8 L510.4 864.9 L511.8 864.5 L513.2 864.1 L514.5 864.3 L515.7 863.9 L516.8 863.1 L518.1 862.7 L519.9 862.0 L521.6 861.7 L523.1 861.4 L524.4 861.2 L525.7 861.0 L526.9 860.9 L528.1 860.9 L529.4 860.8 L531.0 860.8 L532.7 860.8 L534.4 860.9 L535.7 861.3 L537.4 861.8 L538.7 862.4 L539.9 862.7 L541.5 863.5 L542.8 863.4 L544.2 863.7 L545.6 864.4 L546.9 865.2 L548.6 866.1 L550.5 866.9 L552.0 867.0 L553.9 867.6 L555.5 868.3 L556.7 868.7 L557.9 869.1 L559.0 869.6 L560.8 870.4 L562.4 871.5 L563.9 872.5 L565.3 873.5 L566.7 874.4 L568.1 876.4 L570.0 878.4 L571.7 880.0 L573.3 881.8 L574.7 884.2 L576.3 886.7 L578.1 889.0 L579.4 890.5 L580.8 892.0 L581.9 892.3 L583.4 893.1 L585.2 892.6 L587.0 892.7 L588.9 892.8 L590.1 892.8 L591.5 893.6 L593.3 893.0 L594.6 893.1 L596.0 893.9 L597.2 893.8 L598.6 893.7 L599.9 894.0 L601.7 893.0 L603.4 892.9 L605.3 892.9 L606.8 892.8 L608.6 892.7 L609.9 892.6 L611.5 892.6 L613.4 892.8 L615.0 892.6 L616.6 892.5 L618.0 892.1 L619.4 892.0 L620.5 891.8 L621.9 891.7 L623.2 892.4 L624.7 893.5 L626.2 899.8 L627.3 904.9 L628.5 911.2 L629.7 919.8 L631.0 929.2 L631.0 929.5" fill="none" stroke="#f0934a" stroke-width="3.0" stroke-linejoin="round"/>
<path d="M190.0 889.5 L191.9 888.5 L193.1 888.0 L194.2 887.4 L196.1 886.4 L197.3 885.8 L198.5 885.1 L200.3 879.9 L202.2 872.8 L203.8 866.9 L205.7 860.5 L207.6 858.2 L208.8 856.8 L210.7 855.3 L212.2 854.2 L213.5 853.4 L215.3 852.9 L216.5 851.5 L217.7 850.0 L219.2 848.2 L221.1 846.2 L222.5 845.5 L223.8 844.4 L225.4 843.1 L227.0 840.9 L228.6 838.9 L230.6 836.2 L232.0 832.9 L233.9 829.2 L235.3 828.2 L237.2 826.9 L238.7 826.5 L240.1 826.6 L241.3 826.7 L242.8 827.1 L244.1 826.5 L245.5 828.2 L246.9 828.5 L248.5 829.8 L250.2 830.6 L251.9 829.8 L253.6 830.1 L255.5 830.1 L257.0 829.7 L258.2 829.6 L259.5 829.5 L261.5 829.2 L262.6 829.1 L263.9 828.6 L265.2 828.0 L266.7 827.3 L268.0 827.5 L269.8 826.6 L271.2 826.6 L272.4 827.9 L273.8 830.1 L275.3 830.3 L276.6 830.3 L277.7 829.6 L279.5 829.5 L281.0 830.0 L282.5 830.7 L284.2 831.7 L285.9 834.3 L287.1 834.7 L288.5 836.9 L289.5 837.9 L291.2 839.0 L292.9 839.5 L294.3 840.2 L295.5 840.8 L296.7 841.9 L298.4 844.4 L299.6 845.8 L301.5 847.2 L303.1 848.2 L304.3 848.6 L305.7 849.1 L307.2 849.3 L308.8 850.6 L310.3 851.0 L312.2 851.4 L314.0 850.0 L315.1 849.1 L316.6 847.1 L318.0 843.7 L319.4 841.0 L321.1 838.3 L322.7 836.7 L324.0 835.4 L325.1 837.5 L326.2 840.2 L327.3 843.1 L328.7 839.3 L330.2 833.2 L331.5 828.7 L333.1 826.4 L334.4 823.7 L336.4 819.4 L337.5 818.4 L338.8 817.3 L339.9 817.1 L341.1 816.1 L342.9 814.3 L344.2 814.0 L346.1 814.1 L347.7 811.6 L349.4 806.3 L350.8 803.9 L351.8 803.5 L353.0 803.0 L354.8 802.3 L356.2 800.7 L357.3 799.3 L358.6 797.8 L360.3 795.6 L361.7 794.5 L363.1 794.1 L364.9 794.3 L366.7 794.2 L368.3 794.8 L369.9 795.1 L371.4 795.9 L373.2 797.0 L375.1 797.8 L376.5 800.1 L378.2 802.9 L379.8 805.4 L381.6 806.0 L383.2 806.3 L384.4 806.6 L386.0 808.1 L387.1 809.6 L388.9 812.1 L390.8 814.0 L391.9 814.6 L393.4 815.3 L394.5 816.0 L396.0 816.7 L397.7 816.9 L398.9 816.9 L400.0 817.1 L401.8 818.5 L403.4 817.6 L404.9 816.0 L406.6 814.9 L407.7 815.0 L409.3 815.6 L411.1 816.7 L413.0 817.9 L414.2 819.3 L415.7 820.6 L416.8 821.4 L418.2 822.6 L419.8 823.4 L421.1 824.5 L422.9 826.3 L424.7 828.1 L425.9 829.3 L427.0 830.5 L428.8 832.9 L430.1 834.4 L431.5 835.7 L432.9 837.2 L434.1 837.0 L435.3 836.1 L437.1 835.2 L439.0 835.3 L440.8 835.0 L441.9 835.0 L443.2 835.4 L444.4 835.4 L445.5 835.4 L446.9 835.2 L448.1 834.3 L449.9 834.0 L451.4 833.9 L452.7 833.8 L454.0 833.8 L455.7 833.8 L457.4 833.4 L458.5 833.0 L459.9 832.3 L461.1 831.9 L462.4 832.6 L463.7 832.7 L465.2 831.9 L466.6 832.0 L468.3 833.1 L469.8 833.3 L471.3 833.2 L472.8 833.1 L474.1 833.0 L475.3 832.9 L476.9 832.8 L478.4 832.0 L479.6 832.4 L481.2 832.2 L482.3 832.2 L484.1 832.8 L485.2 833.2 L487.0 833.8 L488.2 834.2 L490.0 834.8 L491.3 834.3 L492.6 834.1 L494.4 832.7 L495.7 831.6 L496.9 831.5 L498.6 831.0 L499.7 831.9 L501.5 832.1 L503.2 832.0 L504.7 832.2 L506.0 832.3 L507.1 832.8 L508.9 833.6 L510.4 833.4 L511.8 834.0 L513.3 835.3 L515.0 833.5 L516.6 832.1 L518.2 830.8 L519.6 829.5 L521.5 828.9 L523.1 827.1 L524.2 826.8 L525.9 825.8 L527.6 826.5 L529.0 827.5 L530.4 827.8 L531.7 827.6 L532.9 827.0 L534.0 826.8 L535.7 827.3 L537.3 828.3 L539.0 829.7 L540.1 830.7 L541.5 831.1 L543.4 833.1 L545.3 833.7 L546.8 835.4 L548.1 835.8 L549.3 836.6 L551.1 837.9 L552.3 838.7 L553.7 839.7 L555.1 840.9 L556.4 842.5 L558.0 844.2 L559.2 845.4 L560.7 846.9 L561.8 848.2 L563.5 850.1 L564.7 851.6 L566.2 853.5 L567.7 856.4 L569.0 858.4 L570.1 860.2 L571.9 863.9 L573.8 867.8 L575.3 872.3 L576.6 876.3 L578.5 881.1 L579.9 884.6 L580.0 885.0" fill="none" stroke="#84b828" stroke-width="3.2" stroke-linejoin="round"/>
<path d="M190.0 889.0 L191.9 888.0 L193.8 886.9 L195.6 885.9 L196.8 885.2 L198.3 884.4 L199.9 878.8 L201.1 871.4 L202.3 864.6 L203.4 860.3 L205.1 853.8 L206.6 851.0 L207.7 849.3 L209.4 847.3 L210.7 845.8 L212.3 844.8 L213.4 844.1 L215.1 842.2 L216.8 839.8 L218.0 838.0 L219.8 835.8 L220.9 834.5 L222.0 833.2 L223.6 831.1 L224.9 829.5 L226.3 828.1 L227.5 826.6 L229.3 822.5 L230.6 818.8 L232.1 813.3 L234.1 808.8 L235.5 806.4 L237.3 806.7 L239.1 805.4 L241.0 804.8 L242.9 804.8 L244.1 804.9 L245.6 806.0 L247.5 807.3 L248.6 808.1 L250.2 809.5 L251.6 810.8 L253.0 812.4 L254.8 811.2 L256.5 810.8 L257.8 810.3 L259.2 810.1 L260.7 809.5 L262.3 809.5 L263.9 809.7 L265.8 807.9 L267.4 806.2 L268.9 804.1 L270.4 803.2 L271.8 806.1 L273.6 808.8 L275.3 809.5 L276.7 810.1 L277.8 810.9 L279.5 810.3 L281.0 809.6 L282.9 810.2 L284.7 812.4 L286.5 814.8 L287.8 816.8 L289.2 818.9 L291.1 820.4 L292.5 820.7 L294.2 821.4 L295.8 823.4 L297.1 825.0 L298.3 826.6 L300.2 828.8 L301.6 831.0 L303.2 832.7 L305.0 834.5 L306.8 836.4 L308.8 838.2 L310.5 840.0 L311.9 839.5 L313.7 837.7 L315.4 835.7 L317.1 832.8 L318.2 831.6 L319.4 829.7 L320.6 827.2 L322.2 824.0 L323.9 818.7 L325.6 823.7 L327.4 829.5 L328.8 823.3 L329.9 816.2 L331.3 808.7 L332.9 804.6 L334.4 800.3 L336.0 796.9 L337.3 794.8 L339.3 791.7 L340.7 790.2 L341.8 789.8 L343.5 788.9 L344.7 788.5 L345.8 788.1 L347.2 783.8 L348.7 778.8 L350.0 774.0 L351.2 772.1 L353.1 769.3 L354.6 771.1 L356.5 770.3 L357.6 766.6 L359.0 761.9 L360.1 759.7 L362.0 756.3 L363.6 756.5 L364.8 756.0 L366.4 756.8 L367.6 757.0 L369.1 757.1 L370.7 757.1 L372.3 757.1 L373.8 759.1 L375.2 761.8 L376.5 765.0 L378.0 768.8 L380.0 773.6 L381.7 773.9 L382.9 773.6 L384.6 776.3 L386.4 778.5 L388.2 782.3 L389.3 785.5 L391.3 789.2 L392.6 790.5 L394.2 790.5 L395.9 791.4 L397.7 792.3 L398.9 793.0 L400.6 793.8 L402.5 794.0 L404.3 792.8 L405.8 791.3 L407.0 791.3 L408.6 792.8 L410.0 792.5 L411.4 793.8 L413.2 795.3 L414.9 796.5 L416.1 798.7 L417.7 800.3 L419.2 801.7 L420.8 804.2 L422.5 805.8 L424.1 808.4 L426.0 810.8 L427.5 813.2 L428.8 816.2 L430.5 819.6 L431.8 822.1 L433.6 822.0 L434.8 820.8 L435.9 821.3 L437.7 819.7 L439.2 820.7 L440.7 821.2 L442.5 821.8 L444.3 822.2 L446.0 821.3 L447.1 820.7 L448.6 819.6 L450.3 818.9 L452.0 818.9 L453.8 818.4 L455.7 818.9 L456.8 818.3 L458.4 817.6 L460.0 815.7 L461.3 815.4 L463.3 815.9 L464.9 816.6 L466.6 817.6 L467.9 817.3 L469.0 816.7 L470.3 815.9 L471.8 815.0 L473.7 815.9 L475.5 816.6 L476.7 816.5 L478.6 816.1 L480.4 815.5 L481.6 815.7 L482.9 815.6 L484.5 816.3 L485.7 816.6 L487.4 817.5 L489.0 818.4 L490.0 818.9 L491.4 818.1 L492.5 816.7 L493.6 815.2 L495.5 813.3 L496.6 813.0 L498.2 812.4 L499.9 812.5 L501.6 812.6 L502.9 812.8 L504.7 813.1 L506.5 813.1 L507.6 813.6 L509.3 815.3 L510.7 816.5 L512.6 817.3 L513.6 817.4 L514.8 816.3 L516.5 814.2 L518.0 812.7 L519.6 810.7 L521.4 808.4 L522.6 807.2 L523.7 806.3 L525.6 804.6 L527.4 805.8 L528.7 806.8 L529.9 807.7 L531.1 807.6 L533.0 807.3 L534.5 807.0 L536.2 807.0 L537.6 808.4 L539.0 810.2 L540.5 812.0 L542.3 813.8 L544.1 815.6 L545.2 816.7 L546.3 817.7 L547.5 818.5 L549.3 820.2 L550.8 820.7 L551.9 821.4 L553.4 823.9 L554.5 824.9 L555.8 825.3 L557.5 827.6 L559.2 830.3 L561.0 833.2 L562.1 835.0 L563.8 838.0 L565.7 841.2 L567.5 844.7 L568.7 847.0 L570.6 850.6 L572.1 855.1 L573.4 860.1 L574.9 866.1 L576.3 871.8 L577.5 875.3 L578.8 879.7 L579.9 884.2 L580.0 884.0" fill="none" stroke="#f4d126" stroke-width="3.2" stroke-linejoin="round"/>
<rect x="64.4" y="917.6" width="2.7" height="12.9" fill="#7a262c"/>
<rect x="215.6" y="769.9" width="2.6" height="12.7" fill="#7a262c"/>
<rect x="239.5" y="696.1" width="5.2" height="12.8" fill="#7a262c"/>
<rect x="268.9" y="653.9" width="5.3" height="12.7" fill="#7a262c"/>
<rect x="286.0" y="664.4" width="4.0" height="12.7" fill="#7a262c"/>
<rect x="297.3" y="664.4" width="3.9" height="12.7" fill="#7a262c"/>
<rect x="300.3" y="675.0" width="4.4" height="12.8" fill="#7a262c"/>
<rect x="304.5" y="664.4" width="3.2" height="12.7" fill="#7a262c"/>
<rect x="308.5" y="675.0" width="8.3" height="12.8" fill="#7a262c"/>
<rect x="310.0" y="685.5" width="5.8" height="12.7" fill="#7a262c"/>
<rect x="315.8" y="664.4" width="4.0" height="12.7" fill="#7a262c"/>
<rect x="322.6" y="643.3" width="4.0" height="23.3" fill="#7a262c"/>
<rect x="326.6" y="664.4" width="3.0" height="12.7" fill="#7a262c"/>
<rect x="335.6" y="622.2" width="4.6" height="12.7" fill="#7a262c"/>
<rect x="348.1" y="580.0" width="3.3" height="12.8" fill="#7a262c"/>
<rect x="369.3" y="506.2" width="3.9" height="33.8" fill="#7a262c"/>
<rect x="375.2" y="506.2" width="4.0" height="12.7" fill="#7a262c"/>
<rect x="417.6" y="590.6" width="3.3" height="12.8" fill="#7a262c"/>
<rect x="428.8" y="653.9" width="4.0" height="12.7" fill="#7a262c"/>
<rect x="440.0" y="643.3" width="3.3" height="12.8" fill="#7a262c"/>
<rect x="449.3" y="611.7" width="4.6" height="12.7" fill="#7a262c"/>
<rect x="461.5" y="558.9" width="2.1" height="12.7" fill="#7a262c"/>
<rect x="470.4" y="569.5" width="4.0" height="12.7" fill="#7a262c"/>
<rect x="477.0" y="590.6" width="7.2" height="12.8" fill="#7a262c"/>
<rect x="488.5" y="611.7" width="3.1" height="12.7" fill="#7a262c"/>
<rect x="504.7" y="548.4" width="5.1" height="12.7" fill="#7a262c"/>
<rect x="512.0" y="569.5" width="4.2" height="12.7" fill="#7a262c"/>
<rect x="569.5" y="643.3" width="3.5" height="12.8" fill="#7a262c"/>
<path d="M64.4 929.5 L64.4 918.8 L67.1 918.8 L67.1 908.2 L72.8 908.2 L72.8 897.6 L137.4 897.6 L137.4 887.1 L156.5 887.1 L156.5 876.5 L198.5 876.5 L198.5 866.0 L199.5 866.0 L199.5 855.4 L201.0 855.4 L201.0 844.9 L202.3 844.9 L202.3 834.3 L203.3 834.3 L203.3 823.8 L206.8 823.8 L206.8 813.2 L207.0 813.2 L207.0 802.7 L209.8 802.7 L209.8 792.1 L215.4 792.1 L215.4 781.6 L222.8 781.6 L222.8 771.0 L229.3 771.0 L229.3 760.5 L229.8 760.5 L229.8 749.9 L230.0 749.9 L230.0 739.4 L230.3 739.4 L230.3 728.8 L234.5 728.8 L234.5 718.3 L234.9 718.3 L234.9 707.8 L244.7 707.8 L244.7 697.2 L260.3 697.2 L260.3 686.6 L266.0 686.6 L266.0 676.1 L266.2 676.1 L266.2 665.5 L279.4 665.5 L279.4 655.0 L280.4 655.0 L280.4 644.4 L286.0 644.4 L286.0 665.5 L286.3 665.5 L286.3 676.1 L290.0 676.1 L290.0 665.5 L291.0 665.5 L291.0 655.0 L296.0 655.0 L296.0 665.5 L297.3 665.5 L297.3 676.1 L300.5 676.1 L300.5 686.6 L304.5 686.6 L304.5 665.5 L307.5 665.5 L307.5 676.1 L308.5 676.1 L308.5 686.6 L310.0 686.6 L310.0 697.2 L315.8 697.2 L315.8 676.1 L318.0 676.1 L318.0 665.5 L320.5 665.5 L320.5 655.0 L322.4 655.0 L322.4 644.4 L326.6 644.4 L326.6 676.1 L329.5 676.1 L329.5 655.0 L330.5 655.0 L330.5 633.9 L335.6 633.9 L335.6 623.3 L340.2 623.3 L340.2 612.8 L342.5 612.8 L342.5 602.2 L342.8 602.2 L342.8 591.7 L355.0 591.7 L355.0 602.2 L360.0 602.2 L360.0 591.7 L360.3 591.7 L360.3 581.1 L360.6 581.1 L360.6 570.6 L361.0 570.6 L361.0 560.0 L361.3 560.0 L361.3 549.5 L363.5 549.5 L363.5 538.9 L365.0 538.9 L365.0 528.4 L367.0 528.4 L367.0 517.8 L368.6 517.8 L368.6 507.3 L382.5 507.3 L382.5 496.7 L389.8 496.7 L389.8 507.3 L390.0 507.3 L390.0 517.8 L391.1 517.8 L391.1 528.4 L393.7 528.4 L393.7 538.9 L394.4 538.9 L394.4 549.5 L409.0 549.5 L409.0 560.0 L411.6 560.0 L411.6 570.6 L414.6 570.6 L414.6 581.1 L414.9 581.1 L414.9 591.7 L420.9 591.7 L420.9 602.2 L422.8 602.2 L422.8 612.8 L424.0 612.8 L424.0 623.3 L424.1 623.3 L424.1 633.9 L424.2 633.9 L424.2 644.4 L426.8 644.4 L426.8 655.0 L428.8 655.0 L428.8 665.5 L432.8 665.5 L432.8 655.0 L433.0 655.0 L433.0 644.4 L434.0 644.4 L434.0 633.9 L438.5 633.9 L438.5 644.4 L440.0 644.4 L440.0 655.0 L443.3 655.0 L443.3 644.4 L444.6 644.4 L444.6 633.9 L449.3 633.9 L449.3 623.3 L451.5 623.3 L451.5 612.8 L453.9 612.8 L453.9 602.2 L455.9 602.2 L455.9 591.7 L459.0 591.7 L459.0 581.1 L459.2 581.1 L459.2 570.6 L461.5 570.6 L461.5 560.0 L463.6 560.0 L463.6 570.6 L463.8 570.6 L463.8 581.1 L466.5 581.1 L466.5 591.7 L470.2 591.7 L470.2 581.1 L470.4 581.1 L470.4 570.6 L474.4 570.6 L474.4 581.1 L476.4 581.1 L476.4 591.7 L478.0 591.7 L478.0 602.2 L486.3 602.2 L486.3 612.8 L488.5 612.8 L488.5 623.3 L490.6 623.3 L490.6 602.2 L492.0 602.2 L492.0 591.7 L493.6 591.7 L493.6 581.1 L493.8 581.1 L493.8 570.6 L494.0 570.6 L494.0 549.5 L504.7 549.5 L504.7 560.0 L511.3 560.0 L511.3 570.6 L512.0 570.6 L512.0 581.1 L516.0 581.1 L516.0 570.6 L516.2 570.6 L516.2 560.0 L516.4 560.0 L516.4 538.9 L527.0 538.9 L527.0 549.5 L540.2 549.5 L540.2 560.0 L544.2 560.0 L544.2 570.6 L553.4 570.6 L553.4 581.1 L559.4 581.1 L559.4 591.7 L562.0 591.7 L562.0 602.2 L564.6 602.2 L564.6 612.8 L566.0 612.8 L566.0 623.3 L567.0 623.3 L567.0 633.9 L568.0 633.9 L568.0 644.4 L569.5 644.4 L569.5 655.0 L573.0 655.0 L573.0 665.5 L575.5 665.5 L575.5 676.1 L576.0 676.1 L576.0 686.6 L578.0 686.6 L578.0 697.2 L578.3 697.2 L578.3 707.8 L579.0 707.8 L579.0 718.3 L579.3 718.3 L579.3 728.8 L579.6 728.8 L579.6 739.4 L581.0 739.4 L581.0 749.9 L582.5 749.9 L582.5 760.5 L583.0 760.5 L583.0 771.0 L608.0 771.0 L608.0 771.0 L608.6 771.0 L608.6 768.4 L609.2 768.4 L609.2 765.8 L609.8 765.8 L609.8 763.1 L610.4 763.1 L610.4 760.5 L623.3 760.5 L623.3 771.0 L623.5 771.0 L623.5 781.6 L624.3 781.6 L624.3 792.1 L626.2 792.1 L626.2 802.7 L627.1 802.7 L627.1 813.2 L628.5 813.2 L628.5 929.5" fill="none" stroke="#7a262c" stroke-width="2.2" stroke-linejoin="miter"/>
<path d="M64.5 929.5 L65.8 928.8 L67.2 927.9 L68.6 926.9 L70.1 925.9 L71.5 923.8 L73.0 921.6 L73.8 920.5 L75.0 920.3 L76.5 920.1 L77.8 920.0 L79.3 919.8 L80.2 919.7 L81.4 919.5 L82.4 919.4 L83.7 919.2 L84.9 919.1 L85.8 919.0 L86.8 918.8 L87.8 918.7 L89.3 918.6 L90.7 918.5 L91.7 918.5 L93.1 918.4 L94.0 918.3 L95.3 918.2 L96.2 918.1 L97.1 918.1 L98.5 918.0 L99.5 917.9 L100.5 917.8 L102.1 917.7 L103.5 917.6 L104.6 917.6 L106.1 917.4 L107.3 917.4 L108.7 917.3 L109.7 917.2 L111.2 917.1 L112.5 917.0 L114.1 916.6 L115.5 916.2 L116.6 916.0 L117.7 915.7 L118.6 915.5 L119.6 915.2 L120.5 915.0 L121.5 914.7 L122.8 914.3 L123.7 913.8 L125.0 913.0 L126.1 912.4 L127.1 911.7 L128.6 910.9 L129.7 910.2 L130.8 909.3 L132.0 908.3 L133.3 907.2 L134.2 906.5 L135.8 905.2 L136.6 904.5 L138.0 903.5 L139.5 902.8 L140.3 902.3 L141.7 901.6 L142.8 901.1 L144.1 900.5 L144.9 900.0 L145.8 899.8 L146.8 899.6 L148.3 899.3 L149.3 899.1 L150.7 898.9 L152.2 898.6 L153.7 898.3 L154.8 898.0 L155.9 897.5 L157.1 896.7 L158.5 895.9 L159.4 895.4 L160.8 895.0 L162.2 894.9 L163.7 894.8 L164.5 894.8 L166.0 894.7 L166.9 894.7 L168.0 894.6 L169.3 894.5 L170.8 893.8 L171.9 892.8 L173.4 891.4 L174.6 890.3 L175.7 889.9 L176.8 889.6 L177.7 889.5 L178.6 889.3 L179.6 889.1 L180.9 888.8 L182.5 888.5 L183.4 888.3 L184.3 888.1 L185.9 888.0 L187.1 887.9 L188.2 887.8 L189.2 887.8 L190.5 887.7 L191.9 887.7 L193.1 887.6 L194.2 887.5 L195.1 887.3 L196.6 884.7 L197.5 882.4 L198.7 877.3 L200.0 874.0 L201.5 862.8 L202.6 856.0 L204.1 850.2 L205.2 846.5 L206.8 841.6 L208.1 837.6 L209.3 835.2 L210.4 836.7 L211.7 834.2 L212.6 833.7 L214.0 831.0 L215.4 828.3 L216.7 823.9 L218.0 820.5 L219.2 818.5 L220.3 816.1 L221.5 814.6 L222.8 813.1 L224.1 812.0 L225.4 808.7 L226.7 807.6 L227.8 805.5 L229.1 800.1 L230.3 792.1 L231.8 784.2 L233.1 775.1 L234.1 767.9 L235.4 763.2 L236.8 758.4 L237.7 757.2 L238.8 754.9 L240.2 753.5 L241.3 752.7 L242.2 752.2 L243.3 752.0 L244.3 751.9 L245.4 751.7 L246.7 753.7 L248.2 756.6 L249.3 759.1 L250.5 762.1 L251.9 765.9 L252.8 765.6 L254.0 761.8 L255.3 760.9 L256.4 760.0 L257.5 759.6 L258.8 761.2 L260.3 760.9 L261.8 761.0 L262.7 761.2 L263.7 761.4 L264.8 757.1 L265.8 754.8 L267.4 751.0 L268.4 746.9 L269.5 742.7 L271.1 745.3 L272.3 750.7 L273.5 754.9 L274.9 758.4 L276.2 758.7 L277.7 759.5 L278.7 759.6 L280.3 755.2 L281.5 752.0 L282.8 750.1 L284.2 753.0 L285.4 759.7 L286.5 765.4 L287.6 769.0 L288.5 771.6 L289.6 774.5 L290.9 775.1 L292.3 774.9 L293.6 776.6 L295.1 780.6 L296.2 782.2 L297.3 782.6 L298.7 784.6 L299.8 789.6 L300.7 792.6 L301.9 797.7 L302.9 801.8 L303.7 804.8 L305.2 808.6 L306.0 810.1 L307.6 808.4 L309.0 812.8 L310.3 820.0 L311.3 821.7 L312.8 816.7 L314.1 810.8 L315.4 806.3 L316.3 803.0 L317.2 799.9 L318.4 797.5 L319.4 792.0 L320.6 788.8 L321.7 784.4 L323.1 781.5 L324.4 779.3 L325.6 786.4 L326.8 795.6 L328.2 795.0 L329.2 785.5 L330.6 772.6 L332.0 761.6 L333.3 751.6 L334.2 745.1 L335.7 736.7 L337.1 731.1 L338.5 725.6 L339.4 722.5 L340.4 717.5 L341.9 711.3 L342.9 706.3 L343.9 704.3 L345.2 707.5 L346.3 706.9 L347.7 695.3 L348.9 682.3 L350.2 669.6 L351.3 661.8 L352.1 655.7 L353.0 649.0 L354.4 657.0 L355.6 664.2 L356.7 651.5 L357.7 642.0 L358.8 630.9 L360.3 616.7 L361.3 608.5 L362.2 602.9 L363.2 603.2 L364.8 607.4 L366.3 613.8 L367.4 612.6 L368.8 610.5 L370.1 607.0 L371.1 607.4 L372.1 607.9 L373.2 614.2 L374.3 621.6 L375.6 632.2 L376.7 643.9 L378.0 657.1 L378.8 667.2 L380.2 679.2 L381.4 683.7 L382.5 678.9 L383.4 673.9 L384.9 685.5 L386.0 687.3 L387.1 688.8 L388.1 690.5 L389.0 699.3 L390.5 714.1 L391.7 725.7 L392.6 729.6 L393.6 732.9 L394.8 733.7 L395.7 735.4 L396.9 736.1 L398.2 738.2 L399.3 738.5 L400.3 739.7 L401.3 742.3 L402.7 742.7 L403.7 740.5 L404.7 738.2 L405.8 736.0 L406.7 734.1 L407.7 735.1 L408.8 737.3 L410.0 739.6 L411.3 741.7 L412.6 740.3 L413.8 742.6 L415.3 746.8 L416.4 748.1 L417.3 749.4 L418.3 750.7 L419.6 753.6 L420.5 757.1 L421.3 760.0 L422.3 762.8 L423.7 766.7 L424.7 768.4 L425.8 771.1 L427.1 775.4 L428.0 776.0 L429.3 781.6 L430.7 789.3 L431.8 792.3 L433.0 796.7 L434.5 795.3 L435.7 793.6 L437.2 788.8 L438.7 788.6 L440.0 792.8 L441.1 794.3 L442.1 795.7 L443.4 797.3 L444.8 797.4 L445.9 796.3 L447.4 794.6 L448.7 791.2 L450.1 789.7 L451.1 790.7 L452.4 792.5 L453.9 792.0 L455.2 791.6 L456.6 789.9 L457.5 788.7 L458.4 787.5 L459.5 786.3 L460.6 785.0 L461.7 783.0 L463.3 785.8 L464.6 786.3 L466.0 788.0 L467.3 788.6 L468.4 787.0 L469.3 785.7 L470.5 784.4 L471.6 782.9 L472.9 784.3 L474.3 787.7 L475.8 788.8 L477.2 788.0 L478.4 786.8 L479.9 785.8 L480.8 784.9 L481.7 785.5 L483.2 784.9 L484.2 786.3 L485.5 787.7 L487.0 789.1 L488.0 789.9 L489.3 789.8 L490.6 790.9 L491.5 791.3 L493.0 785.1 L494.1 782.9 L495.2 780.8 L496.5 776.1 L497.3 775.4 L498.6 776.6 L499.6 779.0 L500.9 778.6 L502.1 781.2 L503.1 780.1 L504.7 779.8 L506.0 779.1 L506.9 778.9 L507.9 780.9 L508.8 782.0 L510.2 787.1 L511.6 788.5 L513.1 789.8 L514.1 790.3 L514.9 788.3 L516.1 784.9 L517.4 781.8 L518.6 778.1 L519.5 775.7 L520.8 773.9 L522.3 770.0 L523.7 764.6 L524.6 762.4 L526.0 763.4 L527.1 766.2 L528.5 767.5 L529.6 768.8 L530.4 767.6 L531.8 767.0 L532.8 766.6 L534.0 767.0 L535.1 765.2 L536.2 765.0 L537.6 768.7 L538.4 771.0 L539.6 773.9 L540.8 776.6 L541.8 780.2 L543.0 782.8 L544.0 785.1 L545.2 786.9 L546.4 787.8 L547.6 789.7 L548.9 790.4 L549.8 790.1 L551.3 793.1 L552.4 796.3 L553.8 801.3 L555.2 803.4 L556.8 804.5 L557.9 805.4 L559.1 808.2 L560.4 811.5 L561.4 811.2 L562.5 817.2 L563.5 821.2 L564.9 826.1 L565.9 829.8 L567.4 832.7 L568.4 836.4 L569.7 840.5 L571.1 844.7 L572.3 849.6 L573.3 852.4 L574.6 857.4 L575.7 862.6 L577.2 870.2 L578.4 876.0 L579.7 879.6 L580.9 885.5 L582.2 886.2 L583.1 886.4 L584.5 886.7 L585.6 886.9 L586.8 887.0 L588.1 887.0 L589.5 887.0 L590.4 887.0 L591.6 887.0 L592.4 887.0 L593.6 887.0 L594.6 887.0 L595.5 887.0 L596.6 887.0 L597.7 887.0 L599.0 887.0 L600.5 887.0 L601.6 886.9 L602.9 886.9 L604.2 886.8 L605.7 886.7 L607.3 886.6 L608.8 886.6 L609.9 886.5 L610.8 886.4 L612.3 886.2 L613.2 886.1 L614.4 885.9 L615.8 885.8 L617.0 885.6 L618.1 885.5 L619.6 885.3 L620.7 885.1 L621.9 885.3 L623.3 887.1 L624.3 888.3 L625.4 891.8 L626.6 896.7 L627.8 904.2 L628.8 915.7 L630.0 925.1 L630.5 929.0" fill="none" stroke="#000" stroke-width="2.8" stroke-linejoin="miter" stroke-miterlimit="2" stroke-linecap="round"/>
<g stroke="#1f1f1f" stroke-width="1.3" fill="none">
<line x1="57.8" y1="6.4" x2="57.8" y2="929.5"/>
<line x1="639.5" y1="6.4" x2="639.5" y2="929.5"/>
<line x1="57.8" y1="7.0" x2="639.5" y2="7.0"/>
<line x1="57.8" y1="144.0" x2="639.5" y2="144.0"/>
<line x1="57.8" y1="481.3" x2="639.5" y2="481.3" stroke="#0a2a30" stroke-width="1.6"/>
</g>
<g stroke="#595959" stroke-width="1.1">
<line x1="52.8" y1="7.0" x2="57.8" y2="7.0"/>
<line x1="52.8" y1="28.8" x2="57.8" y2="28.8"/>
<line x1="52.8" y1="50.6" x2="57.8" y2="50.6"/>
<line x1="52.8" y1="72.4" x2="57.8" y2="72.4"/>
<line x1="52.8" y1="94.2" x2="57.8" y2="94.2"/>
<line x1="52.8" y1="116.0" x2="57.8" y2="116.0"/>
<line x1="52.8" y1="137.8" x2="57.8" y2="137.8"/>
<line x1="52.8" y1="481.3" x2="57.8" y2="481.3"/>
<line x1="52.8" y1="431.1" x2="57.8" y2="431.1"/>
<line x1="52.8" y1="380.8" x2="57.8" y2="380.8"/>
<line x1="52.8" y1="330.6" x2="57.8" y2="330.6"/>
<line x1="52.8" y1="280.3" x2="57.8" y2="280.3"/>
<line x1="52.8" y1="230.1" x2="57.8" y2="230.1"/>
<line x1="52.8" y1="179.8" x2="57.8" y2="179.8"/>
<line x1="52.8" y1="929.5" x2="57.8" y2="929.5"/>
<line x1="52.8" y1="877.0" x2="57.8" y2="877.0"/>
<line x1="52.8" y1="824.5" x2="57.8" y2="824.5"/>
<line x1="52.8" y1="772.0" x2="57.8" y2="772.0"/>
<line x1="52.8" y1="719.5" x2="57.8" y2="719.5"/>
<line x1="52.8" y1="667.0" x2="57.8" y2="667.0"/>
<line x1="52.8" y1="614.5" x2="57.8" y2="614.5"/>
<line x1="52.8" y1="562.0" x2="57.8" y2="562.0"/>
<line x1="52.8" y1="509.5" x2="57.8" y2="509.5"/>
<line x1="639.5" y1="929.5" x2="644.5" y2="929.5"/>
<line x1="639.5" y1="824.5" x2="644.5" y2="824.5"/>
<line x1="639.5" y1="719.5" x2="644.5" y2="719.5"/>
<line x1="639.5" y1="614.5" x2="644.5" y2="614.5"/>
<line x1="639.5" y1="509.5" x2="644.5" y2="509.5"/>
</g>
<text x="51.8" y="11.3" font-size="12.8" fill="#595959" text-anchor="end">0</text>
<text x="51.8" y="33.1" font-size="12.8" fill="#595959" text-anchor="end" textLength="14.5" lengthAdjust="spacing">10</text>
<text x="51.8" y="54.9" font-size="12.8" fill="#595959" text-anchor="end" textLength="14.5" lengthAdjust="spacing">20</text>
<text x="51.8" y="76.7" font-size="12.8" fill="#595959" text-anchor="end" textLength="14.5" lengthAdjust="spacing">30</text>
<text x="51.8" y="98.5" font-size="12.8" fill="#595959" text-anchor="end" textLength="14.5" lengthAdjust="spacing">40</text>
<text x="51.8" y="120.3" font-size="12.8" fill="#595959" text-anchor="end" textLength="14.5" lengthAdjust="spacing">50</text>
<text x="51.8" y="142.1" font-size="12.8" fill="#595959" text-anchor="end" textLength="14.5" lengthAdjust="spacing">60</text>
<text x="51.8" y="485.6" font-size="12.8" fill="#595959" text-anchor="end">0</text>
<text x="51.8" y="435.4" font-size="12.8" fill="#595959" text-anchor="end" textLength="14.5" lengthAdjust="spacing">50</text>
<text x="51.8" y="385.1" font-size="12.8" fill="#595959" text-anchor="end" textLength="22.0" lengthAdjust="spacing">100</text>
<text x="51.8" y="334.9" font-size="12.8" fill="#595959" text-anchor="end" textLength="22.0" lengthAdjust="spacing">150</text>
<text x="51.8" y="284.6" font-size="12.8" fill="#595959" text-anchor="end" textLength="22.0" lengthAdjust="spacing">200</text>
<text x="51.8" y="234.4" font-size="12.8" fill="#595959" text-anchor="end" textLength="22.0" lengthAdjust="spacing">250</text>
<text x="51.8" y="184.1" font-size="12.8" fill="#595959" text-anchor="end" textLength="22.0" lengthAdjust="spacing">300</text>
<text x="51.8" y="933.8" font-size="12.8" fill="#595959" text-anchor="end">0</text>
<text x="51.8" y="881.3" font-size="12.8" fill="#595959" text-anchor="end" textLength="14.5" lengthAdjust="spacing">50</text>
<text x="51.8" y="828.8" font-size="12.8" fill="#595959" text-anchor="end" textLength="22.0" lengthAdjust="spacing">100</text>
<text x="51.8" y="776.3" font-size="12.8" fill="#595959" text-anchor="end" textLength="22.0" lengthAdjust="spacing">150</text>
<text x="51.8" y="723.8" font-size="12.8" fill="#595959" text-anchor="end" textLength="22.0" lengthAdjust="spacing">200</text>
<text x="51.8" y="671.3" font-size="12.8" fill="#595959" text-anchor="end" textLength="22.0" lengthAdjust="spacing">250</text>
<text x="51.8" y="618.8" font-size="12.8" fill="#595959" text-anchor="end" textLength="22.0" lengthAdjust="spacing">300</text>
<text x="51.8" y="566.3" font-size="12.8" fill="#595959" text-anchor="end" textLength="22.0" lengthAdjust="spacing">350</text>
<text x="51.8" y="513.8" font-size="12.8" fill="#595959" text-anchor="end" textLength="22.0" lengthAdjust="spacing">400</text>
<text x="645.8" y="933.8" font-size="12.8" fill="#595959">0</text>
<text x="645.8" y="828.8" font-size="12.8" fill="#595959" textLength="14.5" lengthAdjust="spacing">10</text>
<text x="645.8" y="723.8" font-size="12.8" fill="#595959" textLength="14.5" lengthAdjust="spacing">20</text>
<text x="645.8" y="618.8" font-size="12.8" fill="#595959" textLength="14.5" lengthAdjust="spacing">30</text>
<text x="645.8" y="513.8" font-size="12.8" fill="#595959" textLength="14.5" lengthAdjust="spacing">40</text>
<rect x="57.8" y="968.9" width="282.7" height="19.7" fill="#67a599" stroke="#1a1a1a" stroke-width="1.1"/>
<text x="199.2" y="984.5" font-size="15.2" fill="#000" text-anchor="middle" textLength="101.0" lengthAdjust="spacing" fill-opacity="0.8">Carboniferous</text>
<rect x="340.5" y="968.9" width="287.1" height="19.7" fill="#f04028" stroke="#1a1a1a" stroke-width="1.1"/>
<text x="485.4" y="984.5" font-size="15.2" fill="#000" text-anchor="middle" textLength="56.4" lengthAdjust="spacing" fill-opacity="0.8">Permian</text>
<rect x="57.8" y="949.4" width="87.2" height="19.5" fill="#99b46c" stroke="#1a1a1a" stroke-width="1.1"/>
<text x="101.4" y="964.1" font-size="13.0" fill="#000" text-anchor="middle" textLength="48.6" lengthAdjust="spacing" fill-opacity="0.8">M. Miss.</text>
<rect x="145.0" y="949.4" width="46.6" height="19.5" fill="#b3be6c" stroke="#1a1a1a" stroke-width="1.1"/>
<text x="168.3" y="964.1" font-size="13.0" fill="#000" text-anchor="middle" textLength="44.2" lengthAdjust="spacing" fill-opacity="0.8">U. Miss.</text>
<rect x="191.6" y="949.4" width="48.8" height="19.5" fill="#8cbeb4" stroke="#1a1a1a" stroke-width="1.1"/>
<text x="216.0" y="964.1" font-size="13.0" fill="#000" text-anchor="middle" textLength="46.5" lengthAdjust="spacing" fill-opacity="0.8">L. Penn.</text>
<rect x="240.4" y="949.4" width="50.8" height="19.5" fill="#a6c7b7" stroke="#1a1a1a" stroke-width="1.1"/>
<text x="265.8" y="964.1" font-size="13.0" fill="#000" text-anchor="middle" textLength="48.7" lengthAdjust="spacing" fill-opacity="0.8">M. Penn.</text>
<rect x="291.2" y="949.4" width="49.3" height="19.5" fill="#bfd0ba" stroke="#1a1a1a" stroke-width="1.1"/>
<text x="315.9" y="964.1" font-size="13.0" fill="#000" text-anchor="middle" textLength="47.7" lengthAdjust="spacing" fill-opacity="0.8">U. Penn.</text>
<rect x="340.5" y="949.4" width="158.8" height="19.5" fill="#ef5845" stroke="#1a1a1a" stroke-width="1.1"/>
<text x="421.2" y="964.1" font-size="13.0" fill="#000" text-anchor="middle" textLength="61.1" lengthAdjust="spacing" fill-opacity="0.8">Cisuralian</text>
<rect x="499.3" y="949.4" width="84.1" height="19.5" fill="#fb745c" stroke="#1a1a1a" stroke-width="1.1"/>
<text x="541.4" y="964.1" font-size="13.0" fill="#000" text-anchor="middle" textLength="76.0" lengthAdjust="spacing" fill-opacity="0.8">Guadalupian</text>
<rect x="583.4" y="949.4" width="44.2" height="19.5" fill="#fba794" stroke="#1a1a1a" stroke-width="1.1"/>
<text x="605.5" y="964.1" font-size="13.0" fill="#000" text-anchor="middle" textLength="29.8" lengthAdjust="spacing" fill-opacity="0.8">Lopi.</text>
<rect x="57.8" y="929.9" width="87.2" height="19.5" fill="#a6b96c" stroke="#1a1a1a" stroke-width="1.1"/>
<text x="101.4" y="944.2" font-size="13.0" fill="#000" text-anchor="middle" textLength="41.1" lengthAdjust="spacing" fill-opacity="0.8">Visean</text>
<rect x="145.0" y="929.9" width="46.6" height="19.5" fill="#bfc26b" stroke="#1a1a1a" stroke-width="1.1"/>
<text x="168.3" y="944.2" font-size="13.0" fill="#000" text-anchor="middle" textLength="23.7" lengthAdjust="spacing" fill-opacity="0.8">Ser.</text>
<rect x="191.6" y="929.9" width="48.8" height="19.5" fill="#99c2b5" stroke="#1a1a1a" stroke-width="1.1"/>
<text x="216.0" y="944.2" font-size="13.0" fill="#000" text-anchor="middle" textLength="27.8" lengthAdjust="spacing" fill-opacity="0.8">Bas.</text>
<rect x="240.4" y="929.9" width="50.8" height="19.5" fill="#b3cbb9" stroke="#1a1a1a" stroke-width="1.1"/>
<text x="265.8" y="944.2" font-size="13.0" fill="#000" text-anchor="middle" textLength="30.0" lengthAdjust="spacing" fill-opacity="0.8">Mos.</text>
<rect x="291.2" y="929.9" width="19.7" height="19.5" fill="#bfd0c5" stroke="#1a1a1a" stroke-width="1.1"/>
<text x="301.0" y="944.2" font-size="13.0" fill="#000" text-anchor="middle" textLength="11.5" lengthAdjust="spacing" fill-opacity="0.8">K.</text>
<rect x="310.9" y="929.9" width="29.6" height="19.5" fill="#ccd4c7" stroke="#1a1a1a" stroke-width="1.1"/>
<text x="325.7" y="944.2" font-size="13.0" fill="#000" text-anchor="middle" textLength="27.5" lengthAdjust="spacing" fill-opacity="0.8">Gzh.</text>
<rect x="340.5" y="929.9" width="33.1" height="19.5" fill="#e36350" stroke="#1a1a1a" stroke-width="1.1"/>
<text x="357.1" y="944.2" font-size="13.0" fill="#000" text-anchor="middle" textLength="26.5" lengthAdjust="spacing" fill-opacity="0.8">Ass.</text>
<rect x="373.6" y="929.9" width="21.2" height="19.5" fill="#e36f5c" stroke="#1a1a1a" stroke-width="1.1"/>
<text x="384.2" y="944.2" font-size="13.0" fill="#000" text-anchor="middle" textLength="16.4" lengthAdjust="spacing" fill-opacity="0.8">Sa.</text>
<rect x="394.8" y="929.9" width="39.9" height="19.5" fill="#e37b68" stroke="#1a1a1a" stroke-width="1.1"/>
<text x="414.8" y="944.2" font-size="13.0" fill="#000" text-anchor="middle" textLength="20.0" lengthAdjust="spacing" fill-opacity="0.8">Art.</text>
<rect x="434.7" y="929.9" width="64.6" height="19.5" fill="#e38776" stroke="#1a1a1a" stroke-width="1.1"/>
<text x="467.0" y="944.2" font-size="13.0" fill="#000" text-anchor="middle" textLength="61.8" lengthAdjust="spacing" fill-opacity="0.8">Kungurian</text>
<rect x="499.3" y="929.9" width="24.9" height="19.5" fill="#fb8069" stroke="#1a1a1a" stroke-width="1.1"/>
<text x="511.8" y="944.2" font-size="13.0" fill="#000" text-anchor="middle" textLength="18.5" lengthAdjust="spacing" fill-opacity="0.8">Ro.</text>
<rect x="524.2" y="929.9" width="23.5" height="19.5" fill="#fb8d76" stroke="#1a1a1a" stroke-width="1.1"/>
<text x="536.0" y="944.2" font-size="13.0" fill="#000" text-anchor="middle" textLength="18.8" lengthAdjust="spacing" fill-opacity="0.8">Wo.</text>
<rect x="547.7" y="929.9" width="35.7" height="19.5" fill="#fb9a85" stroke="#1a1a1a" stroke-width="1.1"/>
<text x="565.5" y="944.2" font-size="13.0" fill="#000" text-anchor="middle" textLength="25.2" lengthAdjust="spacing" fill-opacity="0.8">Cap.</text>
<rect x="583.4" y="929.9" width="30.6" height="19.5" fill="#fcb4a2" stroke="#1a1a1a" stroke-width="1.1"/>
<text x="598.7" y="944.2" font-size="13.0" fill="#000" text-anchor="middle" textLength="28.2" lengthAdjust="spacing" fill-opacity="0.8">Wuc.</text>
<rect x="614.0" y="929.9" width="13.6" height="19.5" fill="#fcc0b2" stroke="#1a1a1a" stroke-width="1.1"/>
<text x="620.8" y="944.2" font-size="13.0" fill="#000" text-anchor="middle" textLength="11.7" lengthAdjust="spacing" fill-opacity="0.8">C.</text>
<rect x="627.6" y="929.9" width="12.2" height="58.7" fill="#812b92" stroke="#1a1a1a" stroke-width="1.1"/>
<text x="638.3" y="980.2" font-size="13.0" fill="#fff" textLength="45.5" lengthAdjust="spacing" transform="rotate(-90 638.3 980.2)">Triassic</text>
<line x1="57.8" y1="929.5" x2="639.5" y2="929.5" stroke="#1a1a1a" stroke-width="1.4"/>
<g stroke="#595959" stroke-width="1.1">
<line x1="639.8" y1="988.6" x2="639.8" y2="992.1"/>
<line x1="578.6" y1="988.6" x2="578.6" y2="992.1"/>
<line x1="517.3" y1="988.6" x2="517.3" y2="992.1"/>
<line x1="456.1" y1="988.6" x2="456.1" y2="992.1"/>
<line x1="394.8" y1="988.6" x2="394.8" y2="992.1"/>
<line x1="333.6" y1="988.6" x2="333.6" y2="992.1"/>
<line x1="272.4" y1="988.6" x2="272.4" y2="992.1"/>
<line x1="211.1" y1="988.6" x2="211.1" y2="992.1"/>
<line x1="149.9" y1="988.6" x2="149.9" y2="992.1"/>
<line x1="88.6" y1="988.6" x2="88.6" y2="992.1"/>
</g>
<text x="639.8" y="1003.4" font-size="12" fill="#262626" text-anchor="middle" textLength="22.0" lengthAdjust="spacing">250</text>
<text x="578.6" y="1003.4" font-size="12" fill="#262626" text-anchor="middle" textLength="22.0" lengthAdjust="spacing">260</text>
<text x="517.3" y="1003.4" font-size="12" fill="#262626" text-anchor="middle" textLength="22.0" lengthAdjust="spacing">270</text>
<text x="456.1" y="1003.4" font-size="12" fill="#262626" text-anchor="middle" textLength="22.0" lengthAdjust="spacing">280</text>
<text x="394.8" y="1003.4" font-size="12" fill="#262626" text-anchor="middle" textLength="22.0" lengthAdjust="spacing">290</text>
<text x="333.6" y="1003.4" font-size="12" fill="#262626" text-anchor="middle" textLength="22.0" lengthAdjust="spacing">300</text>
<text x="272.4" y="1003.4" font-size="12" fill="#262626" text-anchor="middle" textLength="22.0" lengthAdjust="spacing">310</text>
<text x="211.1" y="1003.4" font-size="12" fill="#262626" text-anchor="middle" textLength="22.0" lengthAdjust="spacing">320</text>
<text x="149.9" y="1003.4" font-size="12" fill="#262626" text-anchor="middle" textLength="22.0" lengthAdjust="spacing">330</text>
<text x="88.6" y="1003.4" font-size="12" fill="#262626" text-anchor="middle" textLength="22.0" lengthAdjust="spacing">340</text>
<text x="295.2" y="1019.6" font-size="12" fill="#1a1a1a" textLength="125.4" lengthAdjust="spacing">Geological time (Ma)</text>
<text x="11.6" y="76.9" font-size="13.0" fill="#1a1a1a" text-anchor="middle" textLength="78.0" lengthAdjust="spacing" transform="rotate(-90 11.6 76.9)">Documented</text>
<text x="24.8" y="76.2" font-size="13.0" fill="#1a1a1a" text-anchor="middle" textLength="94.2" lengthAdjust="spacing" transform="rotate(-90 24.8 76.2)">glacial deposits</text>
<text x="17.6" y="312.1" font-size="13.0" fill="#1a1a1a" text-anchor="middle" textLength="84.6" lengthAdjust="spacing" transform="rotate(-90 17.6 312.1)">No. of speices</text>
<text x="17.6" y="692.2" font-size="13.0" fill="#1a1a1a" text-anchor="middle" textLength="84.6" lengthAdjust="spacing" transform="rotate(-90 17.6 692.2)">No. of speices</text>
<text x="677.5" y="700.5" font-size="13.0" fill="#1a1a1a" text-anchor="middle" textLength="76.5" lengthAdjust="spacing" transform="rotate(-90 677.5 700.5)">No. of genera</text>
<text x="607.6" y="23.4" font-size="16.3" fill="#000" font-weight="bold">A</text>
<text x="607.4" y="166.6" font-size="16.3" fill="#000" font-weight="bold">B</text>
<text x="607.2" y="506.2" font-size="16.3" fill="#000" font-weight="bold">C</text>
<rect x="93.6" y="65.4" width="9.4" height="11.2" fill="url(#pk2)"/>
<text x="110.6" y="74.9" font-size="13.0" fill="#1a1a1a" textLength="106.5" lengthAdjust="spacing">Volcanism events</text>
<rect x="91.9" y="83" width="11.7" height="11.4" fill="#74f2f6"/>
<text x="110.6" y="91.8" font-size="13.0" fill="#1a1a1a" textLength="62.0" lengthAdjust="spacing">Glaciation</text>
<text x="292.0" y="141.2" font-size="12.3" fill="#1a1a1a" textLength="37.5" lengthAdjust="spacing" transform="rotate(-90 292.0 141.2)">SCLIP</text>
<text x="306.5" y="141.2" font-size="12.3" fill="#1a1a1a" textLength="57.5" lengthAdjust="spacing" transform="rotate(-90 306.5 141.2)">and Tarim</text>
<text x="398.5" y="141.8" font-size="12.3" fill="#1a1a1a" textLength="43.2" lengthAdjust="spacing" transform="rotate(-90 398.5 141.8)">QP-LIP</text>
<text x="413.3" y="141.8" font-size="12.3" fill="#1a1a1a" textLength="69.0" lengthAdjust="spacing" transform="rotate(-90 413.3 141.8)">and Tarim II</text>
<text x="429.2" y="137.3" font-size="12.3" fill="#1a1a1a" textLength="43.2" lengthAdjust="spacing" transform="rotate(-90 429.2 137.3)">QP-LIP</text>
<text x="460.8" y="137.3" font-size="12.3" fill="#1a1a1a" textLength="47.5" lengthAdjust="spacing" transform="rotate(-90 460.8 137.3)">Tarim III</text>
<text x="554.5" y="137.7" font-size="12.3" fill="#1a1a1a" textLength="35.2" lengthAdjust="spacing" transform="rotate(-90 554.5 137.7)">ChMP</text>
<text x="591.5" y="137.7" font-size="12.3" fill="#1a1a1a" textLength="27.2" lengthAdjust="spacing" transform="rotate(-90 591.5 137.7)">ELIP</text>
<text x="634.2" y="137.7" font-size="12.3" fill="#1a1a1a" textLength="27.9" lengthAdjust="spacing" transform="rotate(-90 634.2 137.7)">SLIP</text>
<line x1="92" y1="172.8" x2="104.5" y2="172.8" stroke="#000" stroke-width="2.4"/>
<text x="112.0" y="177.3" font-size="13.0" fill="#1a1a1a" textLength="28.5" lengthAdjust="spacing">Total</text>
<rect x="90.9" y="182.3" width="14.1" height="13.4" fill="#07607a"/>
<text x="111.5" y="193.2" font-size="13.0" fill="#1a1a1a" textLength="70.3" lengthAdjust="spacing">Fusulinidae</text>
<rect x="90.9" y="200.1" width="14.1" height="13.4" fill="#0f959a"/>
<text x="111.5" y="211.0" font-size="13.0" fill="#1a1a1a" textLength="93.1" lengthAdjust="spacing">Ozawainellidae</text>
<rect x="90.9" y="217.7" width="14.1" height="13.4" fill="#e9d2a2"/>
<text x="111.5" y="229.9" font-size="13.0" fill="#1a1a1a" textLength="94.9" lengthAdjust="spacing">Schubertellidae</text>
<rect x="90.9" y="235.8" width="14.1" height="13.4" fill="#f09c08"/>
<text x="111.5" y="246.7" font-size="13.0" fill="#1a1a1a" textLength="97.4" lengthAdjust="spacing">Schwagerinidae</text>
<rect x="90.9" y="253.4" width="14.1" height="13.4" fill="#cf680c"/>
<text x="111.5" y="264.3" font-size="13.0" fill="#1a1a1a" textLength="87.0" lengthAdjust="spacing">Verbeekinidae</text>
<rect x="90.9" y="271.7" width="14.1" height="13.4" fill="#bf4508"/>
<text x="111.5" y="282.6" font-size="13.0" fill="#1a1a1a" textLength="120.3" lengthAdjust="spacing">Neoschwagerinidae</text>
<text x="71.5" y="504.0" font-size="13.0" fill="#1a1a1a" textLength="52.7" lengthAdjust="spacing">Diversity</text>
<line x1="86.9" y1="518" x2="98.6" y2="518" stroke="#7a262c" stroke-width="2.2"/>
<text x="105.4" y="522.2" font-size="13.0" fill="#1a1a1a" textLength="44.7" lengthAdjust="spacing">Genera</text>
<line x1="159.6" y1="518" x2="171" y2="518" stroke="#000" stroke-width="2.5"/>
<text x="176.6" y="521.3" font-size="13.0" fill="#1a1a1a" textLength="48.4" lengthAdjust="spacing">Species</text>
<text x="71.5" y="541.7" font-size="13.0" fill="#1a1a1a" textLength="128.2" lengthAdjust="spacing">Rarefied local ranges</text>
<line x1="86" y1="558" x2="98" y2="558" stroke="#f2a260" stroke-width="1.7"/>
<text x="105.4" y="562.3" font-size="13.0" fill="#1a1a1a" textLength="21.3" lengthAdjust="spacing">100</text>
<line x1="137" y1="558" x2="149" y2="558" stroke="#8cba35" stroke-width="1.7"/>
<text x="155.6" y="562.3" font-size="13.0" fill="#1a1a1a" textLength="21.3" lengthAdjust="spacing">200</text>
<line x1="185" y1="558" x2="197" y2="558" stroke="#f6cf3c" stroke-width="1.7"/>
<text x="203.4" y="562.3" font-size="13.0" fill="#1a1a1a" textLength="21.3" lengthAdjust="spacing">300</text>
<text x="71.5" y="582.4" font-size="13.0" fill="#1a1a1a" textLength="118.1" lengthAdjust="spacing">Confidence interval</text>
<rect x="88.4" y="592.5" width="11.6" height="11.5" fill="#c8501e"/>
<text x="107.0" y="602.4" font-size="13.0" fill="#1a1a1a" textLength="25.0" lengthAdjust="spacing">95%</text>
<rect x="142.7" y="592.5" width="12" height="11.5" fill="#b2aab0"/>
<text x="161.0" y="602.4" font-size="13.0" fill="#1a1a1a" textLength="25.0" lengthAdjust="spacing">95%</text>
</svg>
</body></html>
